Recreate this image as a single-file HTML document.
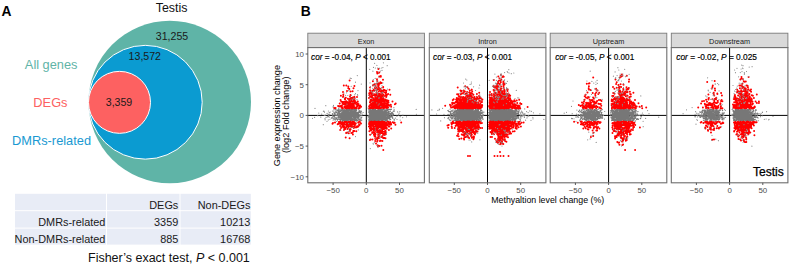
<!DOCTYPE html>
<html><head><meta charset="utf-8"><style>html,body{margin:0;padding:0;background:#fff;}body{width:791px;height:268px;overflow:hidden;position:relative;font-family:"Liberation Sans",sans-serif;}svg{position:absolute;left:0;top:0;display:block;}</style></head><body><svg width="791" height="268" viewBox="0 0 791 268" font-family='"Liberation Sans", sans-serif'><text x="1.4" y="15.9" font-size="13.8" font-weight="bold" fill="#000">A</text><text x="171.6" y="11.9" font-size="12.4" text-anchor="middle" fill="#111">Testis</text><circle cx="169.75" cy="102" r="81.25" fill="#5fb4a7"/><circle cx="145.3" cy="102.25" r="56.9" fill="#0b9bd1" stroke="#fff" stroke-width="1"/><circle cx="119.5" cy="102.35" r="31" fill="#fd6161" stroke="#fff" stroke-width="1"/><g font-size="10.6" fill="#1a1a1a" text-anchor="middle"><text x="172" y="40">31,255</text><text x="144.8" y="60.4">13,572</text><text x="119" y="105.8">3,359</text></g><g font-size="12.8" text-anchor="end"><text x="77.5" y="69" fill="#5fb4a7">All genes</text><text x="67.5" y="107.1" fill="#fd6161">DEGs</text><text x="91" y="144.7" fill="#1a99d2">DMRs-related</text></g><g fill="#e8ecf6"><rect x="15" y="193.8" width="91" height="16.4"/><rect x="107" y="193.8" width="72.5" height="16.4"/><rect x="180.5" y="193.8" width="70.3" height="16.4"/><rect x="15" y="211.2" width="91" height="16.4"/><rect x="107" y="211.2" width="72.5" height="16.4"/><rect x="180.5" y="211.2" width="70.3" height="16.4"/><rect x="15" y="228.6" width="91" height="16"/><rect x="107" y="228.6" width="72.5" height="16"/><rect x="180.5" y="228.6" width="70.3" height="16"/></g><g font-size="10.9" fill="#1a1a1a" text-anchor="end"><text x="178.3" y="208.8">DEGs</text><text x="250.4" y="208.8">Non-DEGs</text><text x="105.4" y="225.8">DMRs-related</text><text x="178.3" y="225.8">3359</text><text x="250.4" y="225.8">10213</text><text x="105.4" y="243.3">Non-DMRs-related</text><text x="178.3" y="243.3">885</text><text x="250.4" y="243.3">16768</text></g><text x="249.8" y="262.2" font-size="12.5" fill="#111" text-anchor="end">Fisher’s exact test, <tspan font-style="italic">P</tspan> &lt; 0.001</text><text x="300.8" y="16" font-size="13.8" font-weight="bold" fill="#000">B</text><rect x="307.8" y="33.2" width="116.6" height="14.4" fill="#d9d9d9" stroke="#7a7a7a" stroke-width="0.9"/><text x="366.1" y="43.7" font-size="7.3" fill="#1a1a1a" text-anchor="middle">Exon</text><rect x="307.8" y="47.6" width="116.6" height="135.2" fill="#fff"/><line x1="307.8" y1="115.4" x2="424.4" y2="115.4" stroke="#000" stroke-width="1"/><line x1="366.3" y1="47.6" x2="366.3" y2="182.8" stroke="#000" stroke-width="1"/><path fill="none" stroke="#8c8c8c" stroke-width="1.2" stroke-linecap="round" d="M342.7 121.4h0M345.7 115.8h0M329.8 114.4h0M358.2 113.3h0M348.2 115.4h0M347.9 117.5h0M328.5 116.3h0M325.3 115.1h0M347 111.1h0M344.4 115.9h0M354.3 110.6h0M356.4 112.5h0M354.6 115.5h0M341.6 115.4h0M333.8 119.1h0M352.5 118.3h0M333.9 116.8h0M337.8 113.8h0M332.4 114.9h0M352.9 114.1h0M342.1 121.5h0M344.7 116.7h0M363.2 112.5h0M342.4 111.8h0M352.5 119.6h0M354.1 111.7h0M352.1 116.4h0M340.6 115.7h0M349.2 119h0M345.1 111.7h0M328.4 116.7h0M339.3 115.8h0M338.4 118h0M333.1 120.1h0M328.9 115.4h0M321.7 114.2h0M340.8 118.3h0M333.9 109.7h0M337.3 115.7h0M352.2 111.3h0M346 110.5h0M340.8 109.1h0M348.7 108.8h0M335.3 118.1h0M334.2 118.3h0M352 115.4h0M343.6 118.9h0M344.2 115.1h0M357.3 113.2h0M332.4 111h0M351 117.9h0M344.8 118.1h0M325.1 119.8h0M342 112h0M335 114h0M338.3 110h0M351.9 119.3h0M331.4 117.7h0M338.1 117h0M355.4 115h0M339.5 114.5h0M353.7 113.7h0M348.8 119.2h0M334 112.7h0M341.7 118.4h0M339.2 116.1h0M345.7 111.3h0M349.2 109.6h0M340.2 112.1h0M342.7 114.9h0M338 110.2h0M338.7 117.4h0M355 119.3h0M335 117.1h0M349.4 108.7h0M338.5 106.3h0M312.5 118.3h0M337.4 120.7h0M351.7 113.6h0M327.2 117h0M332.5 114.1h0M338.4 112.7h0M350.6 118.8h0M351.6 113h0M341.3 118.3h0M336.4 121.5h0M343.7 114.6h0M345 122.1h0M347.5 110.1h0M344 118.5h0M348.8 115.1h0M323.3 124.7h0M349.3 115.2h0M330.2 112.1h0M349.8 121.2h0M339.4 109.3h0M348.4 116.7h0M345.2 112.2h0M346.2 120.3h0M346.8 114.7h0M341.4 118.3h0M350 114.9h0M348.1 110.9h0M354.4 106.9h0M348.3 121.8h0M355.1 116h0M341.4 110.7h0M341 113.9h0M347.7 118.8h0M348.3 109.4h0M359.2 123.6h0M340.8 114.1h0M334.9 113.7h0M354.7 119.9h0M339.9 115.9h0M323.4 111.3h0M341.2 118.5h0M351.9 116.8h0M351.5 119.3h0M341.8 111.6h0M337.3 110.8h0M336.9 117.4h0M327.1 113.4h0M342 106.9h0M335.8 112.8h0M351.1 117.4h0M339.7 112.3h0M328.3 119.9h0M318.8 113.1h0M351.4 114.7h0M342.7 108.9h0M335.4 112h0M328.1 114.3h0M347.5 117.2h0M317.7 115.7h0M355.2 119h0M333.6 106.8h0M355.7 115.1h0M354.7 114.5h0M328.4 111h0M362.6 114.8h0M347.5 112.2h0M355.9 116.6h0M338.9 113.7h0M338.2 116.9h0M349 111.5h0M358.3 119.8h0M348.1 116.5h0M344.6 121.8h0M354.1 114.5h0M350.9 113.1h0M347.3 115.5h0M360.2 113.2h0M333.2 111.1h0M336.3 115.1h0M341.2 114.8h0M336.2 112.5h0M353.5 113.5h0M336 111.3h0M324.3 115.5h0M337 109.9h0M339.4 121.4h0M351.3 115.1h0M341.3 118.6h0M340.6 110.4h0M340.3 116.3h0M343.5 114.5h0M353.9 118.7h0M333.4 118.3h0M338.5 108.8h0M349.7 119.4h0M349.5 109.3h0M361.9 120.1h0M348.8 114.8h0M342.6 110.4h0M356.2 117.7h0M356.3 115.1h0M323.9 111.2h0M324.5 112.2h0M356.9 116.8h0M340.7 109.8h0M348.6 111.7h0M341 122.1h0M335 112.1h0M350.4 116.4h0M334.4 116.7h0M325 118.7h0M348.3 118.4h0M333.5 105.4h0M361.9 113.2h0M329.9 119.5h0M356.7 112h0M340 122h0M346.8 116h0M342 110.3h0M320.8 117.2h0M344.7 122.4h0M343.3 112.4h0M329.4 117.1h0M348.7 111.6h0M347.4 112.8h0M348.4 115.4h0M346.6 117h0M350.5 116.4h0M332.9 115.8h0M338 124.2h0M340.3 110.9h0M338.9 107.9h0M340 117.2h0M355.7 115.7h0M358.3 109.5h0M344.7 121.6h0M333.9 112.3h0M335.9 109.6h0M327.7 116.6h0M350.5 117.5h0M342.1 124h0M352 109.1h0M347.4 110.1h0M341.2 114h0M341 113.3h0M328.5 114.7h0M346.1 112.3h0M350.6 109.1h0M357.2 113.3h0M350.3 117.7h0M348.4 118h0M339.2 112.5h0M350.6 117.1h0M353.4 116.6h0M341.7 113.1h0M332.4 113.7h0M343.1 115.2h0M358.3 125.7h0M346.5 115.7h0M338.7 111.6h0M352.1 114.4h0M345 112.9h0M334.8 119.4h0M352.9 106.7h0M340.7 110.8h0M332.6 118.2h0M354.8 116.6h0M328.4 115.1h0M354.4 117.8h0M356.6 109.9h0M341.5 116.4h0M353.6 110.7h0M354 110.1h0M362 117h0M344.3 112h0M343 113.7h0M332.6 117.4h0M336.9 111h0M314.6 117.4h0M348.4 123.7h0M355.4 114.3h0M348.3 118.7h0M351.7 118h0M338.1 110.2h0M349.1 109.8h0M349 115.1h0M333 106.9h0M337.6 115.2h0M344.4 116h0M358.4 116.9h0M360.1 116.8h0M335.2 120.2h0M345.7 113.8h0M340.4 120.3h0M358.3 117.1h0M348.5 117.1h0M341.1 114.5h0M344.4 118.8h0M343.6 112.2h0M334.8 117.9h0M335.8 119.4h0M329.2 112.5h0M347.8 111.4h0M339.4 112.2h0M347.1 114.9h0M341.2 116.5h0M331.3 118.5h0M358.6 122.4h0M327 121.3h0M344.7 116.1h0M341.8 113.6h0M348.5 110.5h0M343.4 118.3h0M338 117.1h0M351 114h0M340.2 114.5h0M348.2 114.6h0M350.3 105.2h0M345.6 114.9h0M344.3 116.3h0M347.8 114.6h0M350.2 111h0M335.8 115.3h0M360 116.9h0M356.1 122h0M351.8 119.2h0M326 117.4h0M335.7 114.9h0M351.3 109.9h0M348 113.3h0M351.1 109.8h0M345.8 114.7h0M358.5 119.2h0M342.6 119.1h0M354.2 118.6h0M344 115.2h0M359.2 118.9h0M329.1 114h0M349.2 107.6h0M361.3 115.6h0M340.5 115.2h0M315 108.4h0M334.1 113.1h0M325.8 105.7h0M389.2 113.8h0M380.9 114.7h0M382.4 117h0M375.4 118.2h0M386.7 110.4h0M384.2 110.7h0M387.8 112.7h0M394.2 119.2h0M377.1 115.8h0M378.4 114.6h0M416.2 109.4h0M369.4 109.6h0M371.8 116.4h0M372.8 110.8h0M374.1 118.7h0M399.9 111.6h0M370.9 115.7h0M368.1 117.9h0M376.7 117.2h0M380.1 114.9h0M375.1 123.4h0M390 114.7h0M386.4 116.7h0M379.6 113.7h0M380.8 119h0M373.9 119.8h0M380.3 119.7h0M378.1 116.2h0M372.3 118.8h0M374.9 111.1h0M375.9 113.5h0M402.7 117.6h0M384.2 106.4h0M387.6 108.7h0M384.9 117.8h0M369.7 115.7h0M379.1 114h0M374.7 114.2h0M377.9 120.9h0M385.8 116.8h0M378.2 113.6h0M383 109.2h0M374.4 115.5h0M377.4 110.5h0M375 114.2h0M381.9 112h0M372.9 120h0M385.2 112.2h0M376.3 114.9h0M382.3 120.5h0M376.3 106.3h0M387.8 113h0M371.6 108.7h0M378.2 121.3h0M400.2 116.7h0M372.6 114.7h0M390.7 115.7h0M395.6 118.1h0M377.2 117.3h0M375.3 115.6h0M383 118.9h0M378.9 116.6h0M387.5 122.8h0M372 110.9h0M391.5 113.8h0M373.5 118.1h0M381.5 118.4h0M373.5 113.1h0M382.2 120.3h0M370.6 118.9h0M393.9 121.9h0M381.9 114.1h0M385.2 119.9h0M385 114.9h0M377.8 116.6h0M381 118.2h0M382.6 113.5h0M378.7 114h0M384.8 122.1h0M379.3 111.4h0M381.6 117.4h0M377.3 120.5h0M368.4 121.1h0M375.2 114.5h0M384.7 111.2h0M397 119.5h0M378.3 113h0M378.4 115.2h0M377.7 112.3h0M390.7 109.6h0M384.3 112.7h0M377.8 114h0M373.9 108.1h0M379.5 120.6h0M386.1 114h0M382.9 121.4h0M368.4 119.6h0M381.9 112.8h0M376.6 114.9h0M375 113.3h0M387.5 115h0M385.1 115.4h0M378.6 116.6h0M384.8 116.7h0M392.9 115.7h0M374.7 112.6h0M383.9 108.9h0M379.6 115.9h0M392 114.2h0M375.5 117.6h0M368.6 112.6h0M388.5 116.1h0M376.6 111.3h0M392 116.5h0M369.3 114h0M376.7 116.7h0M369.4 125.2h0M380.5 118.2h0M384.4 114.6h0M388.7 116.2h0M380.4 115.2h0M379.7 114.9h0M383.5 115.3h0M402.9 115.1h0M374.8 115.1h0M387.5 119h0M371.7 118.9h0M381.8 121.8h0M368.5 117h0M380.1 116.8h0M383.6 124.4h0M391.3 109.5h0M368.7 115.9h0M379 117h0M383.5 117.6h0M391.9 112.6h0M389.6 113.6h0M394.1 109.5h0M382.1 113h0M393.9 107.7h0M386.3 118.1h0M416.4 114.3h0M393.4 111.1h0M387.7 120.5h0M392.7 115h0M380.3 111.2h0M381.8 116.8h0M371.6 113.1h0M370.3 107.6h0M388.7 115.3h0M386 120.9h0M369.5 108.4h0M379.6 113.3h0M388.4 117.7h0M375.3 116.2h0M378.8 118.5h0M388 114.1h0M389.1 120.1h0M392.6 115.1h0M372.4 114.7h0M375.6 116.6h0M374.8 113.9h0M388.2 113.8h0M399.1 113.2h0M389 111.8h0M392.3 112.2h0M372.2 109.8h0M385.6 117.1h0M396.9 116.2h0M385.1 107.4h0M390.9 113.3h0M371 115.2h0M380 111.1h0M390.3 116.6h0M376.4 112.7h0M379.6 115.1h0M378.7 111.3h0M374.5 115.7h0M381.2 115.6h0M378.8 123.8h0M372.2 121h0M390.9 115.6h0M371.1 115.2h0M379.6 115.3h0M372.6 116h0M389.2 106.7h0M380.3 114.8h0M373.5 117.4h0M386.9 115.1h0M387.5 110.4h0M387.1 109.1h0M368 108h0M374.2 121.2h0M382.4 117.8h0M400.2 120.1h0M390.4 113.8h0M388.8 112.1h0M378.7 108.9h0M368 116.3h0M384.2 109.5h0M397.6 111.9h0M381.3 119.4h0M383.7 120.6h0M388 114h0M387.2 118.3h0M384.1 115.5h0M406.5 116.8h0M394.3 110h0M371.7 116.1h0M377.5 115.9h0M383.3 116.5h0M380.1 116.4h0M379.5 115.5h0M381.7 117.1h0M373.4 112.1h0M374.9 116.4h0M376.2 111.6h0M381.6 115.4h0M392.7 113.3h0M379.6 112.3h0"/><path fill="none" stroke="#777" stroke-width="1.5" stroke-linecap="round" d="M349.9 116.2h0M350.1 115.4h0M348.4 117.4h0M336.5 112.4h0M351.8 116.2h0M343.7 112.3h0M347.9 116.9h0M343.6 115.2h0M356.6 113.2h0M353.2 109.3h0M346.3 120.9h0M350.7 118.9h0M340.1 118h0M345.4 112.1h0M348.3 113.3h0M345.7 117.5h0M343.5 111.4h0M339 114.8h0M348.7 115.2h0M346.3 113.9h0M338.8 111.1h0M347.7 119.4h0M348.5 116.9h0M357.2 113.9h0M351.3 112.4h0M349.6 114.6h0M348.8 118h0M352.5 113.3h0M342.7 118.9h0M348.5 115.2h0M339.2 111.8h0M341.6 110.2h0M348.2 114.1h0M346.7 116h0M345.2 120h0M347.3 114.7h0M347 110.3h0M342.6 115.9h0M348.4 113.7h0M347.1 113.7h0M342.6 109.6h0M354.2 117.1h0M355.9 116.1h0M347.8 120.8h0M347.9 118.9h0M356 118h0M342.4 119.5h0M351.7 113.7h0M350.8 113.1h0M349.4 114.6h0M354 110h0M345.2 114.2h0M353.7 113.5h0M348.7 117.3h0M344.7 114.7h0M351.4 114.9h0M351.6 120.2h0M351.3 111.9h0M348.3 114.8h0M335.2 109.7h0M354.7 112.7h0M341.5 115h0M350 109.8h0M349.3 115.9h0M354.9 116.4h0M355.5 110h0M341.9 114.9h0M347.9 118.9h0M345.2 114.1h0M344.2 116.5h0M350.8 117.3h0M346.2 113.9h0M346.7 118.6h0M352.1 116.3h0M343.5 111.1h0M350.9 116.8h0M349.7 118.1h0M347.8 117.9h0M342 112.4h0M358.9 116.6h0M346.7 120.1h0M351.5 115.7h0M339.8 119.4h0M355.3 119.8h0M355.9 114.7h0M344.7 117.4h0M343.1 113.8h0M352.7 118.9h0M348.1 114.5h0M353.8 112.8h0M345.7 114.8h0M347.9 114.6h0M345.8 116.4h0M345.1 116.7h0M347.6 110.5h0M348.4 112.4h0M349.9 116.3h0M350.5 116.7h0M350.9 115.2h0M342.3 119.2h0M352 114.6h0M350.2 117.7h0M348.5 120h0M346 116.3h0M348.6 115.3h0M339.9 115.2h0M346.2 120.9h0M337.7 114.4h0M355.3 118.5h0M347.8 113.9h0M348.3 115.7h0M341.5 119.3h0M352.4 115.3h0M338.9 119h0M334.8 114.7h0M354.4 113.5h0M350.3 114.2h0M342.9 113.1h0M343.3 114.6h0M352.4 120.2h0M337.3 110.6h0M346.4 115h0M353.5 119h0M351.9 120.1h0M345 119.8h0M359.3 112.3h0M341.7 115.5h0M345 112.8h0M341.7 117.4h0M348.7 109.2h0M343 110.1h0M346.2 115.9h0M344.4 119.5h0M357.7 120.5h0M341.9 109.3h0M348.7 115.7h0M349.9 119.2h0M346.4 113.2h0M339.5 113.4h0M347.6 115.3h0M348.9 114.5h0M351.4 117.1h0M349.3 119.2h0M353.8 115.5h0M335.8 118.1h0M343.7 111.3h0M347.3 111.2h0M355.3 117.2h0M341.2 115.9h0M348 119.4h0M350.5 114.1h0M354.5 118.7h0M352.9 112.9h0M349.5 117.8h0M349.3 116.8h0M355 116.8h0M345.9 120.5h0M356.8 119.4h0M349.2 113h0M348.8 118.7h0M348 119.1h0M347.3 117.4h0M353.5 117.3h0M347.2 115.6h0M346.8 118.5h0M343.5 113.7h0M346.7 118h0M343 114.4h0M344.2 113.8h0M350.3 115.9h0M343.1 115.2h0M355.9 116h0M350 119.6h0M354.6 115.4h0M354.5 116.2h0M351.6 118.2h0M352.6 112.1h0M337.3 115.1h0M351.9 116.4h0M337.8 119.3h0M356.2 112.6h0M345.5 114.5h0M341.5 117h0M347.8 114.3h0M344 114.5h0M341 116.4h0M345 111.7h0M343.9 112h0M352.8 115.6h0M352.8 114.2h0M358.5 112.8h0M345.3 117.5h0M347 119.3h0M351.3 117.7h0M344.4 113.8h0M360.9 118.7h0M344.6 110h0M342.9 115.6h0M353.9 117.4h0M349.1 117.6h0M352.6 111.1h0M351 109.8h0M353.8 113.5h0M347.7 109.2h0M346.2 110.7h0M350.1 115.5h0M360.4 119.9h0M353.9 115.4h0M342.6 120h0M346 116.2h0M348.2 117.2h0M350.6 119.1h0M346.5 113.9h0M351.5 116.5h0M341 113.9h0M348.9 112.9h0M340.2 117.8h0M355.1 112.2h0M347.3 115.6h0M347.1 112.3h0M343.4 115h0M347.1 113.3h0M348.6 119.5h0M357.6 115.6h0M344.5 115.6h0M359 111h0M347.7 115.2h0M344.4 116.9h0M343.9 117.7h0M354.3 116.2h0M345.1 111.9h0M350 116.3h0M345.6 114.2h0M346.5 110.9h0M340.7 116.8h0M353.8 113.3h0M348.3 113.4h0M344.7 115.9h0M354.5 116h0M348.1 112h0M345.3 119.9h0M344.1 111.3h0M339.7 110.9h0M349.8 116.3h0M346.8 115.6h0M346.3 115.4h0M349.3 113.5h0M347.1 115.3h0M342.6 113h0M349.1 117.9h0M338.4 111.2h0M353.2 114.2h0M357.3 117.9h0M351.3 115.2h0M348.7 109.8h0M351 112.2h0M355.4 115.4h0M356.6 120.2h0M343.9 114.1h0M348.5 109.6h0M347.4 119.4h0M350.9 111.6h0M346.3 114.3h0M350.2 118.4h0M344.2 112.5h0M349.8 113.3h0M347.5 116.9h0M350.2 114.3h0M350.5 116.1h0M345.3 111.4h0M351.7 114.6h0M348.2 110.9h0M347.7 109.1h0M357.9 116.8h0M349.5 118.5h0M346.2 111.3h0M348.3 114.9h0M343.4 114.2h0M352.9 109.6h0M349.8 117.1h0M344.6 112.3h0M332.9 114.2h0M353.5 109.3h0M343.2 118.8h0M344.3 117.9h0M349 116.5h0M343 111.6h0M346.8 113h0M350.3 119.7h0M340.8 114h0M354.7 116h0M353.1 115.6h0M351.6 110.8h0M354.8 120.8h0M352 115.9h0M351.1 114.7h0M334.2 116.3h0M357.9 117h0M347.3 115.2h0M354.6 111.9h0M355.1 116.7h0M350.6 119.3h0M349.3 115.9h0M344 118.3h0M340.8 117.9h0M340.6 120.3h0M350.9 112.5h0M352 113h0M353.4 117h0M351.9 117h0M345.1 120.8h0M359.4 119.4h0M352.3 115.7h0M359.4 115.9h0M341.7 114h0M352.3 113.6h0M350.8 113.3h0M344.8 118.5h0M351.8 113.3h0M343.5 113.7h0M349.2 115.7h0M355.7 113.1h0M353 114.2h0M338.7 116.5h0M344.5 113.9h0M348 115.8h0M349.3 116.5h0M350.8 115.8h0M344.5 115.9h0M341.2 117.6h0M349.5 116.9h0M351.9 114h0M346.8 116.3h0M350.7 120.3h0M345.4 114.2h0M352.4 112h0M356.7 120.5h0M341.7 116.5h0M358.2 114.9h0M353.1 116.2h0M359.3 114.9h0M343.7 116.6h0M345 114h0M353.2 116.4h0M345.3 116.1h0M350.6 113.1h0M343.6 114.6h0M346.7 116.7h0M353.6 117h0M347.2 117.7h0M336.6 118.5h0M353.7 116.5h0M344.3 117.5h0M346.5 114.1h0M344.4 114.5h0M343.4 119.4h0M349.6 116.9h0M351.4 116.8h0M345.8 111.9h0M348.2 110.4h0M349.8 109.8h0M343.4 118h0M347.7 113.8h0M360.9 115.3h0M343.5 116.2h0M344.2 116.8h0M348 117.2h0M348.9 115.7h0M356.2 109.1h0M344.9 120.7h0M346.7 119.9h0M341.9 112.9h0M354.1 114.4h0M348.1 113.2h0M345.6 113.8h0M346.9 115.1h0M350.8 114.1h0M360.9 111h0M347 118.4h0M338.3 112.9h0M354.4 120.3h0M342.4 114.6h0M352.2 112.5h0M342.8 116.8h0M358.1 118.5h0M361.2 111.6h0M349 114.1h0M361.1 120.6h0M352.2 111.3h0M359 111.9h0M339.9 115.8h0M347.7 110.5h0M349.1 116.6h0M350.2 117.6h0M349.9 117.4h0M351 116.6h0M356.4 110.5h0M342.6 117.7h0M347.6 119.5h0M352.1 112.5h0M348.4 118.7h0M349.7 113.7h0M355.1 115.9h0M351.9 116.5h0M354.7 109.5h0M356.5 120.7h0M353.3 111.9h0M342.8 114.8h0M345.8 113.3h0M356.9 116.9h0M350.3 116.8h0M355.2 115.2h0M350.9 120.5h0M357.2 116.2h0M353.1 113.6h0M350.6 114.1h0M358.3 114.1h0M343.4 111.8h0M353.1 111.9h0M350.4 117.4h0M343.5 119.1h0M354.4 119.5h0M356.3 112.5h0M348.3 116.1h0M351.1 110h0M349.9 117.9h0M352.9 116.5h0M347.4 112.8h0M346.1 114.8h0M350.8 114.2h0M346.2 112.7h0M343.8 120.2h0M349.7 118.3h0M351.6 119.2h0M340.7 115.8h0M349.1 113.8h0M334.6 113.8h0M352.3 116.7h0M349.1 114.7h0M353.4 117.4h0M356.7 115h0M345.4 117.4h0M346.6 110.3h0M344.2 114.8h0M352.1 120.4h0M347 111.2h0M353.4 112.6h0M345.1 120.4h0M357.4 116.7h0M346 119.2h0M347.6 115.7h0M338.7 110.3h0M350.1 109.9h0M346.3 116.7h0M340.5 119.7h0M347.9 109.5h0M346.2 110.9h0M337.4 112.9h0M341.4 114.7h0M351.6 110.1h0M350.7 117.4h0M350.4 113.8h0M357.1 113.2h0M348.1 113.3h0M355 116.5h0M353.2 119.9h0M347.1 110.6h0M356.7 112.9h0M347.2 120.3h0M344 112.5h0M348.9 113.5h0M350 110h0M345.6 112.2h0M340 117.7h0M347.4 112h0M348.8 110.1h0M351.1 112.7h0M353.7 115.8h0M343.8 112.9h0M348.7 115.7h0M344.5 116.8h0M352.1 115.5h0M357.8 116.2h0M350.2 114.2h0M342.3 118.3h0M343.5 109.9h0M344.3 119.1h0M346.9 113.1h0M348.8 120.1h0M345.1 113.1h0M343.7 116.5h0M354.7 114.4h0M337 119.2h0M347.9 119.2h0M350.1 119.3h0M341 117.7h0M349.5 115.8h0M343.4 111.4h0M352.5 116.8h0M338.3 115.6h0M348.1 109.6h0M355.8 111h0M345.3 110.7h0M346 111.6h0M343.8 114.2h0M343.8 117.6h0M348.5 120.1h0M340.6 111.3h0M356.1 112.8h0M342 120.9h0M348 118.4h0M356.5 115.9h0M349.2 111.1h0M347.1 115.6h0M347.9 112.7h0M349.2 115.3h0M351.2 116.1h0M359.3 110.8h0M345.7 111h0M357.5 112.4h0M358.2 112.6h0M349.4 114.1h0M344.4 116.4h0M339.5 115.9h0M347.9 118.8h0M351.5 109.8h0M343.7 115.8h0M343.1 115.9h0M348.2 114.1h0M350.8 116.2h0M342.6 111.9h0M346.8 116.6h0M354.5 116.5h0M350 112.6h0M350.5 113.3h0M346.8 114.9h0M354.1 117.2h0M350.6 110.6h0M351.6 118.4h0M345.3 113.7h0M343.1 120.6h0M355.6 113.4h0M342.7 112.6h0M361.2 117.4h0M351.6 117.2h0M345.8 113.4h0M350.9 114.5h0M355.4 118.1h0M351.2 117.4h0M359.7 111.8h0M359.4 119.8h0M355.3 116.2h0M353.1 111.3h0M348.7 118.8h0M341 114.3h0M355.4 118h0M352.5 112.9h0M351.1 116.4h0M344.5 116.4h0M348 109.2h0M347.5 115.6h0M347.3 114.7h0M344.8 117.8h0M345.2 116.9h0M349.3 119.6h0M355.1 110.9h0M350.9 110.4h0M347.1 111.9h0M345.6 112.8h0M356.9 114.9h0M353.9 115.7h0M358.4 117.3h0M350.3 114h0M350.2 111.1h0M341.9 118.6h0M348.4 113.7h0M347 119.3h0M338.7 117h0M349.3 113.8h0M344.7 119.5h0M355.5 118.1h0M350.8 113h0M347.3 112.9h0M338.7 117.3h0M348.1 114.1h0M333 116h0M350.9 115.7h0M345.5 116.5h0M354.1 111.6h0M356.3 114.5h0M345.6 112.4h0M354.5 117.8h0M348.3 113.3h0M350.9 114.5h0M352.3 109.3h0M360.6 112.7h0M346 118h0M356.2 115.3h0M338.5 113h0M346.6 120.8h0M349.2 114.7h0M345.8 113.6h0M345.3 119.4h0M357.6 117.1h0M355.3 110.7h0M355.3 112h0M352 112.4h0M340.5 115.5h0M346.7 115.4h0M347.6 116.1h0M350.9 115.8h0M344.2 120.3h0M347.4 117.7h0M341.8 117.9h0M350.9 113.5h0M347.4 110.8h0M347.1 117.2h0M349.8 115.1h0M351.2 118.3h0M345.3 110.1h0M344.6 115.1h0M348.9 118.8h0M344.4 109.7h0M347 112.9h0M346.6 109.5h0M351 115.4h0M344.9 116.1h0M349.3 113.8h0M349.2 119.8h0M350.2 120.3h0M342.1 115h0M353.4 114.1h0M343.1 113.9h0M354.1 113.3h0M352.5 120h0M347.3 115.9h0M340.5 113.7h0M350.3 114.1h0M346.8 117.1h0M352.5 113.5h0M345.4 116.2h0M359.6 114.9h0M356 120.2h0M349.8 119.4h0M348.5 109.6h0M344.1 114.4h0M358.7 117.7h0M357.7 113.3h0M344.1 118.1h0M340.6 116.3h0M381 112.9h0M382.2 115h0M378.9 116.3h0M382.3 111.4h0M377.4 114.9h0M380.1 120h0M369.8 114.1h0M370.5 114.2h0M374.7 113h0M385.6 116.3h0M385.7 117h0M377.1 111.8h0M373.7 115.5h0M371.3 118.7h0M381.4 118.4h0M383.6 109.4h0M371.2 113h0M386.2 120.1h0M376 112.7h0M378.7 115.1h0M387.1 115.5h0M386.1 114.7h0M377.6 116.1h0M373.5 110.7h0M381.1 116.1h0M384.6 117.4h0M374.4 111h0M378.2 115.7h0M383.9 112.8h0M381.1 110.2h0M382 111.7h0M377.7 118h0M375.4 114.4h0M392.5 117.7h0M378.5 113.9h0M376.8 111h0M388.9 112.7h0M377.2 116h0M376 111.8h0M378.5 110.6h0M381.4 112.2h0M380.4 115.9h0M380.6 119.7h0M387.2 115.2h0M371.3 119.6h0M372.2 114.5h0M377.3 116.2h0M378.4 118.8h0M376.9 117.2h0M378.2 119.1h0M372.1 111.6h0M369.6 114h0M378.3 115.1h0M371.2 116.4h0M371.7 117.2h0M386.3 118.7h0M380.5 113.5h0M372.5 111.1h0M380.4 113.4h0M376.1 114.3h0M376.6 113.4h0M372 111.6h0M374.3 118.3h0M369.5 118.7h0M375.9 118.7h0M375.8 117.9h0M382.2 117.1h0M379.9 113.4h0M381.1 113.6h0M378.3 116.1h0M379.6 116h0M375.1 117.4h0M369.6 112.7h0M378.5 115h0M377.2 113.1h0M376.3 120.8h0M385.5 119.2h0M375.1 115.4h0M378.6 113.2h0M380.7 117.3h0M384 116.1h0M382.3 114.9h0M382 113.2h0M372.7 109.3h0M378.6 110h0M380.2 112.4h0M375.4 111.6h0M371.9 115.2h0M371.5 117.7h0M378.3 112.9h0M374.7 120.1h0M374.4 115.6h0M370.5 118.1h0M376 119.2h0M369 116.7h0M371.2 111.7h0M373 113.9h0M390.1 117h0M377.8 114.8h0M391.3 116.8h0M372.4 114h0M381.2 116.1h0M369.6 113.2h0M372.2 112.1h0M382.3 116.9h0M370.6 120.3h0M377.3 115.2h0M369.7 119.6h0M372.3 110.2h0M378.5 114.4h0M377 114.5h0M380 117.8h0M382.4 115.3h0M384.5 117.1h0M377.9 120.6h0M380.3 111h0M377.4 114.7h0M372.8 116.5h0M380.6 112.6h0M377.4 116.4h0M378.8 111.3h0M375.4 114.1h0M380.3 119.7h0M381.6 118.2h0M377.3 118.4h0M374.1 114h0M370.8 114.2h0M386 118.5h0M387.8 114.3h0M370.6 111.9h0M376.5 116.9h0M381.6 113.1h0M376.1 113.2h0M381 114.7h0M376.1 112.1h0M376.1 116.6h0M375 113.6h0M375.5 120.4h0M381 118.2h0M382 119.2h0M371.7 110.3h0M375.1 111.4h0M378.3 116.2h0M373.6 116.9h0M381.1 113h0M384.3 114.1h0M375.2 111.3h0M373.7 113.1h0M371.2 116.4h0M378.3 120.3h0M374.7 117h0M377 118.3h0M372 115.2h0M379 116.9h0M372.3 118.6h0M371.9 111.6h0M378.6 118.6h0M369.8 117.2h0M374.4 118.8h0M383.9 116.6h0M377.7 112.5h0M373.3 113.4h0M375.9 115.1h0M372.7 111.9h0M376.7 112.7h0M391.3 112.9h0M376.2 111.2h0M372.9 110.9h0M370.5 113.9h0M375.4 112.6h0M377.6 119.8h0M375.7 114.8h0M373.9 114.6h0M373.9 118h0M381.8 114.6h0M384.6 114.8h0M387.2 119.2h0M374.3 118.5h0M369.8 114.1h0M380 110h0M386.6 112.6h0M377.5 117h0M380.8 113.7h0M377.8 114.7h0M380.5 109.3h0M372.5 119.4h0M380.8 114h0M373.8 109.2h0M373.4 111.2h0M374.4 116.5h0M384.9 120h0M369.7 116h0M381.6 115.6h0M371.6 114.2h0M374.3 120.9h0M375.8 119.7h0M371.3 115.1h0M370.8 117.1h0M373.7 114.3h0M375.8 116.6h0M370.6 117.4h0M378.4 111.6h0M379.3 119.7h0M379 115.5h0M382.6 118.9h0M370.1 116h0M370.8 114.7h0M377.8 120h0M372.4 116.4h0M375.8 120.8h0M377.1 117.2h0M378.8 112.1h0M379.4 115.3h0M379.3 112.2h0M380.8 111h0M373.7 115.7h0M382 109.5h0M379.1 114.6h0M378.6 119.8h0M376.1 117h0M379.1 113h0M377.7 114.1h0M378.9 117.6h0M375.8 120.8h0M379.3 114h0M374.6 115.4h0M381 116.8h0M372.7 114.3h0M378.7 116.3h0M380.2 116h0M372.9 119.8h0M384.7 112.8h0M377.3 115.3h0M389.8 116.2h0M379.7 112.3h0M375.5 113.8h0M375.8 114.9h0M380.6 109.6h0M377.4 113.2h0M376 110.8h0M388.1 113.1h0M379.4 112.5h0M377.7 113.2h0M382.6 117.5h0M377.7 119.5h0M377.1 118h0M375.9 112h0M377 116.1h0M378.2 110.3h0M378.4 117h0M388.5 117.6h0M376.1 113.7h0M382.3 115.1h0M384.8 117.9h0M382.2 117.6h0M381.2 112.9h0M381.5 112.3h0M379 113.7h0M381.6 112.7h0M373.7 114.9h0M375.7 117h0M380 109.8h0M378.1 112.1h0M386.2 113.6h0M379.6 114.2h0M378.4 113.1h0M375.1 116.2h0M372.8 117.3h0M375.7 117.4h0M376.2 113.9h0M375.4 115.8h0M371.5 115.6h0M389.2 118.7h0M373 114h0M373.1 112.1h0M376.4 115.3h0M369.4 118.7h0M384.6 115.6h0M370.3 115.4h0M375 112.3h0M378.8 116h0M372.5 115.7h0M376.8 111.2h0M384 117.2h0M377.8 113.2h0M380.3 114.2h0M382.2 116.7h0M391.9 116.5h0M375.4 115.3h0M375.2 114.7h0M371.2 117.2h0M375.1 116.9h0M375.8 112.2h0M385 115.2h0M374.9 114.6h0M371.8 117.8h0M370.7 118.5h0M383.6 115.4h0M379 113.5h0M373.1 111.7h0M379.9 114.5h0M389.5 117.2h0M374 117.1h0M377.8 114.8h0M371.7 119.3h0M389.6 116.1h0M382.1 114.1h0M383.5 119.2h0M390 116.3h0M375 111.9h0M374.9 116.2h0M375.4 112.1h0M376.5 118.5h0M376.3 114.2h0M370.7 116.8h0M381.5 115.2h0M372.6 118h0M378.7 116.2h0M378.3 115.6h0M377.4 116h0M372.8 109.6h0M378.1 119.9h0M373.2 112.6h0M373 116.6h0M376.3 113.1h0M381.2 114.2h0M377 113.3h0M382.9 112.6h0M373.7 119.7h0M370.9 110.8h0M376.2 115.4h0M374.1 118.9h0M386.7 109.9h0M380.9 110.7h0M384.7 114.4h0M369.7 116.9h0M372.5 110.2h0M387.1 114.6h0M384.7 116.9h0M398.6 115h0M372.3 112.1h0M377.7 116.6h0M377.9 119.1h0M374.1 119.7h0M380.6 119.7h0M371.4 118.8h0M378.1 116.1h0M374.6 117.5h0M372.5 119.1h0M383.1 114.1h0M377.4 110.5h0M370.1 114.1h0M379.2 117.5h0M386.8 113h0M374.2 112.6h0M377.3 110.4h0M378.6 117h0M379.6 111.1h0M376.5 114.2h0M384.5 112.4h0M382.8 119.8h0M378.3 118.7h0M380.5 112.5h0M373.9 111.4h0M373.1 116h0M370.5 110h0M377.4 113.2h0M379.5 117.6h0M376.2 115.2h0M383.4 118.2h0M388.8 112.3h0M377.9 113.3h0M375.1 114.5h0M372.4 118.1h0M384.4 119.1h0M373 119.5h0M373.7 115.4h0M376.7 112.4h0M377.8 113.5h0M377.1 115.1h0M388.5 109.4h0M375.6 111.6h0M375.7 116.1h0M374.1 115.9h0M374.4 111.7h0M384.8 118.6h0M380.5 115.4h0M379.8 114.6h0M373.9 117.5h0M372.1 116.3h0M374.2 111.2h0M383.5 112.6h0M378.3 109.8h0M383.3 117.3h0M380.9 114.6h0M386 118.4h0M384.4 112.4h0M372.7 110.7h0M376.4 119.1h0M379.2 118.1h0M383.8 109.7h0M379.8 118.9h0M378.2 112.4h0M372.9 120.6h0M377.1 116.9h0M381.7 112.8h0M373.6 114.2h0M377.5 114.4h0M377.3 117.5h0M379.5 113.9h0M387.2 117.8h0M382.3 117.7h0M386.3 115.1h0M377.8 110.9h0M371.7 118.1h0M375.8 111.6h0M378 112.1h0M381.9 117.2h0M390.4 117h0M376.3 113.5h0M376.7 112.9h0M370.8 119.9h0M381.4 117.6h0M373.7 114.6h0M383.3 112.8h0M376.3 113h0M384.5 115h0M373.5 120.2h0M387.4 114.8h0M375.6 111.8h0M381.2 120h0M379.8 118.9h0M374.9 115.4h0M372.3 119.7h0M382.8 115.8h0M371.3 114.7h0M378.1 112.4h0M371.4 113.5h0M380.4 115.6h0M375.1 115.7h0M385.2 113h0M382.8 113.2h0M379.4 110.3h0M384.4 113.1h0M374.4 114.4h0M375.5 111.5h0M385.8 112.6h0M376.1 112.2h0M379.2 114.6h0M381.1 111.9h0M373.8 119.3h0M372.4 111.9h0M379.9 114.1h0M373.5 120.4h0M381.6 114.9h0M383.3 119.7h0M376.4 114.3h0M380.7 117.9h0M369.4 111.6h0M375.1 117h0M381.3 111h0M381.6 114.9h0M372.1 112.5h0M379.5 115.5h0M386.2 110.6h0M382.4 117.1h0M369.4 115.4h0M370.6 119.8h0M382.9 115.7h0M372.1 115.4h0M379.3 111.8h0M379 109.9h0M381.2 115.5h0M379 110.7h0M374 120.1h0M381 120.3h0M373.9 117h0M374.6 119.5h0M381.7 114.7h0M370 113h0M377 114.1h0M378.5 119.7h0M383.9 112h0M370.9 116.5h0M389.6 118.2h0M387.7 109.4h0M381.8 112.4h0M382.2 113.7h0M380.8 115.2h0M386.1 112.2h0M380.6 112.2h0M369 111.1h0M376.7 111.1h0M378.4 116.3h0M380.5 113h0M380.4 110.9h0M380.3 110.6h0M380 112h0M377.8 115.7h0M381.3 116.5h0M381.5 110h0M376.2 112.9h0M372.1 113.6h0M372.3 117.9h0M378 112.2h0M375.2 113.7h0M381.8 111.1h0M382.2 111.3h0M378.2 112.5h0M379.9 119.2h0M389.6 116.3h0M388.5 116h0M372.8 109.2h0M390.2 111.3h0M382.1 117.8h0M377.5 115h0M381.1 119.1h0M375.7 115h0M376 117h0M369.3 115.4h0M382.1 117h0M376.6 116.4h0M376.7 119.1h0M382.7 113h0M374.8 114.2h0M371.4 112.4h0M378.7 115h0M376.7 116.7h0M376 115.3h0M384.8 112.4h0M383.3 113h0M390.1 113.8h0M386.5 112.6h0M377.7 113.6h0M375.8 118.4h0M374.4 117.2h0M382.5 120.3h0M385 111.1h0M370.2 110.3h0M375.7 118.8h0M385.3 117.6h0M382.5 112.8h0M383.5 113h0M376.3 116h0M379.9 119.9h0M370.5 120.8h0M378.4 112.6h0M379.9 118.4h0M382.4 114.3h0M379.9 117.1h0M373 117.3h0M374.8 117.1h0M381.5 112.8h0M392.7 118.3h0M381.4 113h0M386.8 118h0M391.7 113h0M387.2 117.6h0M381.1 112.8h0M371.6 114.8h0M376.9 118.6h0M380.6 117.6h0M376.1 113.7h0M380.4 113.8h0M375.9 110.9h0M381.3 112.2h0M377.4 115.9h0M375.6 116.1h0M378.7 117.8h0M390.5 119.4h0M382.7 118.8h0M378 116.5h0M377.6 116.3h0M376 114.2h0M378.6 119.7h0M375.5 112.3h0M371.2 112h0M378.7 116.3h0M369 109.6h0M386.5 113.8h0M370.6 109.3h0M375.3 111.8h0M377.6 118.7h0M377.5 112.8h0M381.7 110.7h0M389.8 109.4h0M373.9 117.3h0M380.8 113.6h0M379 115h0M388.4 109.8h0M372 115.5h0M369.6 120.2h0M370.7 115.6h0M370.9 120.3h0M385.7 119.3h0M376.5 116.3h0M383.4 112.2h0M379.5 115.6h0M378.4 119.4h0M376.1 117h0M376.5 115h0M387.9 116.5h0M377.3 115h0M382 118.2h0M385.2 114.2h0M381.3 116.6h0M375.8 115.8h0M380.5 114.4h0M382.9 113.4h0M380.9 112.3h0M380.8 111.5h0M377.3 118.1h0M378.5 115.4h0M372.6 110.2h0M373.9 114.4h0M384.6 114.9h0M374.3 114h0M369.9 111.5h0M374.3 115.1h0M373.3 116h0M390.9 115.1h0M376 118.5h0M375.5 111.4h0M373.9 112.4h0M374.6 111.3h0M387.1 115.4h0M381.6 118.8h0M371.6 120.8h0M378.4 115.5h0M379.2 112.6h0M370.7 110.8h0M379.2 113.6h0M385 113h0M377.7 112.5h0M386 114.6h0M387.2 116.5h0M372.1 109.8h0M381 116.3h0M379.1 112.8h0M380.5 114.6h0M373.2 117.3h0M371.7 114.6h0M379.1 110.5h0M375.8 115h0M384.4 119.2h0M381.7 112.7h0M385 110.6h0M370.5 110.9h0M381.6 119.7h0M387.6 116.2h0M377.5 114.7h0M379.3 115.6h0M384.2 119.7h0M372.2 113.6h0M379.2 110h0M385.5 119.1h0M378.4 113.7h0M377.3 119.4h0M381.8 120.8h0M369.8 114.7h0M380.5 114.7h0M370.8 114.5h0M379.5 114h0M373.3 114.6h0M379.2 120.3h0M369.3 116.9h0M373.3 117.2h0M379.4 113.6h0M374.1 114h0M378.8 112.7h0M371.8 118.9h0M369.9 111.4h0M373.2 117.1h0M381 113.7h0M379 113.4h0M384 111.8h0M377.5 112.2h0M370.8 115.6h0M376.6 120.2h0M384.3 116.5h0M379.2 111.7h0M369.7 116.7h0M376.4 114.7h0M375.3 113.8h0M371.4 118.8h0M377 119.8h0M374.3 113.3h0M378.4 113.8h0M383.3 115.4h0M380.5 111.6h0M384 113.9h0M372.8 120.3h0M376.2 110.6h0M373.8 119.6h0M378.7 116.4h0M370.3 116.5h0M383.4 112.8h0M381.9 118h0M380.6 114.5h0M377.6 114.3h0M382 115.2h0M375.9 113.6h0M373.2 118.3h0M375.2 115.5h0M369.7 114.7h0M379.4 113h0M378 112.7h0M382.5 112.3h0M379.6 117.7h0M380.7 109.5h0M382.9 109.4h0M371 116h0M379.2 120.4h0M370.9 116.2h0M379.2 114.3h0M376.5 116.2h0M386.1 112.8h0M380.7 115.6h0M383.8 118.8h0M376.9 113.5h0M378.4 118h0M376.2 113.6h0M374.3 115.5h0M371.1 116.1h0M385.5 119.6h0M379 117.1h0M388.9 116.5h0M376.4 115.5h0M384.3 113.9h0M383.3 119.9h0M378.5 114.8h0M370.9 118.1h0M374.8 115.6h0M378 115.8h0M379.4 110.8h0M369 111.3h0M379.2 116.3h0M373.4 119.4h0M385.8 111.8h0M376 111.6h0M371.9 114.7h0M379.5 115.4h0M370.7 118.7h0M373.2 109.8h0M381 112.3h0M380.5 117.9h0M375.6 110.2h0M377.2 111.9h0M380.9 113.1h0M374.2 113.7h0M382.8 117.2h0M383.7 116.9h0M373.1 112.9h0M371.7 116.6h0M381.2 114.1h0M371.2 115h0M369.9 110.9h0M378.4 117.1h0M370.9 113.3h0M379.7 119.2h0M391.1 109.2h0M378 118.9h0M374.1 110.1h0M377.4 116.2h0M381.7 110.4h0M382.8 111.1h0M384.5 117.3h0M372.6 118.1h0M372.8 117.3h0M379.9 117.1h0M382.1 114.3h0M388.4 115.3h0M387.8 114.6h0M373.3 118.8h0M383.7 116h0M370 120.2h0M378.5 112.9h0M378.6 111.2h0M381.1 110.6h0M381.1 113.4h0M373.3 117.9h0M385.8 118.6h0M378.9 115.8h0M390.1 116.4h0M379.1 113.7h0M383.4 109.5h0M372.6 114.1h0M388.6 116.8h0M369.3 115.8h0M380.8 114.6h0M388.9 111.9h0M376.7 114.7h0M376.3 115h0M383 114.6h0M371.3 110.7h0M381.2 113.2h0M382.1 114h0M384.5 114.7h0M373.2 115.5h0M376.6 115.4h0M373.6 111h0M381.6 113.8h0M377.5 115.9h0M381.2 118h0M378.7 116h0M374.6 109.8h0M378.5 117.5h0M386.7 120.8h0M378.2 113.9h0M384 118.1h0M378.7 118.9h0M384.2 115h0M382.2 113.4h0M378.5 119.4h0M372.7 118.2h0M377 115h0M377.5 114.4h0M374.2 115.8h0M376.3 119h0M379.2 115.6h0M385.7 110.6h0M382.9 112.7h0M383.6 115.7h0M383.4 116.5h0M376.4 112.9h0M376.3 117.9h0M386.7 112.6h0M377.5 118.8h0M376.8 118.2h0M383.3 115.4h0M377.7 117.2h0M369.8 120.5h0M379.6 111.6h0M376 111.1h0M392.8 113.2h0M371.5 111h0M371.6 114.6h0M386 113.5h0M376.1 114.3h0M377.4 119h0M379.4 116h0M373.4 112.2h0M379.7 113.7h0M375 111.3h0M380.1 118.3h0M374.1 110.2h0M376.4 112.8h0M377.2 120.7h0M377 113.2h0M380.2 115h0M369.4 116.3h0M386.1 115.2h0M374.3 118.2h0M381.4 115.1h0M376.6 116.7h0M378.4 111h0M376 114.6h0M383.1 113.3h0M379.6 114.5h0M372.9 109.4h0M382.1 112.1h0M369.4 116.3h0M372.8 112h0M370.6 116.5h0M379.3 120.3h0M369.8 115.5h0M378.7 114.8h0M384.7 116.8h0M387.8 111.1h0M382.2 112.6h0M385.7 110.4h0M377 111.3h0M382 111.6h0M369.9 114.5h0M374.5 113.2h0M377.3 112.9h0M374.5 113.4h0M374.4 113.7h0M378.5 115.8h0M373.6 113.4h0M380.4 116.1h0M377.3 114h0M388.9 113.4h0M375.7 113.8h0M372 120.9h0M374.8 110.1h0M385.8 114h0M377.5 117.2h0M375.3 116.6h0M376.5 110.9h0M378.9 110.5h0M386.2 114.4h0M376.2 118.9h0M387 117.4h0M375.4 114.4h0M386.5 113.3h0M372.2 113.8h0M379.4 114h0M375.3 109.4h0M378.7 109.4h0M371.2 114.3h0M385.1 115.5h0M372.6 110.5h0M372.3 114.3h0M375.1 110.9h0M383.7 115.4h0M371.5 111.9h0M373.1 111.7h0M374.6 109.7h0M388.3 116.2h0M376.8 115.8h0M370.3 116.1h0M378 117.1h0M380 114.1h0M376.7 119.1h0M386.9 110.8h0M377.8 117.4h0M377.7 113.1h0M374.3 112.9h0M380.8 112.2h0M376.8 116.8h0M378.1 115.4h0M384.3 118.8h0M374.2 111.4h0M379.1 115.5h0M377.3 111.2h0M380.6 116.7h0M394.2 120h0M394 111.3h0M370.6 118.9h0M378.2 111.1h0M376.6 120.3h0M372.4 115.4h0M373.2 116.9h0M372.4 110.8h0M385.4 120.8h0M381.4 114.5h0M374.4 113.2h0M389.6 118.5h0M377.6 112.1h0M372 113.9h0M381 113.5h0M375 112h0M371.4 118.9h0M382.8 111.4h0M369.2 120.7h0M378.8 119h0M383.5 113.6h0M375.5 117.3h0M380.6 112.6h0M381.6 112.9h0M376.2 111.3h0M370.8 118.7h0M388.6 112.1h0M388.4 114.5h0M386.1 117.5h0M381.2 114.1h0M374.3 119.3h0M370.8 115.3h0M379.4 119.7h0M374.9 116.3h0M374.7 115.9h0M378.2 112.9h0M380.1 116.4h0M376.9 118.1h0M378.6 109.4h0M378.2 117.2h0M377.5 119.9h0M370.9 118.6h0M376.2 116.7h0M378.4 114.5h0M371.5 111.3h0M374.6 111.9h0M376.8 113.9h0M376 111.4h0M372.3 115.7h0M376.3 113.5h0M369.9 114.2h0M375.8 119.8h0M372.9 116h0M381.5 117.9h0M375 109.1h0M376.5 117.4h0M378.7 112.4h0M380.5 109.9h0M371.4 112.6h0M388 118.3h0M385.8 110h0M391.1 114.6h0M387.8 112.7h0M375.6 116.5h0M374.1 118.8h0M377.6 113.3h0M382.6 111.4h0M376.3 117.5h0M371.2 114h0M372 118.3h0M376.3 114.6h0M386.6 120.3h0M370.8 115h0M378.8 115.5h0M386.3 119h0M372.8 116.2h0M377.3 120.5h0M371.3 113.3h0M383.9 112.1h0M378.8 118.8h0M387.6 117.3h0M380.5 113.4h0M374.2 111.4h0M377.7 113h0M379.2 115.2h0M374.8 114.4h0M384.7 111.4h0M380.2 112.2h0M384.3 117.3h0M378 119.3h0M375.3 120.8h0M375.2 112.5h0M379.2 111.3h0M377.8 117.3h0M383.8 114.1h0M378 118h0M374.4 118.5h0M382.3 113.8h0M374.3 114.7h0M378.4 109.4h0M380.9 109.5h0M375.5 117.7h0M379.9 109.9h0M376 113.3h0M374 117.6h0M375 115h0M374.2 119.8h0M380.8 110.8h0M374.3 117.4h0M389.6 118.9h0M384.8 112h0M371.7 118.1h0M373.9 118.3h0M386.4 109.9h0M393.4 114.6h0M377.7 112.8h0M384.1 113.8h0M383.1 115.7h0M374.2 110.9h0M378.8 109.9h0M378.9 110.1h0M379.1 114.1h0M369.7 118.2h0"/><path fill="none" stroke="#f00" stroke-width="2.0" stroke-linecap="round" d="M347.6 103.2h0M346.4 102.1h0M346.3 101.2h0M344.9 98.5h0M343.1 102.1h0M349.4 102.3h0M343.2 104.3h0M351.9 106.7h0M343.3 96.3h0M355.8 103.5h0M347.2 104.1h0M345.8 107.3h0M350.1 99.2h0M341.2 101.4h0M360.3 105.5h0M344.7 102h0M346.3 85.5h0M350.7 101.3h0M343.8 85.5h0M345.6 107.8h0M357.8 103.4h0M338.1 106h0M349.3 89h0M352.2 108.1h0M349.6 106.8h0M344.9 102h0M354.5 97.6h0M352.6 108.2h0M351.1 99.8h0M352 98.7h0M355.1 102.6h0M340.3 106.5h0M335.6 107.9h0M350.6 107.7h0M350.9 98.4h0M353.1 103.3h0M346.8 106h0M350.1 103.4h0M349.3 101.7h0M348.8 105h0M354.3 96.8h0M347.1 106.6h0M345.2 104.3h0M347.3 108h0M349.4 104.3h0M344 104.1h0M353.7 102.5h0M359.3 107.8h0M343.3 94.4h0M350.1 105.2h0M347.6 106.5h0M350 98.7h0M348.3 88.3h0M350 107.3h0M345.8 97.8h0M357 106.7h0M345.5 108.2h0M341.4 106.6h0M357 96.9h0M348.3 86.5h0M341.9 105.4h0M349 107.9h0M346.2 102.9h0M349.6 107.7h0M345.5 108h0M347.5 102.2h0M351.2 97.9h0M347.1 104.5h0M352.5 107.2h0M352.3 107h0M357.9 105.3h0M350.3 101.1h0M349.8 102h0M352.4 102.6h0M353.4 99.5h0M343 96.9h0M351.4 108.3h0M353.2 101.2h0M356.3 107.5h0M343.4 103.9h0M349 107.4h0M358.5 104.1h0M359.6 108.2h0M347.6 108h0M340.9 95.8h0M348.3 108.1h0M358.9 105.4h0M350.6 100.5h0M351.6 106.7h0M349.3 99.3h0M343 92.1h0M350 106.7h0M340.6 100h0M342.2 102.1h0M349.5 107.7h0M356.4 104.8h0M358.7 108.3h0M353.2 105.1h0M340.4 106h0M355.7 103h0M347.5 106.6h0M342.5 103h0M344.8 106.2h0M347.6 106.9h0M344.9 107.8h0M351.4 106.1h0M352.2 107.6h0M345.4 107.3h0M349.8 107.3h0M342 107.9h0M354.1 100.7h0M342.5 107.6h0M353 104.8h0M357.8 101.6h0M355.7 107.6h0M361.1 106.7h0M356 108.1h0M351.7 97.9h0M343 102.1h0M349.6 80.5h0M347.9 98.8h0M347.5 102.4h0M343.1 102.2h0M342.9 108.3h0M352.6 91.3h0M354.3 103h0M353.9 105.8h0M346.9 108.2h0M347.7 104.3h0M334.2 108h0M348.2 103.2h0M351.7 101.1h0M356.6 108.2h0M352.8 97.5h0M359 108.1h0M358.3 105.7h0M359.9 106.8h0M345.5 107.7h0M348.6 105.5h0M345 99.5h0M349.5 102.1h0M350.2 102.2h0M344.9 103.7h0M344.5 106.6h0M353.5 88.3h0M354.4 86h0M354 104h0M348.2 102.7h0M350.5 91.4h0M348.9 105.5h0M350.5 95.1h0M349.7 100.7h0M345.1 99.5h0M356.7 104.3h0M355 100.9h0M346.7 107.2h0M354.7 107.8h0M349 105.9h0M354.3 108h0M344.8 102h0M349.4 108.2h0M349.7 107.2h0M339.1 106.3h0M349.2 100.5h0M348 102.3h0M351.5 103.4h0M354.5 98.9h0M345.3 106.1h0M355.3 107.9h0M352.3 105.3h0M339.7 103.4h0M347 91.1h0M356 108.1h0M347.2 103.3h0M348.7 106.8h0M350 96.5h0M354.1 107.3h0M356.1 102.6h0M350.8 105.1h0M345.6 104h0M350.7 123h0M352.8 121.8h0M350.4 122.9h0M340.2 126h0M356.3 131.2h0M359.9 122.1h0M341 124h0M345.4 121.9h0M337.7 124.3h0M351.6 125.4h0M350.6 124.1h0M354.9 123.9h0M339.1 123.7h0M340.2 121.8h0M344.3 121.9h0M347 122.2h0M350.4 125.8h0M348.4 122.8h0M344.6 128.5h0M357 126.6h0M352.2 124h0M344.5 124.6h0M352.7 124.5h0M350.8 121.7h0M332.5 123.7h0M354.2 124.1h0M352.9 123.3h0M357.1 126.2h0M335 122.4h0M342.2 126.4h0M348.5 124h0M344 122.5h0M338.8 122h0M349.1 124.3h0M354.5 122.5h0M343.7 125.6h0M346.5 121.9h0M348.8 133.3h0M346.1 127.3h0M359.4 121.6h0M352.7 132.6h0M352.6 123.8h0M342.2 123.9h0M355.8 123.6h0M346.9 124.8h0M347.8 122.5h0M349.8 123.5h0M342.1 124.7h0M355.3 123.9h0M353.5 121.8h0M340.9 123.1h0M354.9 125.8h0M338 123.9h0M354.3 123.6h0M345.2 128.9h0M346.5 122.2h0M349.9 131.1h0M343.4 127.5h0M352.7 123.1h0M347.3 126.3h0M353.8 128h0M359.1 124.6h0M347.4 129h0M346.6 122h0M350.9 123.7h0M342.3 122.3h0M346.2 122.3h0M351.2 122.6h0M349.7 129.6h0M346.8 126.4h0M349 121.8h0M347.2 132.5h0M351.8 125.9h0M343.9 130h0M353.6 130.9h0M350.6 129.3h0M353.9 122.6h0M348.4 127.7h0M344.2 122.6h0M351.8 127.1h0M346.1 133.1h0M343.8 123.6h0M350.3 128.9h0M346 122h0M352.8 121.9h0M353.8 122.9h0M352.1 123.6h0M350.5 122.8h0M341 128.1h0M352.9 134.4h0M358.4 126.5h0M345.7 137.4h0M346.6 123.8h0M350.7 122.5h0M352.3 124.8h0M347.6 123.6h0M346.2 124.9h0M355.3 123.6h0M353.3 123.9h0M351.3 123.2h0M351.5 124.3h0M354.3 130.9h0M346.3 133h0M348.7 126.5h0M356 127.6h0M353.3 131h0M340 122.4h0M353.3 123.2h0M344.9 122h0M340.5 122.8h0M340.4 123.6h0M344.3 123.9h0M344.6 127h0M340.2 130.1h0M358.2 122.5h0M353.1 127.1h0M357.2 127.1h0M333 123.1h0M361 123.4h0M354.1 122h0M354.4 125.9h0M350.5 121.8h0M352 124.8h0M348.5 125.1h0M359.5 125h0M349.2 124.2h0M354.5 127.1h0M343.7 124.6h0M351.1 124.3h0M346.2 122.1h0M343.9 124.2h0M348.5 123.9h0M347.4 123.2h0M351.3 133.1h0M347.5 124.2h0M349.6 138.2h0M354.6 125.3h0M346.8 122.1h0M350.5 126.5h0M346.1 124.1h0M373.6 102.6h0M370 90.5h0M382.5 107.8h0M374.1 107.1h0M384.1 107.9h0M378.9 98.3h0M377.7 103.8h0M383.6 100.3h0M378.8 87.6h0M378.9 91.6h0M369.4 97.8h0M380.1 107.5h0M379.2 107.3h0M371.9 94.3h0M372.1 106.7h0M378.9 95.3h0M377 106h0M385.8 93.6h0M383.6 106.5h0M374.9 88h0M380.5 108.1h0M379.6 95h0M381.5 97h0M380.2 103.7h0M386.6 101.6h0M378.6 95.6h0M376.8 101.8h0M369.3 95.2h0M379.3 107.4h0M370.1 92.6h0M373.5 105.9h0M383.2 96.5h0M373.9 103.6h0M384.6 104.9h0M385.7 106.1h0M380 83.6h0M370.2 107.2h0M376.5 100.9h0M379.1 104.5h0M384.1 107.8h0M385.2 103h0M386.5 108.1h0M375.8 103.5h0M377.7 108h0M377.2 106.9h0M371 107.5h0M369.9 93.1h0M374 102.4h0M379.4 97.9h0M384.5 101.5h0M379.8 102.5h0M377.3 81.1h0M379.5 94h0M383.8 107.1h0M383.3 101.2h0M374 102.3h0M377.2 104.1h0M380.8 99.2h0M379.2 97.4h0M382.9 98h0M382.7 99.2h0M387.3 107.7h0M378.9 87.8h0M369.2 108.2h0M385.4 95.5h0M380.2 102.7h0M370.2 106.9h0M375.7 107.1h0M370.1 107.7h0M370.5 107.6h0M379.5 107.8h0M378.6 99.3h0M383.9 96.3h0M377.1 98.1h0M377.3 96.7h0M369.2 93.2h0M379.4 100.7h0M378.4 100.2h0M372.5 100.3h0M380.4 82.3h0M372 107.2h0M373 85.4h0M371.6 106.8h0M378.7 85.5h0M375.6 101.8h0M379.2 97.7h0M376.9 102.5h0M385.3 106.8h0M383 79.7h0M378.2 103.1h0M377.4 105.1h0M374.9 84.1h0M371.7 104.6h0M382.1 103.4h0M375.8 107.2h0M378.6 97.8h0M374.6 100.7h0M383.9 105.2h0M375 105.8h0M390.5 104.7h0M380.9 107.3h0M385.2 103.6h0M382.9 105.8h0M376.6 94.3h0M371.2 93.6h0M388 103h0M373.6 107h0M387.4 106.3h0M379.2 98.8h0M379.1 89.8h0M374.9 101.5h0M382 106h0M384.5 106.1h0M369.9 102.3h0M370.5 104.3h0M374.3 94.6h0M388.2 104.8h0M380.6 89.7h0M383.5 108.1h0M371.7 106.5h0M384.8 92.2h0M379.7 103.1h0M383.8 103.4h0M379.3 105.2h0M378.8 107.7h0M379.2 99.8h0M378.3 98.8h0M387 101.3h0M384.7 106.3h0M377.4 103.1h0M370.1 97.1h0M381.2 106h0M377.4 89.1h0M372 107.1h0M380.6 89h0M374.5 90.8h0M372.2 98h0M377 104.7h0M373 98.1h0M378.2 108.3h0M383.3 106.5h0M384.7 106.9h0M369.9 105.2h0M375.2 97.4h0M381.2 100.9h0M383.1 101.5h0M379 102.6h0M377.9 103.9h0M379.3 90.2h0M379 107.1h0M380.3 98.9h0M370.9 92.6h0M372.6 93.2h0M380.2 89.1h0M381.7 101.3h0M381.3 102.7h0M383.3 107.6h0M376.8 96.9h0M374.6 103.2h0M376.4 103.6h0M381.6 95.5h0M376.7 90.7h0M376.4 100.8h0M382.7 104.2h0M378.8 107.1h0M378.5 98.9h0M375.2 103.8h0M378.2 102.7h0M370.2 90.6h0M372 97.7h0M375.6 104.5h0M378.2 106.5h0M377.8 106.3h0M382.3 100.7h0M380.5 100h0M386.2 96.9h0M384.2 103.8h0M379.3 76.5h0M378.9 101.8h0M379.5 106.6h0M379.8 105.4h0M377.8 100.1h0M376.7 92.8h0M376.8 96.8h0M386.4 106.9h0M376.9 100h0M381.2 104.4h0M369.6 108h0M383.1 91.8h0M373.2 90.5h0M372.8 106.2h0M374.1 107.9h0M381 108.1h0M380.9 91.7h0M382.8 95h0M380.4 101.7h0M382.6 99.8h0M374.5 99.1h0M382.3 94.3h0M392.5 101.6h0M371.7 107.1h0M381.6 83h0M376.7 101.7h0M384.3 106.2h0M387.1 105h0M377.7 94.5h0M370.4 101h0M372.8 100.2h0M370.6 96.5h0M381 108.1h0M394.9 104.2h0M376.7 105.2h0M381.6 92.2h0M375 105.7h0M387.6 101.9h0M373.5 84.7h0M375.1 107.1h0M372.2 91h0M374.1 99.7h0M376.6 103.3h0M380.7 94.3h0M370.6 99.8h0M381 107h0M370.4 102.3h0M372.8 107.7h0M375.8 101.8h0M373.2 104.4h0M377.7 100h0M380.5 98h0M377.6 105.4h0M369.1 106.2h0M373.9 105.8h0M380.2 89.2h0M371 107h0M371.1 107.3h0M380 96.2h0M376.7 101.3h0M388.4 100.7h0M388.1 94h0M378.4 69h0M380.9 102.8h0M380.2 107.6h0M382.1 92.7h0M370.8 101.2h0M375.6 105.4h0M377.2 107.1h0M379.5 105.2h0M375.2 102h0M384.7 106.9h0M375.3 96.1h0M381.8 91.3h0M373.5 106.1h0M379.7 94.4h0M376 105.9h0M377 72.1h0M384.2 100h0M381.1 108.1h0M377.6 105.1h0M374.3 95.3h0M379.9 104h0M381.7 99h0M384.5 107.6h0M378.9 91.4h0M378.8 102.3h0M373.9 107.1h0M378.4 107.4h0M372.3 108.2h0M385.3 95.6h0M371.5 100h0M371.6 94.3h0M380.4 106.1h0M372.9 95h0M380.8 104.9h0M374.6 85.1h0M376.4 95.9h0M386.1 92.5h0M380.5 104.2h0M378.3 107.7h0M374.1 99.2h0M380 99.8h0M379.8 107.5h0M376.8 102.3h0M375.5 97.8h0M378.7 105.2h0M373.8 106h0M377 79.3h0M374.1 104.2h0M387.6 103.7h0M390.9 105h0M389.2 105.6h0M383.3 96.8h0M370.9 107.5h0M379.2 96.2h0M377.1 104.1h0M378.4 107.1h0M383.8 105.2h0M379.6 102.8h0M384.3 105.6h0M370.3 105h0M376.7 104.3h0M375.3 100h0M375.4 99h0M377.8 94.2h0M375.1 102.5h0M375.5 88.3h0M377 107.7h0M386.6 95.7h0M377.9 107.8h0M378.7 83.2h0M379.4 96.1h0M377.4 105.5h0M381.6 96.1h0M378.3 86.7h0M381.7 104.4h0M381.5 106.3h0M379.9 104.9h0M372.7 107.4h0M378 94.1h0M378.1 108h0M381.3 100.4h0M378.3 101.1h0M377.3 73.4h0M376.8 96.8h0M376.5 93.9h0M384.6 90.1h0M373.9 105.5h0M371 107.6h0M387 100.3h0M376.4 94.8h0M378.1 86h0M375.4 85.8h0M382.4 104.6h0M376.1 95h0M372.4 97.6h0M380.7 101.4h0M375.4 102h0M386.3 90.8h0M375.7 98.3h0M376.8 108.3h0M380.8 76.7h0M380.8 75.9h0M375.6 98.6h0M370.1 87.6h0M371.8 105.4h0M378.1 96h0M383.2 87.1h0M377.9 101.8h0M379.7 108.2h0M381.1 104.8h0M390.3 94.8h0M373.2 107h0M381.9 90.7h0M386.1 94.4h0M377.6 108.2h0M381.5 107.6h0M380.5 102h0M374.8 102.2h0M377.1 83.8h0M382 104.8h0M375.6 108.1h0M379 108h0M381.2 107.5h0M379.2 107.9h0M381.2 107h0M372 103.5h0M374.3 107.7h0M380.7 101h0M378.3 101.7h0M386 107.6h0M386 107.8h0M395.7 103.5h0M377.6 106.5h0M377 99.2h0M378.2 108.2h0M384.6 101.5h0M379.6 107.7h0M382.3 105h0M377.6 84.2h0M376.9 89.5h0M375.8 104.5h0M388.1 107.5h0M385.5 99.5h0M381.6 103.7h0M381 107.4h0M376.2 94.8h0M391.1 106.8h0M382.3 94.9h0M372.6 102.1h0M369 98.1h0M376.4 102.9h0M383.4 104.8h0M375 100.7h0M371 96.3h0M380.6 106.2h0M376 104.3h0M379.4 106.7h0M376.8 98.4h0M387.3 102.9h0M369.6 94.8h0M379.2 95.7h0M370.8 105h0M373.4 99.5h0M381.3 96.4h0M380.9 105.4h0M380.2 106.6h0M386.9 94.9h0M372.9 81.3h0M382.5 107.1h0M384.1 107.2h0M386.5 100.5h0M389.5 89.8h0M374.2 105.1h0M380.6 107.4h0M381.6 102.3h0M383.7 104.5h0M378.6 107.6h0M378.7 104.4h0M381.5 101h0M381 99h0M386.8 107.1h0M379.2 106.1h0M383.6 90.1h0M377.6 100.2h0M375.8 101.9h0M372.3 95.7h0M373.2 108.2h0M381.6 95.7h0M379.5 104.9h0M380.5 104.8h0M382.1 95.7h0M376.1 87.2h0M378.2 103.5h0M375.1 102.6h0M372.4 95.1h0M374.7 94.2h0M386.3 100.3h0M378.8 84.5h0M376.1 107.5h0M385 100.4h0M383.8 106h0M370.6 107.9h0M384.6 107.2h0M380.6 106.7h0M371.3 104.3h0M388.5 102.4h0M373.6 100.6h0M378.7 106.2h0M373.1 100.6h0M379.8 101.2h0M373.8 89.8h0M383.4 94.5h0M371 108.1h0M373.4 104.3h0M375.5 100.2h0M383.1 87.6h0M373.2 94.7h0M373.8 104.2h0M377.6 106.7h0M375.9 103.1h0M379.6 100.6h0M377.3 107.6h0M377.9 104.5h0M378.7 93.7h0M375.3 101.7h0M379.3 72.4h0M378.3 105.7h0M378 72.9h0M378.1 103h0M377 106.1h0M385.8 103.7h0M387.4 106.8h0M377.7 106.2h0M382.3 96.9h0M375.2 99.8h0M373.2 108.2h0M373.8 105.3h0M379.2 104h0M377.8 94.4h0M379 108.3h0M383.6 98.6h0M391.2 128.5h0M382 131.4h0M372 122.1h0M383.8 124.4h0M377.9 146.4h0M390.9 123.2h0M378.3 122.1h0M384.3 122.9h0M371.4 125.9h0M374.3 124.1h0M375.3 138.7h0M374.3 123.6h0M375.4 126.9h0M376.1 125.5h0M381.3 136.9h0M383.2 122.8h0M370.4 123h0M379.3 146.1h0M376 143.5h0M373.4 129.5h0M383.9 125.3h0M390 124.7h0M381.9 121.9h0M379.8 124.9h0M375.9 125.8h0M380.1 123.6h0M385 126.4h0M377 130h0M378.5 122.9h0M375.3 123.9h0M380.7 140.7h0M381.7 126.7h0M375.9 124.9h0M384.1 124.6h0M378.3 122.9h0M378.2 128.2h0M383.7 123.5h0M373.5 125.3h0M380.2 130.1h0M382.8 127.2h0M373.1 128.4h0M372.2 122h0M380 125.3h0M376.3 121.9h0M378.2 121.8h0M381.7 125.2h0M383.5 122.6h0M376.9 124.2h0M377.3 130.5h0M374.8 123.9h0M380 123.8h0M388.7 126.6h0M383.1 126h0M382.3 130.5h0M381.3 123.6h0M369.8 126.7h0M377.1 130.4h0M384.3 134.9h0M377.8 131.6h0M378.2 132.4h0M379.2 136.4h0M371.7 121.7h0M374.7 122.6h0M378.8 134.7h0M376.6 127h0M385.1 125.9h0M379.7 131.6h0M383.2 121.9h0M373.7 128.9h0M379.6 130.7h0M388.9 130.1h0M384.6 125h0M383.2 128.3h0M383.5 121.9h0M382.2 121.6h0M370.6 130.1h0M384.2 125.1h0M376.2 124.2h0M390.5 122.9h0M372.5 139.5h0M383 133.9h0M392.7 122.2h0M381.7 121.9h0M373.1 123.1h0M386.6 127.7h0M379.9 141h0M377 122.2h0M374 130.1h0M388.8 123.8h0M385.1 128.3h0M372.1 133h0M377.2 123.3h0M370.3 127.3h0M376 129.5h0M369.3 122.7h0M376.6 129.9h0M377.1 132.3h0M389.5 122.3h0M383.6 133.6h0M375.8 122.1h0M386.8 128.8h0M381.5 121.8h0M377 128h0M385.2 123.4h0M374.5 130.1h0M387.5 121.8h0M380.7 122.4h0M369.4 131.2h0M375.9 138.6h0M389.4 122.5h0M383.3 127h0M383.1 128.9h0M379.1 135.5h0M377.2 122.6h0M371.7 123.6h0M379.5 124.1h0M371.9 123.8h0M381 131.3h0M381.5 128.1h0M386.8 124h0M376.9 122.2h0M390.1 122.1h0M372.4 128.9h0M374.8 128.6h0M372.9 132.1h0M372.5 132.4h0M375.5 130.7h0M378.3 132.4h0M379.1 125.6h0M383.5 122.7h0M374.8 121.6h0M376.1 127.8h0M379.6 126.6h0M374.6 136.6h0M374.6 136.4h0M381.4 128.2h0M379.8 124.4h0M377.4 127.3h0M369.9 140h0M383.1 137.9h0M379.9 125.8h0M369 123.9h0M373.8 123.3h0M382.2 126.7h0M375 130.1h0M374 135.1h0M394.6 122.8h0M381.5 125h0M373.3 123.3h0M370.9 123.7h0M376.2 122.3h0M384.8 131.2h0M372 129.1h0M378.5 127.5h0M381.7 125.8h0M381.8 123.1h0M386.1 123h0M372.8 122.9h0M382.5 135.9h0M376.3 129h0M377.9 145.5h0M377.3 123.7h0M374.8 123.6h0M385.9 124h0M377.2 129.4h0M379.9 122.2h0M375.5 134.5h0M378.4 134.7h0M383.4 124.8h0M379.7 122.3h0M370.1 134.8h0M373.9 133h0M380.7 123.5h0M371.3 130.4h0M375.2 122.6h0M384.1 128h0M379.3 125.1h0M379.8 130.1h0M375.1 126.7h0M384.3 138.1h0M370.6 129.4h0M387.9 125.3h0M376 122.6h0M374.9 124.3h0M384.1 133.6h0M375.8 122.1h0M379.4 122.3h0M383.6 127.1h0M389.4 126.4h0M380.1 133.7h0M376.3 126.2h0M373.7 132.8h0M375.9 127.4h0M372.2 123.6h0M378.9 138.2h0M370.3 126.8h0M375.6 139.1h0M371.6 121.7h0M376.9 122h0M384.7 133.2h0M380.3 127.5h0M385.8 134.2h0M381.3 126.6h0M376.8 138.3h0M385.2 128.4h0M374.8 123.5h0M387 123.9h0M373.9 134.8h0M374.6 124.1h0M383.1 122.2h0M376.9 124.9h0M379.8 133.3h0M387.3 125.3h0M375.4 136.4h0M387.4 121.7h0M369.9 128.5h0M380.9 122.3h0M380 132.2h0M380.5 123.2h0M377.8 122.1h0M382.1 129.7h0M372.5 122.4h0M382.9 131.7h0M381.1 132.5h0M379.5 126h0M380.8 122.9h0M378 123.8h0M377.9 122.8h0M375 123.6h0M379.9 123.3h0M377.2 141.4h0M376.5 127.1h0M374.7 122.8h0M373.6 123.8h0M385.5 123.5h0M382.2 125h0M381.3 123.4h0M369.9 123.4h0M371.2 122.7h0M381.3 127.4h0M391.1 124.6h0M384.9 122.3h0M371.9 122.2h0M385.5 138.3h0M377.5 140.4h0M379.4 122.8h0M378.2 128h0M370.6 139.6h0M376.5 123.5h0M393.8 123h0M380.6 140.8h0M375 135h0M385.1 123.1h0M370 121.8h0M380.5 127.4h0M375.2 141h0M385.4 126.9h0M374.8 128.8h0M375.3 122.7h0M368.9 126.6h0M376.2 123h0M373.3 122h0M382.4 141.1h0M384.9 133.2h0M384.6 131.7h0M382.6 123.9h0M389.2 122.4h0M380.8 127.8h0M375.9 127.3h0M380.2 122.4h0M380.6 132.9h0M378.4 121.8h0M376.4 128h0M380.1 132.6h0M385.5 125h0M381.7 133.1h0M380.4 121.9h0M370.1 126.8h0M372.8 124.4h0M374 124.4h0M373.4 121.7h0M379.4 135.4h0M401.2 122.4h0M384.4 122.3h0M371.7 122.1h0M378.9 126.1h0M382 121.7h0M370.6 123.8h0M381.4 136.9h0M382 122.9h0M378.5 136.4h0M384.7 123.7h0M380.9 127.8h0M381.8 122.2h0M373.2 124.1h0M376.3 129.2h0M387.9 124.1h0M379.6 121.9h0M373.7 128.9h0M381.9 136.8h0M370.9 123.8h0M379.7 126.5h0M380.4 123h0M381.3 126.3h0M376.3 127h0M379.6 132.7h0M376.9 122.2h0M384.8 122.3h0M378.5 137.2h0M380.3 127.5h0M377.1 122.1h0M384 128.9h0M374.8 123.8h0M372.2 123.2h0M371.4 128.1h0M383.8 123.4h0M374.8 132.3h0M375.9 124.7h0M371.4 125.8h0M376 125.1h0M380.3 124.6h0M371.3 125.7h0M385.6 130.9h0M373.8 126.1h0M374.8 122.2h0M386.1 132.6h0M380.8 126.1h0M378.4 126.8h0M373.1 126.2h0M376.9 129h0M378.5 130.9h0M370.2 123.1h0M377.8 122h0M383.3 124.1h0M378.1 128.7h0M377.7 137.4h0M383.7 123.7h0M369.9 125.3h0M377.1 139h0M381.2 123h0M381.5 145.8h0M373.7 122.8h0M377.5 145.3h0M383.5 123.5h0M386.1 125.8h0M384.8 128.7h0M395.4 124.8h0M375.2 133.7h0M376.4 127.1h0M375.2 123.9h0M383.8 138.1h0M375.6 128.9h0M378.3 125.3h0M376.3 127.4h0M374.9 123h0M388.3 122h0M373.7 130.6h0M371.7 122.1h0M373.4 127.8h0M378.1 134.9h0M383.3 150h0"/><path fill="none" stroke="#8c8c8c" stroke-width="1.2" stroke-linecap="round" d="M353.8 98.2h0M344 93h0M351.4 95.3h0M357 99.7h0M347.8 95.5h0M352.9 99.6h0M355 98.7h0M350.3 100h0M351.2 86.3h0M344 97.7h0M349 131.1h0M348.4 131.6h0M347.3 133h0M353.7 127.5h0M340.8 130.1h0M345.6 95.3h0M355.5 93.5h0M357.7 95.2h0M353 102.5h0M348.7 90.6h0M349 90.6h0M354.9 94.6h0M355.5 82.2h0M351.3 78.5h0M350.3 97.1h0M350.2 78.2h0M347 104.2h0M361.3 84.1h0M358 90.6h0M357.3 75.6h0M352 99.1h0M346.6 92.8h0M357.5 94.7h0M348.7 128.6h0M352.1 127.4h0M358.3 129.9h0M348.6 123.6h0M350 128.2h0M355.5 136.6h0M372.6 92.8h0M381.8 89h0M381.7 68h0M382 85.5h0M382 70.4h0M377.9 93.1h0M381.8 93h0M382.1 92.3h0M378 82.2h0M379 77.6h0M376.8 84h0M379 97.5h0M372 98.5h0M378.5 72.2h0M375.5 87.3h0M377.6 68h0M379.3 97.8h0M381.3 87.4h0M374.3 91.4h0M377.1 93.3h0M382.9 82.8h0M378.9 98.3h0M377.7 94.7h0M374.6 83.3h0M376.6 91.8h0M374.9 89.1h0M379.2 68h0M375.9 85.5h0M373 94.3h0M376.2 96.6h0M377.4 145.1h0M379 135.3h0M381.7 135.8h0M371.3 134.4h0M375.7 138.5h0M378.2 147h0M385.1 135.2h0M375.3 130h0M377.3 133.3h0M375.5 130.2h0M380.7 129.2h0M386.6 132.4h0M370.5 86.6h0M377.2 90.5h0M374.6 85.7h0M382.9 97.5h0M376.6 89.9h0M370 82.9h0M374.6 63.3h0M387.5 89.1h0M383.8 96.5h0M376.7 102.8h0M380.8 106.6h0M387.2 65.7h0M374.1 85.5h0M379.7 68.6h0M369.7 69.4h0M377.6 87.6h0M376 92.5h0M368.9 95.4h0M380.4 71.1h0M382.7 92.4h0M372.8 88.3h0M372.9 101.6h0M369.6 98.1h0M370.5 87.3h0M378.2 105h0M380.1 89.1h0M373.5 67.4h0M373 84.9h0M376.8 83.2h0M383.4 62.8h0M375.4 68h0M372.9 71.2h0M376.7 80.6h0M376.9 65.3h0M375.2 78.4h0M373.3 79.7h0M375 86.4h0M371.6 91.4h0M377.5 87.4h0M382.1 94h0M382.9 67.5h0M376.3 89.3h0M376.9 81.8h0M375.6 90.2h0M379.2 103.9h0M378.1 146.6h0M375.6 127.8h0M380.2 137.8h0M370.3 148.6h0M379.4 137.1h0M379.2 129h0M373.1 143.5h0M373.3 144.1h0M380 134.2h0M374.3 142.6h0"/><rect x="307.8" y="47.6" width="116.6" height="135.2" fill="none" stroke="#6e6e6e" stroke-width="1.1"/><line x1="333.1" y1="182.8" x2="333.1" y2="185" stroke="#333" stroke-width="0.8"/><text x="333.1" y="193" font-size="7.9" fill="#4d4d4d" text-anchor="middle">−50</text><line x1="366.3" y1="182.8" x2="366.3" y2="185" stroke="#333" stroke-width="0.8"/><text x="366.3" y="193" font-size="7.9" fill="#4d4d4d" text-anchor="middle">0</text><line x1="399.5" y1="182.8" x2="399.5" y2="185" stroke="#333" stroke-width="0.8"/><text x="399.5" y="193" font-size="7.9" fill="#4d4d4d" text-anchor="middle">50</text><text x="311.1" y="60.3" font-size="9.2" fill="#000" stroke="#000" stroke-width="0.18" textLength="79.5" lengthAdjust="spacingAndGlyphs"><tspan font-style="italic">cor</tspan> = -0.04, <tspan font-style="italic">P</tspan> &lt; 0.001</text><rect x="429.3" y="33.2" width="116.6" height="14.4" fill="#d9d9d9" stroke="#7a7a7a" stroke-width="0.9"/><text x="487.6" y="43.7" font-size="7.3" fill="#1a1a1a" text-anchor="middle">Intron</text><rect x="429.3" y="47.6" width="116.6" height="135.2" fill="#fff"/><line x1="429.3" y1="115.4" x2="545.9" y2="115.4" stroke="#000" stroke-width="1"/><line x1="487.5" y1="47.6" x2="487.5" y2="182.8" stroke="#000" stroke-width="1"/><path fill="none" stroke="#8c8c8c" stroke-width="1.2" stroke-linecap="round" d="M457.9 114.9h0M480.4 120.2h0M462.9 114.5h0M455.2 109.4h0M472.3 113.4h0M458.3 111.5h0M457.2 113.7h0M457.8 116.8h0M474.7 113h0M458.3 116.5h0M473.2 109.6h0M479.7 118.4h0M471.1 111.2h0M473.5 117.9h0M468 116.1h0M462.5 109.9h0M452.9 110.2h0M471 113.1h0M453.7 112.4h0M465.8 111.2h0M472.5 112.5h0M431.9 109.9h0M477.8 110h0M465.6 112.7h0M444.5 117.7h0M462.9 113.5h0M469.7 119.5h0M462.3 115.4h0M452.4 111.6h0M473.6 115.8h0M476 109.1h0M465.2 109.9h0M473.4 108.4h0M452 119.6h0M459 118.5h0M460.5 114h0M467.3 117.7h0M461.2 111.1h0M460.6 114.7h0M466.1 119h0M481.9 118.4h0M458.2 113.2h0M457 110.3h0M439.4 109.8h0M473.5 108.3h0M466.6 117.4h0M461.4 116.7h0M470.6 118.9h0M450.6 113.9h0M467.2 122.8h0M479.6 119.9h0M454.9 110.3h0M470.4 116.6h0M466.9 117.7h0M464.1 113h0M479.6 112.7h0M450.1 109.2h0M436.6 114.1h0M456.4 113.9h0M462.9 111.9h0M468.6 115.5h0M439.3 109.2h0M465.5 121.5h0M453.8 110h0M463.6 114.8h0M472.9 113.5h0M452.5 122.5h0M462.6 118.5h0M449.4 119.6h0M468.7 112.3h0M469.2 120.6h0M459.1 109.4h0M457.5 108.3h0M451.4 117.1h0M471.1 118.5h0M473.5 111.5h0M449.1 119h0M470.4 121.3h0M474.3 112.9h0M458.2 112.3h0M452.4 116.8h0M473.1 114.3h0M461 113h0M479.1 121.4h0M466.8 113h0M461.9 115.8h0M482.4 116.1h0M464.9 116.3h0M451.7 114.4h0M461.5 110.5h0M466.7 114.2h0M468.2 112.6h0M469 114.6h0M472.4 117.3h0M465.2 116.5h0M459.1 121.6h0M455.3 117.3h0M464.4 119.9h0M455.3 117.3h0M450.4 112h0M463.6 114.3h0M480 113.2h0M462.7 118.5h0M452.1 110.4h0M450.4 115.6h0M467.4 116.9h0M482.6 118.8h0M469.2 113.6h0M463.3 119.1h0M469.3 119.7h0M484 112.1h0M475.9 120.9h0M473.6 117.7h0M465.9 114.6h0M461.1 114.9h0M466.2 120.1h0M476.6 117.7h0M478.7 115.4h0M470.3 120.5h0M462.1 110.6h0M483.6 114.9h0M468.6 115.6h0M468.2 116.1h0M478.2 113.2h0M468.6 118.8h0M464.9 113.3h0M452.5 118.2h0M467.2 118.2h0M466.1 109.8h0M478.3 114.9h0M458.3 109.5h0M470.3 123h0M465.9 107.3h0M472.5 116.2h0M462 110.3h0M475.2 105.3h0M468.8 112.8h0M477.5 124h0M459.2 116.1h0M458.2 118.4h0M468.3 113.3h0M460 120h0M468.3 112.8h0M466.9 118.7h0M465.9 113.2h0M476.3 111.8h0M472.4 113.8h0M452.3 122.3h0M479.4 114.6h0M449.9 114.4h0M482.4 119.2h0M462.1 115.7h0M470.7 108.3h0M451 120.8h0M465.3 122.3h0M463.7 115.6h0M462 118h0M476.7 110.4h0M473.5 115.1h0M459.1 107h0M483.4 119.1h0M462.9 112.7h0M455.5 116.2h0M467.4 113.2h0M447.7 110.6h0M457.6 121.4h0M471.8 118.1h0M478.8 115.9h0M482.9 115.9h0M482.9 112.8h0M469.1 111.4h0M465.1 116.7h0M476.7 111.9h0M458.7 119.6h0M482.8 111.8h0M467.1 111.4h0M476.8 111.1h0M467.9 118.2h0M465.8 119h0M449 117h0M459 118.3h0M452.3 116h0M471.3 111.7h0M463 111.4h0M456 113.8h0M463.8 111.9h0M479.3 120.2h0M456.3 112.2h0M467.1 117.1h0M466.9 114.3h0M469.8 111.3h0M470 116.6h0M482.2 112h0M471.6 118.5h0M465.2 113.2h0M473.4 112.3h0M440.7 120.9h0M468.8 116.6h0M459.9 118.6h0M480 114.9h0M479.9 115.7h0M456.2 113.3h0M479.4 111.8h0M469.9 121h0M478.5 111.5h0M463.3 112.4h0M454.9 118.4h0M474.2 117.7h0M448.4 110.3h0M460.2 109.3h0M467.7 112.2h0M471.5 114.2h0M465.9 118h0M475.3 116.1h0M472.2 107.9h0M462 116.8h0M469.6 113.1h0M451 115.9h0M466.1 112.7h0M464.1 117.6h0M472.8 113.4h0M477.8 117.4h0M467.6 112.4h0M464 118.8h0M469.4 107.4h0M468.9 116.9h0M459.6 110.3h0M459.4 121.3h0M463 107.6h0M471.9 113.9h0M449.3 116.8h0M475.5 111.1h0M473.7 115.1h0M460.6 120.3h0M460.6 116.1h0M469.8 113.8h0M476.2 115.7h0M462 121.6h0M475.5 111.6h0M458.2 124.1h0M466.2 112.8h0M444 114.4h0M474.4 116.2h0M460.1 114.8h0M482.9 112h0M465.1 120.5h0M465.6 110.6h0M472.1 114.4h0M476.1 114.1h0M464.4 114.4h0M473.8 113.9h0M466.7 120.3h0M468.4 112.8h0M477.2 113.9h0M464.4 114.6h0M455.1 114.6h0M437.9 110.4h0M480.2 112.8h0M450.9 114.5h0M461.8 117.4h0M461 123h0M474.4 111.6h0M463.4 116.4h0M465.1 117.3h0M466.6 119.2h0M468.5 117.3h0M472.2 116.5h0M482.7 114.2h0M461.3 119h0M480.7 111.4h0M472.4 112.6h0M442.6 108.3h0M472.3 111.9h0M475.6 116.8h0M463.8 112.8h0M452.1 113.7h0M471.5 112.8h0M466.7 115.4h0M475 114.8h0M522 116.6h0M502.5 109.1h0M523.1 115.4h0M498.6 114.3h0M496.3 106.7h0M493.8 119.7h0M497.3 106.8h0M497 112.9h0M505.3 113.7h0M520.6 117h0M495.8 114.1h0M510.1 115h0M495.4 113.5h0M507 110.1h0M514.6 115.8h0M532.9 117.3h0M500.7 114.6h0M503.8 110.6h0M501.7 114h0M533.4 112.8h0M515.8 113.4h0M515.4 115.7h0M502.7 114.9h0M498.8 105h0M506.9 115.7h0M500.2 108.7h0M507.4 112.8h0M495.1 118.1h0M497.4 112.7h0M531.4 111.3h0M518 112.3h0M518.2 107.9h0M528.8 116.2h0M515.4 116.1h0M493.4 119.9h0M520.9 112.4h0M507.9 113.4h0M528.4 115.7h0M497.5 114.2h0M503.9 115.8h0M507.4 121.6h0M504.6 116.5h0M496.6 114.9h0M509.8 114.5h0M525.6 120.2h0M531 120.3h0M497.6 123.1h0M511.6 115.4h0M520.5 119.7h0M497.7 121h0M497.2 115.5h0M512.5 122.7h0M509 118h0M506.5 119h0M503.7 119.8h0M502.4 113h0M517.7 116.7h0M509.4 111.2h0M498.6 113.4h0M492.9 122.5h0M495.4 117.4h0M498.6 111.5h0M492.3 114.2h0M493.3 111.8h0M501.6 110.7h0M509.4 116h0M497.2 117.7h0M511.8 119.5h0M491.5 110.1h0M501.1 119.7h0M515.6 113.8h0M498.2 115.8h0M494.5 116.3h0M524.2 116.5h0M495.9 118.7h0M509.2 113.7h0M494.3 113.9h0M498.8 113.6h0M493.5 115.7h0M510.7 117.1h0M511.7 118.9h0M517.8 109.1h0M493.1 112.5h0M510.9 115.5h0M495.4 121.2h0M498.7 119.3h0M496.6 122.2h0M510.8 116.9h0M496.4 111.1h0M509 115.6h0M497.2 112.7h0M524.2 115.6h0M504.6 114.2h0M507.9 112.1h0M507 113.9h0M507.3 115.3h0M513.5 116.2h0M490.8 116.9h0M503.3 116.6h0M503.8 116.9h0M502.8 114.3h0M493.4 118.3h0M493 109.9h0M496 113.6h0M512.5 114.7h0M507 119.2h0M508 117.4h0M520.9 118.3h0M529.8 110.9h0M501 117.9h0M497.8 114.7h0M528.1 112.6h0M514.4 114.7h0M497.7 116.3h0M493.1 112.7h0M506 113.3h0M499.7 115h0M505.7 117.6h0M498.4 116.5h0M500.1 115h0M489.5 121.1h0M491.2 117.9h0M495.4 112.8h0M503.6 116.6h0M524.2 114.9h0M512.4 113h0M503.4 114.1h0M496.8 118.6h0M518.7 107.9h0M533 118.8h0M508.8 117.3h0M516.5 111.6h0M501.2 114.5h0M495.8 117.9h0M500.5 108.8h0M496.9 112.7h0M491.1 114.7h0M518 121.9h0M497.8 116.9h0M499.8 120.5h0M499 107.8h0M512.3 119.1h0M512.1 115.4h0M508.9 117.6h0M493.5 115.2h0M491.3 121.2h0M491.1 120.3h0M504.7 117.8h0M503.6 118.8h0M520.1 115.3h0M515.7 114.7h0M492.1 110.6h0M520.2 115.4h0M504.6 114.9h0M503 114.9h0M519.4 119.1h0M512.3 113h0M496.2 118.8h0M506.1 113h0M501.9 111.2h0M506.7 108.8h0M505.4 116.1h0M520.7 113.3h0M504.1 116.7h0M494.5 114.3h0M500.1 116.8h0M512.6 112h0M515.2 114.1h0M494.3 109.7h0M493.9 120h0M509.4 119.7h0M518.6 111.3h0M502.3 110.9h0M510.1 113.7h0M510.4 114.6h0M520.6 108.9h0M510.2 108.1h0M526.6 111.6h0M504 115.7h0M539.9 113.8h0M495.5 115.8h0M519.4 110.8h0M489.1 112.5h0M492.4 116.2h0M518.2 114.1h0M519 110.4h0M507.7 116.6h0M494.6 114h0M515.7 120h0M515.9 108.8h0M494.3 119.9h0M516.4 116.1h0M503.3 112.3h0M510.2 112.6h0M504 114.7h0M526.9 118h0M500.4 116.9h0M517 121.4h0M522.1 111.9h0M524.4 117.4h0M491.1 115h0M512.4 122.5h0M505.9 115.4h0M496.5 108.2h0M517.3 113.3h0M497.6 114.9h0M509.5 115.3h0M495.5 116.9h0M505.2 118.5h0M511.8 117.1h0M518.6 114.3h0M520.5 120.1h0M501.6 112h0M500.9 118.4h0M509.8 109.4h0M494.2 111.9h0M501.1 112.7h0M501 110.7h0M498.7 120.4h0M494.4 109.4h0M496.3 116h0M509.7 117.9h0M496.6 126.3h0M515.4 109.5h0M508.7 114.5h0M514.6 116.3h0M503.5 108.2h0M499.5 110.8h0M490.8 115.1h0M491.4 118h0M493.6 115.2h0M509.6 114.1h0M519.1 114.5h0M505.8 112.1h0M497 120.6h0M498.7 110.7h0M494.3 114.9h0M499.9 121.9h0M521.6 111.1h0M513 115.6h0M506.5 121.3h0M513 112.4h0M494.3 115h0M519.9 105.9h0M508 111.5h0M512.2 117.8h0M524.7 108.9h0M518.7 112.6h0M509.2 110.5h0M492 109.8h0M495.9 118.8h0M522.5 115.7h0M503.8 120.2h0M514.1 117.2h0M492.5 115.6h0M506.7 119.2h0M505.1 113.1h0M514.5 114.1h0M501.6 117.7h0M511.1 116.9h0M513.4 113.9h0M523 113.2h0M496.6 103.4h0M501.5 112h0M501.8 108.4h0M492 122.2h0M501 119.3h0M512.7 113.1h0M522.5 112.7h0M498.6 109.3h0M500 114.8h0M511.6 114.8h0M489 122.4h0M498.6 120.6h0M509.1 120.8h0M507.1 111.8h0M523.6 114.9h0M518.8 114.2h0M491.5 114.9h0M495.2 114.7h0M512.5 114.1h0M500.9 114.3h0M509.8 118.4h0M493.9 113.5h0M499.5 114.9h0M512.2 117.8h0M492.6 116.1h0M527.2 116.8h0M498.4 109.7h0M501.2 112h0M514.9 116.9h0M507.3 112.8h0M509.2 120.2h0M523 113.9h0M511.2 110.1h0M509.3 114.9h0M494.1 116.3h0M510.2 119.6h0M508.8 118.1h0M499.8 114.5h0M502.3 120.7h0M504.1 114h0M505.2 112.4h0M491.4 116h0M506.4 112h0M543.9 119.4h0M518.5 116.5h0M494.9 118.4h0M508.8 109h0M495.5 121.2h0M489 118.5h0M495.2 116.2h0M497.8 116.6h0M493.9 116.6h0M493.9 115.7h0M515.6 119.1h0M525.3 115.5h0M509.8 115.9h0M520.7 121.2h0"/><path fill="none" stroke="#777" stroke-width="1.5" stroke-linecap="round" d="M471 113.4h0M471.6 112.8h0M466.4 113.8h0M455.3 116.3h0M470.5 112.4h0M469.8 114.5h0M467.7 113.6h0M470.9 116.5h0M470 111.7h0M462.1 114.7h0M463.9 111.4h0M469.2 112.7h0M470.7 113.8h0M472.5 118.9h0M472.5 114.4h0M479 117.4h0M478.3 114.1h0M466.7 119h0M460.9 110.1h0M464.1 110.4h0M474.2 113.5h0M453.5 112.2h0M461.4 109.5h0M472.3 113.5h0M457.9 115h0M460.4 117.7h0M472.4 113.2h0M471.1 115.2h0M473.1 109.2h0M461.3 111.7h0M471.6 111.1h0M464.4 110.4h0M462.1 115.4h0M466.4 118.7h0M463.5 118.1h0M476.9 115.2h0M475.3 119.1h0M463.1 119.7h0M456 118.4h0M468.9 110.7h0M459.7 116.2h0M471.4 109.7h0M472.9 118.3h0M472.1 109.4h0M464.4 116.6h0M457.6 117.3h0M468.4 118.3h0M472.1 120.5h0M477.1 111.5h0M457.4 114.4h0M471.3 118.6h0M470.7 112.4h0M462 116.4h0M473 117.8h0M462 119.4h0M466.4 116.1h0M465.1 118.3h0M460.8 113.1h0M468.4 119.4h0M460.4 114.8h0M466.8 120.4h0M470.9 115.1h0M459.4 116.8h0M471.7 112.8h0M467.3 114.8h0M476.4 109.9h0M471.8 109.6h0M470.9 114.9h0M464 111.5h0M459.2 112.5h0M459.3 118.5h0M471 116.6h0M459.1 116.6h0M463.1 112.7h0M474.5 120h0M465.2 112.3h0M465.5 120.3h0M468.6 115.3h0M474.6 116.2h0M450.9 114.8h0M461.8 115.8h0M476 111.6h0M471 117.9h0M470.6 112.5h0M473.5 116.4h0M473.7 120.9h0M463.3 116.4h0M462.2 112.1h0M472.5 119.5h0M470.8 118.4h0M460.7 116.9h0M459.9 118.7h0M468.5 117.4h0M464 119.5h0M473.1 115.6h0M464.5 111.5h0M478.8 114.1h0M457.7 109.8h0M477.3 109.4h0M457.5 117.7h0M470.4 117.5h0M472.9 114.7h0M469.6 119.6h0M461.4 113.1h0M451.2 117.9h0M466 119.4h0M462 110.4h0M471.8 118.9h0M471.5 116.8h0M465.9 116.9h0M464.2 117.6h0M462.6 109.7h0M473.1 111.1h0M470.1 113.3h0M463.7 113.7h0M466 112.4h0M453.1 115.3h0M467.8 116.1h0M464.8 119.6h0M468.1 118.7h0M465.8 110.9h0M461.2 115.2h0M465.5 117.8h0M470.4 111.8h0M465.5 113.8h0M460.3 110h0M459.5 117.3h0M459 112.8h0M468.5 116.3h0M476.8 114.7h0M459.4 114.1h0M458.3 119.5h0M473 112.1h0M458.8 113.8h0M474.2 115.5h0M471.7 113h0M480.9 112.9h0M471.4 116.6h0M479.8 118h0M472.2 115.3h0M461.4 110.3h0M469.3 119.4h0M448.1 118.5h0M461.6 118.6h0M476.3 112.8h0M476.4 117.8h0M470.8 115.7h0M465.6 116.1h0M476.5 118.2h0M469 111.9h0M467.5 114.5h0M468.7 112.1h0M463.7 116.7h0M467.1 120.9h0M462.2 120.1h0M475.1 112.7h0M455.9 117.1h0M470.6 119.1h0M474.3 111.9h0M464.5 119.3h0M466.1 116.6h0M473 117.4h0M475.7 109.2h0M472.6 117.4h0M461.3 120.3h0M468.5 111.6h0M463 114.5h0M459.8 112h0M467.3 112.6h0M467.8 115.4h0M477.1 113h0M470.5 118.6h0M477 118.5h0M471.7 114.5h0M466.7 111.4h0M462.4 116h0M470.6 117.1h0M465.3 118.8h0M463.1 120.8h0M466.9 109.5h0M470.7 113h0M476.7 114.6h0M455.9 117.6h0M460.9 109.7h0M468 112.1h0M458.3 117.4h0M471.3 111.6h0M472.5 118.7h0M478 116.9h0M465.4 119.6h0M459.1 115.9h0M477.7 110.8h0M480.7 110.5h0M460.9 115.9h0M473.5 116.7h0M464.2 117h0M469.8 113.1h0M470.5 113.9h0M465.2 118.2h0M475.3 113.4h0M472.4 116.4h0M458.9 111.6h0M470.3 113.7h0M457.3 118.1h0M456 116.2h0M474.4 114.1h0M470.1 110.6h0M474.6 111.9h0M467.5 116.4h0M475.2 110h0M482.3 115.7h0M467.9 113h0M467 118.2h0M471 119.9h0M459.8 111.4h0M473.3 114.8h0M474.1 114.3h0M469.9 116h0M461.3 113.5h0M473.3 119.3h0M466.7 117h0M466.4 120.3h0M471 112.1h0M478.7 109.3h0M469.6 115.2h0M468.2 112h0M457.1 115.7h0M464.2 115.6h0M458.2 114h0M468.3 117.4h0M465.6 119.1h0M458.2 110.9h0M464.6 117.3h0M456.6 111.3h0M468.6 111.6h0M462.8 115.9h0M466.1 118.9h0M468.6 109.3h0M479.5 115.9h0M470.1 118h0M460.2 109.4h0M460.1 113.7h0M471.7 118.5h0M467.2 112.5h0M480.4 114.5h0M480.1 112.6h0M472.5 113.5h0M467.3 116h0M471.5 112.8h0M461 115.2h0M475.3 116.5h0M468.7 114.3h0M468.4 116.6h0M467.6 113.1h0M467.9 112.5h0M469.8 116.2h0M463.3 115.5h0M473.7 114.8h0M470.9 112.5h0M477.3 117.5h0M463.3 117.6h0M473.4 114.6h0M477.8 113.3h0M470.9 114h0M464.8 110.9h0M466.9 111.1h0M467.8 118h0M463.2 113h0M470.6 115.7h0M473.1 114.8h0M473.4 112h0M475.4 114h0M456.4 112.8h0M464.4 115.9h0M477.5 115.3h0M457.9 117.2h0M465.3 115.8h0M475.2 117.3h0M470.4 118.4h0M461.7 118.4h0M461.4 111.3h0M458 114.7h0M469.1 113.4h0M478.3 111.5h0M460.1 118.4h0M477.2 114.5h0M464.4 113.4h0M471 110.6h0M473.8 114.6h0M472.2 116.1h0M475.3 113.5h0M475 113.2h0M462.3 114.9h0M472.8 112.3h0M472.3 119.7h0M466.8 113.6h0M478.2 113.9h0M469.7 119.8h0M472.6 109.3h0M467.2 119.5h0M466.5 113.5h0M472.2 116.3h0M475.6 116.7h0M473.8 115h0M466.3 117.5h0M478.4 110.6h0M473 113.4h0M474.9 110.3h0M468 110.2h0M473.2 110.8h0M471.1 117h0M467.8 120.9h0M460.4 111.3h0M475.7 116h0M465.7 116.6h0M467.7 118h0M479.2 112.3h0M457.7 114.1h0M477.7 114.2h0M476.6 117.5h0M468.8 113.7h0M464.8 112h0M477 119.1h0M466.2 116.2h0M478.7 117.8h0M478.4 112.5h0M467.9 116h0M467.1 111.9h0M469.2 115h0M464 112.1h0M469.7 116.3h0M456.1 118.4h0M465.5 114.8h0M466.2 116.4h0M472.7 119.1h0M464.7 117.4h0M470.7 109.1h0M460.7 114.5h0M457.6 116.2h0M472.7 112.3h0M464.8 116.9h0M460.9 114.1h0M463.1 117.2h0M473.7 113h0M474.8 117.9h0M471.8 110.6h0M466.6 118.7h0M454.4 111.8h0M461.2 111.1h0M473.3 112.8h0M468.6 117.4h0M460.3 120.1h0M474.5 115.5h0M472.1 119.9h0M461.9 113.3h0M462.6 120.7h0M471.9 112h0M461.5 110.8h0M461 112.6h0M469.9 111.5h0M474.1 112.7h0M466.9 114.7h0M464.3 112.3h0M464.9 116.3h0M471.2 115.9h0M474.3 118.3h0M466.6 119h0M455 116.7h0M463.4 117.6h0M455.7 112.2h0M471.6 111.5h0M473.7 119.3h0M473.7 114.9h0M472.4 112.7h0M462 117.4h0M468.7 115.1h0M476.4 113.6h0M463.2 113h0M474.4 113.8h0M471.5 120h0M461.5 120.1h0M460.5 120.7h0M468.4 114.3h0M464.9 117.8h0M458.4 117.8h0M476.6 120.6h0M468.3 116.2h0M466.8 118.5h0M477.2 117h0M469.6 111.2h0M466.7 117.5h0M477.3 119.6h0M466.3 113.1h0M464.5 118.5h0M472.9 110.8h0M469.5 115.9h0M472.9 117.2h0M459.5 120.5h0M472.5 112.7h0M457.1 114h0M465.5 113.4h0M467.6 119.8h0M464.3 112.6h0M479.7 117.9h0M455.8 111.5h0M458.6 113.6h0M455.6 117.4h0M469 119h0M478.1 115.4h0M471.8 118.6h0M458.4 110.4h0M480.6 113.7h0M465.9 117.7h0M465.9 116h0M474.6 114.7h0M465.3 111.2h0M467.7 115.5h0M467.6 115.5h0M471.9 115.1h0M465.3 113.5h0M471.4 117.4h0M469.8 117.7h0M475.6 115.3h0M459.5 113.8h0M468.1 116h0M463.3 114.5h0M463.5 113.8h0M477 110.6h0M461.1 117.1h0M457.1 115.2h0M461.8 113h0M463 113.5h0M476.6 111h0M462.8 115.8h0M480.2 115.8h0M472.1 110.9h0M466.7 118.9h0M458.2 113.3h0M476.6 116.3h0M472.5 119.4h0M467.9 110.8h0M472.1 115.2h0M459.8 110.2h0M480.8 110.1h0M466 113.8h0M469.6 113.4h0M462.3 113.2h0M470 112.2h0M480.9 113.2h0M463.1 119.7h0M453.8 114.2h0M465.2 115h0M469.8 116.7h0M471.4 114.3h0M468.3 114h0M461 114.3h0M470 114h0M471.2 109.5h0M461.1 117.8h0M471.7 113.9h0M462.4 115.5h0M460.8 117.7h0M466 111.2h0M463.2 109.1h0M481.4 113.5h0M476 116.3h0M474 115.3h0M469.4 116.6h0M468 117.4h0M476.9 115.6h0M464.6 111.8h0M463 117.2h0M459 117h0M465.5 114.2h0M461.2 111.8h0M468.1 113.2h0M479.9 115.2h0M472.1 117.2h0M470.5 113.9h0M459.9 114.6h0M468 113.7h0M456.3 115.2h0M482 115.7h0M464 112.4h0M464.9 114.4h0M462.7 115.9h0M473 109.2h0M473.6 119.4h0M469.1 119.4h0M475.9 119.3h0M468.9 116.7h0M472.5 117.7h0M460.5 117h0M463.8 113.8h0M460.3 113.9h0M477.6 109.9h0M461.1 113.3h0M476.3 110.2h0M476 117.2h0M456.1 119.8h0M468.7 110.1h0M467.1 112.9h0M465.2 112.7h0M471.8 119h0M469.8 116.9h0M475.5 112.2h0M478.9 114.2h0M467.9 115.4h0M469.3 111.4h0M468.2 114.1h0M482.4 117.4h0M457.4 113.9h0M472 115.6h0M459 115.5h0M468 111.7h0M457.5 115.9h0M475.6 109.9h0M470.7 116.5h0M460.1 114.2h0M478.2 111.4h0M467.3 113.6h0M466.7 113.1h0M465.1 115.9h0M466.8 117.8h0M464.9 116.4h0M454 112.6h0M469.1 118h0M468.7 116.3h0M469.2 118.5h0M460.2 119.8h0M457.6 112.9h0M476.8 114.1h0M469.5 114.9h0M459.9 111.2h0M461.3 118.5h0M478.4 119.1h0M474.7 114.2h0M469.8 113.4h0M474.8 111.4h0M459.8 113.5h0M471.8 115.8h0M466.4 119.4h0M479.9 118.4h0M463.6 113.2h0M480.2 117.6h0M462 111.5h0M478.2 116.4h0M472.1 114.5h0M467.5 115h0M466.8 113.8h0M475.7 111.6h0M465.9 112.7h0M463.6 115.6h0M476.2 113h0M472.4 116.7h0M480.9 110h0M470.2 115.2h0M464.4 120h0M465.6 116.4h0M467.1 112.7h0M474.7 116.7h0M476.9 118h0M455.4 118.5h0M463.9 115.5h0M474.2 115.2h0M455.9 118.1h0M458.3 113.9h0M465.4 117h0M469.1 114.1h0M469.8 120.9h0M458.4 110.5h0M467.6 117.3h0M470.7 113.6h0M464 117.3h0M478.2 119.7h0M459.3 112.5h0M472 113.8h0M471.5 116.9h0M470.7 118.6h0M476.1 110.2h0M470 115.1h0M466.3 116.2h0M460.5 112.2h0M471.8 118.6h0M473 120h0M462.9 114.7h0M448.1 114.5h0M452.8 113.8h0M466.7 109.8h0M469.3 114.9h0M465.6 118.6h0M474.3 117.5h0M457.6 111h0M468.3 119.3h0M466 113.6h0M471.6 112.8h0M463.5 112h0M474.5 118h0M464.9 110h0M466.2 115.1h0M466.3 116h0M454.8 118.1h0M464.5 114.7h0M468.1 118.1h0M473.3 119.8h0M471.7 112.7h0M469.9 114.9h0M469.3 119.6h0M471.2 115.2h0M466.6 116.8h0M467.7 120.5h0M448.8 111.6h0M463.4 110.9h0M453.4 116.7h0M470.1 119.1h0M468.6 119.5h0M473.5 118.3h0M472.5 117.6h0M460.4 111.2h0M467.8 116.2h0M462 111.9h0M472.6 112h0M476 119.4h0M468.1 116.6h0M466.3 114.5h0M474.4 117.1h0M476.6 120.3h0M466.2 111.6h0M472.9 118.1h0M474.5 115.1h0M465.6 114h0M470.8 115.8h0M462.3 120.3h0M470.8 117.7h0M468.4 120.5h0M456.8 116.5h0M467.1 119.6h0M469.7 118.9h0M471.2 112.7h0M473.4 113.6h0M468.7 114.3h0M470 115.6h0M479.1 115.9h0M462 116.5h0M461.1 120.1h0M476.3 112.3h0M472 117.2h0M461 112.1h0M471.7 116.8h0M469 113.3h0M468.9 112.9h0M458.4 115.1h0M475.7 117.4h0M477.1 117h0M463.8 116.4h0M466.6 110.4h0M469.2 118.4h0M462.7 117.6h0M469.6 114.7h0M472.8 119.2h0M467.7 115.5h0M468.3 119.1h0M465.9 118.8h0M470.8 116.2h0M469.3 112.9h0M468.3 118.3h0M472.8 113.9h0M467.6 116.3h0M464.9 115.4h0M473.1 115.4h0M462.8 114.4h0M461.8 112.2h0M470.2 118.6h0M460.8 120.1h0M481.3 117.7h0M470.4 113.5h0M477 116.7h0M465.3 114.4h0M465.1 111.4h0M472.8 116.1h0M465.4 110h0M470.2 116.9h0M479.1 117.4h0M473.5 114.8h0M469.8 120.4h0M462.2 110.7h0M472.8 110.2h0M477.4 113.8h0M463 112.3h0M466.2 113.9h0M465.6 115.1h0M474.9 113h0M463.8 118.2h0M472.3 120.1h0M475.3 113.4h0M468.2 119.1h0M467.1 113.1h0M468.3 118.1h0M462.6 114.2h0M473.1 115.6h0M465.6 115.3h0M471.5 109.7h0M477.1 116.5h0M476.5 119.5h0M463.4 116h0M464.6 113.2h0M461.8 109.1h0M469.5 114.1h0M467.5 113.2h0M471.6 114.7h0M475.4 113.9h0M467 113.2h0M473.1 114.9h0M477.2 110.4h0M471.6 112.6h0M465.4 111.1h0M458.8 116.2h0M456 119.2h0M457.5 117h0M473.5 113.4h0M470.7 113.6h0M477.1 116.8h0M479.7 116.8h0M472.3 117.7h0M455.7 111.7h0M473.5 117.4h0M461 119.5h0M462.4 118.6h0M460 114.8h0M471.4 114h0M468.8 116.1h0M472.4 112.2h0M465.7 111.3h0M478.2 116.9h0M460.5 115.6h0M475 119.1h0M462.2 111.5h0M460.1 114.6h0M466.9 112.3h0M467.8 114.9h0M465.5 118.1h0M468 112.1h0M461.3 115.2h0M470.4 111h0M466.4 113h0M477.3 110.8h0M469.9 110.3h0M472.1 117.1h0M461.1 116.9h0M457.3 114.6h0M473.8 115.5h0M471.6 115.8h0M462.3 116.6h0M481.3 117.7h0M463.5 112h0M470.3 114.9h0M473.8 120h0M466.5 110.9h0M473.4 113.3h0M462.3 111.6h0M450.1 120.3h0M475.4 111.4h0M460 116.6h0M458.5 109.3h0M462.9 117.5h0M469.4 110.3h0M467.9 111.1h0M464.3 109.9h0M470.9 116h0M464.6 120h0M473.5 115.7h0M472.5 115.4h0M470.9 113.7h0M479.4 120.9h0M470.2 111.7h0M472.6 120.2h0M474.3 119.2h0M477.3 112.5h0M466.6 114.9h0M475.7 113.3h0M462.5 116.3h0M464.2 115.4h0M472.7 117.8h0M466.5 115.2h0M465.9 116h0M461.5 119.6h0M470.5 116.9h0M470 110.1h0M455.1 111.5h0M460.5 113.3h0M473.9 111.5h0M472.1 115h0M470.7 112.1h0M469.2 116.3h0M464.2 119.9h0M470.4 119.1h0M462.9 112.3h0M463.3 114.5h0M469.4 119.4h0M451 113.6h0M465.5 120.9h0M463.4 117.6h0M470.3 114.7h0M470.1 117h0M467 110.1h0M450.6 116.9h0M470.4 111.8h0M462.9 114.2h0M468.7 120.7h0M464.1 114.9h0M467.2 111.9h0M473 110.6h0M455.6 115.9h0M458.1 110.2h0M462.2 111.7h0M465.9 116.7h0M472.6 114.2h0M463.4 117.1h0M461.4 116.9h0M477 119.6h0M468.2 114.2h0M482.2 113h0M457.4 119.6h0M459.4 117.6h0M480.6 119.2h0M460.7 119.7h0M480.4 118.8h0M465.7 118.3h0M471.6 118.2h0M475.6 113.5h0M468.4 113.1h0M473 117.9h0M465 119.2h0M474.4 115.5h0M468.8 110.8h0M476.3 118h0M469.9 112h0M471.8 119.9h0M467.9 111h0M473.6 118.7h0M472.6 118.8h0M456 117h0M455.3 119.5h0M474.8 116h0M462.5 114h0M469.9 116.3h0M468.3 113.9h0M466.8 114.8h0M460.6 111.1h0M470 111.7h0M472.8 114.3h0M471.2 116.6h0M469.7 120.3h0M465.9 111.4h0M455.5 115.3h0M468.8 113.3h0M457.6 118.4h0M471.3 112.3h0M468.2 116.9h0M466.5 115.3h0M470.2 119h0M462.4 118h0M454 115.8h0M454.2 114.9h0M469.5 117.6h0M475.5 117.8h0M472.1 118.3h0M472.9 109.1h0M466.8 117.7h0M466.5 114.7h0M466.5 113.5h0M466.8 117.1h0M464.1 113h0M469.3 114.3h0M477.1 115.5h0M472 110.2h0M474.8 116.2h0M466.8 119.7h0M465.6 114.8h0M457.4 115.6h0M469.8 117.1h0M474.6 117.4h0M454.6 114h0M455.4 116.3h0M463.6 113.4h0M461.2 113.9h0M471.3 111.9h0M471.1 116h0M463.2 119.7h0M467.8 112.4h0M459.7 112.4h0M453.7 112.6h0M460.2 115.2h0M464.8 118.5h0M463.2 111.8h0M467.2 116h0M477.5 115.2h0M478.6 112.6h0M469.3 115.3h0M468.2 117.4h0M470.8 117.3h0M463 115.2h0M473.2 115.9h0M471.4 109.7h0M471.7 116.3h0M477.2 115.2h0M467.9 117.6h0M462 117.9h0M464.1 112.3h0M469.5 117.5h0M478.1 109.7h0M462.8 113h0M466.7 114.1h0M463.7 117.4h0M451.9 118.5h0M469.9 109.2h0M468.2 113.4h0M467.7 114.6h0M467.2 111.4h0M463.9 117h0M466.6 119.6h0M475.1 115.5h0M467.2 110.6h0M470 114.9h0M458 115.6h0M465.2 115.7h0M462.8 117.4h0M469.4 109.9h0M468.8 119.9h0M472.8 116.4h0M471.5 116.3h0M464.1 114.2h0M472.2 113h0M475.2 113.8h0M458.6 115h0M470.4 112.8h0M458.4 114.6h0M478.4 120.8h0M469.7 114.5h0M466.1 119.7h0M458.6 117.4h0M472.3 120h0M448.4 117.8h0M466.5 118.5h0M463.6 113.7h0M471.2 115.3h0M470.9 113.4h0M462.6 113h0M472.3 116.4h0M472.4 117.8h0M473.5 114h0M474.6 117.9h0M468.2 115.6h0M481.4 112.8h0M477.8 115.3h0M472 117.1h0M479.1 118.7h0M455.5 118.7h0M465.8 117.8h0M480.2 112.9h0M463.3 115.8h0M464.2 111h0M463.6 110h0M470.5 120h0M467.8 112.5h0M462.1 117.9h0M461.4 114.3h0M466.8 117.4h0M471.7 113.8h0M462.8 109.1h0M471.4 117.8h0M465.8 111.4h0M459.2 110.1h0M472.6 119.3h0M468.3 116.5h0M472 114.6h0M467.2 120.2h0M458.1 116.2h0M467.7 119h0M468.2 115.1h0M475.9 114.5h0M473.5 117.3h0M478.4 113.7h0M474.9 116h0M463.7 113.7h0M459.8 112.4h0M468.1 118.2h0M468 113.7h0M462.5 115.3h0M469.2 115.9h0M471 119.7h0M459.1 115.9h0M466.2 112.4h0M467.9 112.7h0M461.2 115.3h0M461.3 112.1h0M470.7 120.2h0M472.4 112.7h0M468.3 111.7h0M462.5 114.3h0M469.1 116.8h0M459.2 117.9h0M461.7 110h0M473.9 117.9h0M467.5 118.4h0M469.8 115h0M477.6 116.3h0M472.1 117.2h0M478.3 119.5h0M471.3 116.7h0M465.6 114.1h0M461.5 116.5h0M468 118.2h0M464.6 117.2h0M472.4 114h0M459.7 114.9h0M471 112.6h0M453.8 120.2h0M476.8 111.4h0M466.6 117.7h0M467.8 113.2h0M471.6 110.4h0M460.1 114h0M474.8 115h0M471.9 119h0M469.8 120.1h0M472.9 110.4h0M465.3 109.1h0M468.5 116.8h0M460.3 113.6h0M463.2 114h0M459.7 114.6h0M471.1 114.3h0M480.3 118.3h0M477 113.8h0M463.7 116.4h0M470.7 119.8h0M469.6 114.6h0M463.8 115.7h0M457.7 118.1h0M455.9 110.8h0M456.5 116.5h0M472.5 112.9h0M467.9 110.5h0M467 118.7h0M464.3 113.1h0M459.7 116.5h0M464.9 118.7h0M471.8 118.4h0M463.4 115.6h0M467.8 115.7h0M473.3 118.4h0M472.3 118.5h0M465.6 112.7h0M468.9 118.6h0M454.2 112.6h0M479.5 117h0M467.5 110.5h0M469.9 113.9h0M477.5 112.4h0M476.4 116.6h0M461.7 112.3h0M465 118.3h0M468.8 116.2h0M465 115.2h0M474.8 116.3h0M466.1 115.5h0M460.7 112.9h0M479.8 112.1h0M463.2 117.4h0M459.1 110.6h0M468.4 116.2h0M461.2 116h0M465.8 116.9h0M457.8 120.4h0M463.3 113.3h0M454.2 112.7h0M454.2 114.6h0M471.2 119.7h0M472.9 115.8h0M475.2 114.2h0M476.3 112.5h0M467.4 116h0M472.5 116h0M460.2 116.8h0M463.3 118h0M472.3 117.6h0M464.7 116.8h0M472 112.3h0M474.6 119.2h0M469.6 118.1h0M470.6 119.8h0M471.6 113.1h0M470.6 113.8h0M472.7 117.3h0M461 110.6h0M455.2 117.9h0M467.6 111.5h0M475.8 119.8h0M459 114.8h0M464.1 115.6h0M477 118.2h0M465.1 118.1h0M457.5 116.1h0M463.8 111.2h0M470.2 117.8h0M464.9 112.2h0M460.7 116.7h0M464 110h0M462.6 114h0M462.2 118.2h0M458.5 120.8h0M475.1 114.7h0M450.7 112h0M468.2 114.8h0M467.8 116.7h0M462.1 114.7h0M459.4 109.2h0M472.3 113h0M461.5 112.6h0M467.6 110.3h0M469.3 115.3h0M463.4 120h0M467 120.5h0M473.1 113.4h0M479 116.2h0M472.2 117.2h0M472.3 115.7h0M471.5 113.3h0M468.9 116.3h0M464.9 116h0M465 117.3h0M462.4 109.4h0M477.9 117.6h0M465.9 119.6h0M465.4 113.7h0M472.3 115.9h0M465.9 119.6h0M471.1 118.9h0M463.1 117.2h0M470.7 117.5h0M465.4 115.1h0M471.8 116.3h0M465 113.8h0M475.7 119.3h0M456.4 120.9h0M460.6 119.8h0M463.9 114.3h0M479.2 113.4h0M465.3 114.7h0M463.3 116.6h0M464.8 115.5h0M459.9 116.8h0M469.2 111.1h0M469 117.4h0M466.5 112.4h0M477.2 114.7h0M474.2 116.5h0M455.6 118.4h0M463 114.4h0M468.9 116.1h0M468.6 118.9h0M481.7 116.5h0M456.2 111.8h0M478.4 119.3h0M474.4 113.3h0M463.6 120.6h0M455 120.8h0M462 110.8h0M472.2 116.6h0M466.3 113.4h0M471.6 111.5h0M472.8 112.6h0M474 116.2h0M465.2 110.5h0M463.5 120h0M466.8 117.7h0M469 111.8h0M461.9 113.2h0M465.9 111.9h0M476 111.7h0M471.3 119h0M471.2 116.8h0M464.8 114.3h0M462 114.8h0M467.4 113h0M478.6 120.1h0M465.5 116.9h0M468.4 111.4h0M460 117.1h0M476.5 118h0M460.8 117.5h0M464.3 116.7h0M473 117.4h0M469.8 111h0M456.9 112h0M456.7 113.2h0M465.8 116.3h0M458.8 112.5h0M462.7 120.4h0M469.3 115.8h0M451.3 111h0M450.6 113.4h0M469.3 116.8h0M465.1 110.2h0M465.5 113.8h0M456.2 115h0M470 114.9h0M469.8 117.4h0M475.3 112.8h0M468.8 117.6h0M465.7 109.9h0M467.7 117.4h0M464.2 116.9h0M464.7 117.8h0M463 116.9h0M466.2 118.1h0M457.7 112.9h0M467.4 112.5h0M474.3 113.5h0M468 109.8h0M462.9 120.5h0M461.2 110.5h0M467.5 117.8h0M469.8 109.3h0M460.3 112.7h0M467.2 116h0M471.3 118.2h0M478.4 115.2h0M458.4 109.6h0M474 114.9h0M462.8 116.4h0M476 114h0M478.3 117.1h0M456 113.7h0M467.5 111.8h0M462.8 117.3h0M477.1 114.9h0M463.9 111.9h0M465.7 118.5h0M461.1 111.8h0M464.6 113.2h0M463.4 117.2h0M466.5 111h0M471.1 116.8h0M475.9 116.4h0M474.3 120.4h0M459.4 115.7h0M466.3 109.4h0M459.9 117.2h0M472.3 111.9h0M460 115.9h0M468.5 114h0M470.3 113.3h0M462.5 115.4h0M459.7 112h0M480.5 115.7h0M463.3 116.3h0M459.3 117.9h0M472.7 114.1h0M467.7 109.3h0M464 120.1h0M458.7 114.7h0M468.9 110.1h0M473.9 116.5h0M458.8 115.1h0M464.9 115.3h0M474.4 111.1h0M470.6 111.9h0M473.1 111.2h0M461 117h0M466.9 111.2h0M471.1 111.6h0M460.9 112.3h0M471.3 115.9h0M475.3 112.2h0M466.4 116.9h0M467.9 114.7h0M465.1 112.5h0M473.3 112.5h0M474.6 113.5h0M474.8 112.3h0M478.8 117.7h0M472.9 115.7h0M469.1 113.5h0M474.2 118.8h0M459.5 113.6h0M464.3 112.4h0M456.8 114.8h0M475.6 110.6h0M472.5 109.6h0M465.2 119.1h0M470.6 113.7h0M464.7 118.7h0M478.3 115.3h0M471.9 119.4h0M462.7 119.7h0M463.6 119.7h0M464.3 114.4h0M465.3 114h0M454.3 118.4h0M475.2 111.4h0M474.2 115.3h0M480.3 114.8h0M481.8 116h0M466.2 113.9h0M464.2 113.9h0M467.9 119.1h0M466.2 113.9h0M457 113.1h0M466.2 119h0M457 114.8h0M453.7 115.4h0M474.7 111.8h0M468.5 115.5h0M474.2 114.5h0M462.3 113.2h0M452.8 117.8h0M467.5 113.6h0M471.4 110h0M459.1 113.2h0M472.8 120.6h0M470.1 114h0M470.9 112.5h0M462 111.8h0M477.8 112.7h0M460.7 116.9h0M466.7 109.9h0M473.5 116.5h0M474.7 119.2h0M465.9 111.1h0M474 114.7h0M465.6 116.2h0M472.8 111.8h0M468.8 113.8h0M470.1 113.3h0M467.4 113.3h0M466.1 113.1h0M453.4 112.6h0M470.9 116.3h0M456.2 120.3h0M467.8 116.8h0M468.3 113.1h0M463.2 112.7h0M481.7 110.4h0M473.7 118.9h0M474.9 112.8h0M470.3 117.8h0M457.6 116.6h0M461.3 119.7h0M465 114.6h0M468.6 117h0M470.9 119.4h0M473.4 116.5h0M469.2 117.5h0M474.2 115.7h0M456.9 110.2h0M470.9 118.4h0M471.2 119.2h0M464.6 111.5h0M469.8 119.2h0M464.8 109.5h0M469.7 115.7h0M461.1 112.5h0M472.6 116.5h0M475.3 110.6h0M466.4 113.4h0M468.1 120h0M481.3 120.9h0M471.3 113.5h0M455.5 114.6h0M465.5 118.7h0M471.5 113.9h0M468.4 114.1h0M466.2 109.8h0M460.4 112.4h0M471.3 112.1h0M462.7 116.8h0M471.2 116.9h0M465.4 111.4h0M475.7 112.9h0M481.2 113.6h0M466 115.5h0M471.9 113.4h0M461.8 111.9h0M475.3 117.1h0M474.1 117.1h0M468.5 114.6h0M456.4 112.3h0M457.7 114.5h0M465.3 116.3h0M473.8 113.1h0M471.9 111.5h0M473.9 115.9h0M463.2 119h0M476 115.5h0M477.1 115.8h0M460.4 115.3h0M470.3 112.2h0M462.6 117.3h0M474.4 114.9h0M472.1 114h0M470.1 119.9h0M475.1 111.8h0M467 117.3h0M474.6 117.7h0M471.6 120.9h0M472 112.4h0M470.2 113.6h0M468.2 112.8h0M470.3 114.4h0M460.7 120.1h0M457.7 109.5h0M470.5 113.7h0M469.1 111.4h0M463 118.7h0M460.2 115.9h0M459.3 113.4h0M461.5 115.1h0M468 117.3h0M475 114.3h0M468.5 115.7h0M462 114.4h0M464.3 117.9h0M478.2 119.7h0M476.4 114.2h0M472.9 115.8h0M460 117h0M463.9 111.7h0M456.3 115.3h0M471.3 111.4h0M460.3 113.7h0M470.5 117h0M458.3 109.4h0M460.7 111.3h0M472.9 118h0M466.5 115h0M477.3 118.7h0M458.7 116.8h0M470.9 120.9h0M472.3 114.9h0M477.6 114.5h0M472.6 115.1h0M462 117.9h0M460.8 112.5h0M467.4 117.1h0M473.6 118.2h0M461.2 116.3h0M469.8 110.9h0M468 118.8h0M478.1 120.9h0M471.7 113.4h0M463.5 113.3h0M469.2 115.4h0M465 114.3h0M460.7 117.6h0M463.8 119.3h0M479.2 119.1h0M478.8 117.6h0M465.3 111.7h0M450 111.7h0M465.1 116.9h0M463.9 117.5h0M465 116h0M473.4 117.2h0M455.1 114.1h0M466 112.9h0M470.6 117.6h0M467.6 115h0M476.4 113.4h0M471.5 114.2h0M454.1 114.9h0M455.8 117.7h0M477.3 113.7h0M463 112.6h0M458.1 113.2h0M464.7 118.4h0M471.8 116.4h0M457.3 120.4h0M461.3 118.1h0M466.9 115.9h0M465.5 118.5h0M467.9 117.9h0M476.5 111.8h0M458.1 118.2h0M457 116h0M465.3 110.7h0M471.4 117.1h0M475.4 111.7h0M465.7 115.4h0M471.9 115.2h0M462.8 114.8h0M475.6 114.5h0M461.1 117h0M475.6 110.9h0M464.1 120.6h0M472.8 112.4h0M460.2 117.5h0M468.2 117h0M472.9 115.2h0M504.3 112.8h0M497.4 109.3h0M498.8 116.2h0M496.7 116h0M502.7 117.1h0M504.1 113h0M496.6 113.7h0M490.1 118h0M499.1 112.2h0M495.7 111h0M500.1 117.4h0M506.7 113.1h0M498.7 114.4h0M505.8 114.4h0M504.2 117.6h0M502.5 111.1h0M500.8 113.8h0M511.9 116.9h0M503.3 117.5h0M499.5 115.7h0M499.8 117h0M496.4 118.4h0M490.8 112.5h0M501.4 113h0M502.5 114h0M503.4 116.3h0M495.3 119.3h0M505.7 117h0M494.1 116.9h0M505 119.9h0M497.6 115.5h0M503.5 120.1h0M495.2 116.4h0M502.4 112.9h0M493.3 115.4h0M510.1 115.9h0M510.9 117.1h0M499.7 118.7h0M506.4 117.8h0M501.2 112.8h0M503.3 120h0M504.8 120.6h0M506.6 113.3h0M510.1 114.4h0M502.1 120.1h0M512.4 117.3h0M507.9 114.5h0M501.8 113h0M493 119h0M509.5 114.2h0M501.3 113.9h0M497.1 115.5h0M490.9 114.8h0M495.6 114.5h0M513.1 113.5h0M497.9 119.6h0M506.4 119.3h0M490.7 119.1h0M509.9 112.9h0M516.7 110.8h0M492.8 112.9h0M503.5 117.5h0M497.6 117.4h0M498.8 118.3h0M495.4 113.6h0M497.1 116.3h0M501.5 118.9h0M504.1 111.5h0M512.8 111.1h0M510 115.9h0M504.7 113.6h0M502.6 110.7h0M509.5 113.3h0M507.6 113h0M496.2 117.7h0M507.4 113.8h0M512.6 115.7h0M492.7 118.6h0M518.7 116.9h0M503.2 113.9h0M492.3 115.8h0M491.8 114.2h0M497 111.6h0M502.3 111.3h0M493.3 114.4h0M507.7 115.6h0M507.3 118.5h0M504.8 114.3h0M503.6 115.7h0M500.2 116.4h0M501.7 112.4h0M510.8 116.1h0M490.6 115h0M495.2 111.7h0M501.8 114.2h0M496.1 118.9h0M490 111.6h0M498.7 115.1h0M515.5 113.3h0M496.8 109.6h0M491.7 113.3h0M502.6 115.2h0M498.9 118.3h0M506.2 114.3h0M505.1 114.1h0M498.8 119.8h0M501 114.7h0M503.2 116.8h0M498.5 114.7h0M506.3 114.8h0M489.3 115.4h0M503.1 116.7h0M498.5 111.3h0M499.9 111.7h0M489.6 109.7h0M507.2 117.2h0M508.9 115h0M504 115h0M508.8 111.7h0M492.7 113.1h0M502.3 115.9h0M491 118.3h0M499.6 113.3h0M510 112h0M495.9 115.8h0M493 110.8h0M491.8 114.3h0M506.3 112.4h0M501.7 110.8h0M502.8 120.5h0M490.5 118.3h0M495.6 120.8h0M496.4 116.7h0M505.2 112.3h0M500.4 114.9h0M491.9 113.1h0M502.4 114.3h0M506.1 119.1h0M491.5 113h0M498.9 112.2h0M502.5 111.6h0M506.6 111.4h0M502.6 115.3h0M500.4 111.5h0M499.4 113.3h0M491.9 116.2h0M505.4 114.2h0M496.9 114.1h0M499.2 115.9h0M511.1 119.5h0M497.3 110h0M511.2 116.7h0M493.5 116.5h0M496.3 114.2h0M504.7 114h0M511.2 109.6h0M496.8 113h0M506.4 118.7h0M508.4 118.5h0M499.4 117.5h0M503.6 114.9h0M491.9 116h0M503.3 111.3h0M490.9 116.9h0M514.4 118.6h0M494.5 120h0M497.7 116.2h0M499.6 115.4h0M499.9 114h0M507.2 117.6h0M494.9 115.7h0M513.4 111h0M494.3 113.1h0M501.6 110.1h0M497 116.7h0M495.6 116h0M498.9 111.2h0M503.5 114.9h0M500.9 119.8h0M504.3 115.2h0M497.6 118.1h0M503 117h0M502.8 113.8h0M492.6 111.4h0M497.8 117.3h0M501.6 110.5h0M503.9 114.3h0M498.6 109.4h0M508.1 117.6h0M511.2 115h0M505.4 112.9h0M497.3 115.8h0M510.3 116.3h0M510.4 115.5h0M507 114.8h0M493.4 119.9h0M499.2 116.6h0M505.5 119.4h0M495.9 113.2h0M495.6 113.3h0M494.9 111.6h0M496.5 117h0M508.4 115.9h0M516 115.6h0M497.7 115.9h0M497.5 113.2h0M498.9 116.7h0M502.7 117.4h0M499.9 120h0M501.8 113.3h0M505.4 120.5h0M506.5 116.9h0M500.9 111h0M491.3 120.3h0M498.3 110.6h0M505.6 115.9h0M506 111.1h0M504.7 114.9h0M495.5 116.2h0M497.5 120.1h0M510.8 114.1h0M505.1 114.9h0M491 120.1h0M502.2 119.4h0M505.6 119.5h0M495.2 116.9h0M516.7 118.3h0M511.8 112.4h0M500.5 116.7h0M510.6 114.3h0M502.8 114.1h0M493.2 114.8h0M503.1 115h0M505.1 120.2h0M508.3 120.9h0M494.1 113.4h0M498.3 115.2h0M502.2 113.1h0M502.3 115.5h0M498.7 112.9h0M506.9 114.2h0M509 113.2h0M505.4 112.3h0M505.6 111.6h0M490.2 116h0M508.9 117.1h0M503.8 120.6h0M503.9 115.1h0M513.6 117.4h0M503.3 112.5h0M504.8 118.8h0M497.1 116.5h0M502.5 118.3h0M501.3 115h0M501 114.7h0M507.1 113.4h0M495.5 115h0M498.5 110.8h0M503.1 109.6h0M492.6 109.1h0M501.8 109.2h0M514.1 119.8h0M505.1 112.6h0M514.9 115.7h0M500.2 118.6h0M507.3 115.8h0M491.4 115h0M501.9 112.7h0M499.6 115.7h0M489.5 112.6h0M504.9 117.5h0M498.3 111.2h0M494.3 111.4h0M507.8 120.2h0M499.3 112.3h0M510.3 112.6h0M499.5 113.2h0M502.9 112.6h0M518.7 112h0M509.1 111.8h0M501.7 113.7h0M490 117.8h0M498.2 118.4h0M508.6 109.4h0M497.1 112.9h0M516.2 113h0M502.8 109.6h0M500.9 112.4h0M500.5 111.3h0M501.7 116.3h0M504.6 118h0M501.9 114.6h0M508.9 113.8h0M507.3 112.7h0M501.4 111.7h0M500.4 117h0M508.4 116.3h0M500 113.2h0M498.4 114.1h0M492.7 113.1h0M490.6 112.9h0M501.8 109.9h0M492.7 119h0M499.4 111.5h0M494.7 111.7h0M494.7 112.8h0M501.4 120.8h0M507.6 112.6h0M498.4 120.4h0M500.2 116.9h0M517.2 116.7h0M501.6 119.8h0M501.6 111h0M508.9 114.9h0M494.9 111.5h0M499.8 119.7h0M496.4 118.7h0M503.1 115.2h0M514.8 115.1h0M508.2 117.1h0M507.9 117.3h0M500.4 116.9h0M516.9 116.8h0M503 120.2h0M505.5 117.7h0M499 114.6h0M497.5 112.2h0M500.3 115.9h0M496 113.1h0M500.5 113.9h0M505 112.5h0M507.4 115h0M495 114.8h0M510.5 115.6h0M489.3 116.1h0M504.2 109.9h0M512.4 117h0M495.6 109.4h0M497.6 114.5h0M503 114.8h0M496.1 119.7h0M495.6 111.8h0M505.8 111.7h0M496.9 116.5h0M504.3 115.1h0M505.3 119.8h0M507.6 116.1h0M500.8 111.3h0M492.5 117.4h0M506.5 120.5h0M493.1 115.1h0M505.2 119.1h0M491 117.4h0M506.4 115.4h0M508.3 113.4h0M499.3 112.2h0M499 109.9h0M495.2 119.4h0M493 116h0M492.2 119.3h0M505.6 119.6h0M500.5 114.5h0M491.8 110.6h0M502.1 115h0M500.8 113h0M496.2 111.2h0M503.8 118.4h0M494.4 115.7h0M501.1 110.1h0M501.8 120.5h0M496.5 120.3h0M495.9 114.7h0M502.1 111.2h0M492.8 110.3h0M508.8 115.9h0M496 114.1h0M503.4 110.4h0M499.7 119.7h0M495.4 118.7h0M494.9 111.8h0M516 118.6h0M501.5 116.2h0M496.6 118.9h0M497.5 111.4h0M492.1 114.3h0M495.9 111.5h0M502.6 112.4h0M493.7 119.8h0M506.3 119.1h0M503.7 114h0M499.4 116h0M505.5 116.1h0M505.4 112.4h0M502 115.4h0M500.2 110.3h0M511.6 115.2h0M496.4 120.7h0M502.7 115.8h0M492.7 110.5h0M501.8 117.8h0M516.2 118.5h0M501.1 113.3h0M498.6 116h0M500 117.1h0M493.1 114.3h0M510.9 116.8h0M498.5 117.3h0M506 119.6h0M496.9 114.5h0M496.1 111.9h0M510.3 109.4h0M490.7 116.5h0M497.6 113h0M504.5 114.3h0M504.8 115.3h0M506.1 117.5h0M497.3 116.1h0M509.1 110.6h0M495 114h0M497.9 116.3h0M503.6 113.3h0M495.5 115.7h0M507.4 114.8h0M512 115.3h0M497.4 120.6h0M495.7 117.1h0M500.1 115.7h0M501 118h0M504.6 118.8h0M493.2 115.3h0M502.2 114.3h0M494.7 114.3h0M510.2 110.4h0M500.7 113h0M497.4 110.4h0M502.8 115.5h0M504.5 109.8h0M503.8 115.1h0M504.7 113.6h0M498.9 110.6h0M494.9 117.8h0M509.2 119h0M499.8 115.5h0M513.1 112.2h0M500.5 114.5h0M517.9 117h0M500.4 114.7h0M492.7 110.6h0M508.6 109.8h0M495.8 120.9h0M497.1 116.8h0M496.2 115.5h0M492.4 110.1h0M521 115.3h0M510.7 116.7h0M497.2 116.3h0M513.1 115.9h0M500.4 115.2h0M489.2 116.4h0M505 112.1h0M499.2 116.5h0M505.8 112.7h0M497.6 112.2h0M496.3 117.4h0M512.2 114.4h0M493.8 119.6h0M518.4 114.3h0M505.2 114.8h0M505.7 119.1h0M506.7 112.5h0M492.5 114.1h0M507.2 119.4h0M494.4 113.6h0M496 111.7h0M506.2 113.6h0M508.9 110.2h0M500.6 117.6h0M499.5 116h0M497.7 118.7h0M495.2 118.1h0M504.1 115.4h0M510.1 116.4h0M502.4 116.3h0M496 115h0M492.7 117.6h0M499.7 115.1h0M500.8 119.5h0M498.9 120.9h0M512.9 112.3h0M514.8 119.1h0M511.8 110.2h0M501 117.6h0M507.2 118.1h0M505.1 113.3h0M502.1 120.7h0M498.9 112.9h0M496.8 114.6h0M500.4 111.8h0M496.2 113.5h0M507.5 116.3h0M504.5 111.7h0M499.3 118.8h0M489.3 110.3h0M510.5 111.6h0M491.7 112.5h0M499.1 111.4h0M503.6 113.1h0M504.9 119h0M501 112.5h0M509.6 117.1h0M504.5 116.1h0M498.1 116.7h0M498.8 119.5h0M506.2 110h0M500.8 120.1h0M494.4 116.2h0M491.8 112.3h0M499.6 115.3h0M493.3 113.9h0M493.3 119.6h0M500.8 115.8h0M502.6 118h0M503.2 117.4h0M495.9 116.9h0M503.7 118.8h0M505.4 112.6h0M504.4 120.2h0M511 112.3h0M497.9 114.9h0M509.7 114.9h0M514 113.6h0M499.3 109.7h0M499.8 109.9h0M497.5 118.6h0M497.6 110.8h0M498.5 113.5h0M496.5 115.3h0M495.3 113.3h0M497.7 117.5h0M497.1 118.6h0M495.4 118h0M495.1 112.4h0M498.3 118.9h0M498.8 116.1h0M518.2 118.3h0M502.6 116.3h0M489.8 111.9h0M505.1 120.1h0M514.1 111.1h0M511.1 113.3h0M491.6 118.7h0M497.4 110.6h0M496.3 119.1h0M502.2 116.4h0M497.2 119h0M496.8 117.1h0M502.1 116h0M506.8 110.3h0M490.7 120.5h0M509.5 117.4h0M500.8 115.9h0M513.2 115h0M494 117.1h0M510.2 113.7h0M506.5 112.7h0M513.4 116.3h0M510.9 117.8h0M502.1 117.5h0M508.8 111.5h0M491.4 110.5h0M500.1 114.1h0M504.7 110.1h0M489.9 118h0M507.5 112.5h0M494.8 114.4h0M509.7 115.9h0M497.8 111.6h0M493.6 112.9h0M501.3 117h0M501.8 118.5h0M494.3 114.3h0M493.6 119.7h0M500.8 118.3h0M502.4 116.7h0M498.1 110.4h0M503.1 116.6h0M507.5 118.7h0M499.7 116h0M501.7 115.8h0M500 120.9h0M500.2 113.2h0M500.3 115.4h0M502.1 112.6h0M492.5 113.4h0M512.6 116.8h0M501.2 111.6h0M502.8 110.8h0M499.3 109.1h0M507.2 115.5h0M509 110.5h0M495.2 114.7h0M500.5 118.7h0M497.7 113h0M495.1 116.7h0M501.3 119.5h0M507.9 118h0M505.7 119.8h0M492.8 116.8h0M502.6 113.8h0M499.5 119.4h0M505.9 113.6h0M510.8 110.8h0M501.2 120.4h0M503.5 110.1h0M497.5 116.3h0M504.4 111.3h0M506.5 116.3h0M500.3 113.7h0M496.5 116.8h0M505.6 117.2h0M497.8 111.6h0M510.8 112.5h0M498.9 116.5h0M515.7 119.5h0M490.4 112h0M504 115.7h0M503.3 120.6h0M503 117.2h0M501.7 117.5h0M512.4 120.2h0M511.4 112.9h0M502.2 119.8h0M496.5 117.2h0M501.9 116.7h0M506.4 112h0M499.2 116.7h0M496.9 112.7h0M508.4 115.3h0M501.9 110.5h0M501.8 109.9h0M503.1 112.9h0M511 116.6h0M491.4 116.3h0M499.8 113h0M505.9 110.5h0M491.3 114.7h0M499.9 110.9h0M510.2 112.3h0M500.8 116.5h0M505.2 114.1h0M504.4 116.9h0M492.1 120.1h0M504.2 114.2h0M501.3 114.6h0M510 116.5h0M500.2 110.8h0M496.7 111.6h0M505.6 116.4h0M505.8 111h0M505.4 115.5h0M494.5 120.7h0M493.9 119.8h0M496.2 113.4h0M515.7 113.8h0M496.8 116.7h0M492.8 115.1h0M502.1 115.3h0M494.3 111.8h0M495.1 119.2h0M503.9 113.6h0M503.2 111.3h0M496 112.2h0M507.8 119.5h0M492.7 110.5h0M503.2 118.1h0M502.5 111.8h0M500.9 113.6h0M504.7 119h0M495.4 111.8h0M503.8 117.1h0M493.4 110.8h0M494.4 117.1h0M499.1 114.7h0M506.6 117.2h0M497.1 114.2h0M507.9 115h0M496.1 109.2h0M500.9 114.4h0M504.3 116.8h0M500.2 113.8h0M494.9 120.5h0M497.1 119.3h0M498.7 112.3h0M506.6 112.9h0M505.9 113.1h0M498.4 116.8h0M503 110.5h0M489.2 115.3h0M501.8 119.5h0M497.5 120.5h0M494.3 114.5h0M489.6 115h0M496.5 112.8h0M492.5 113.1h0M493.4 110.1h0M496.1 117.3h0M493.6 116.7h0M503.3 117.2h0M503.4 110.6h0M498.8 111.9h0M500.9 111.4h0M506 114.1h0M505.9 114.5h0M491.1 109.8h0M504.5 114.6h0M504.3 118.2h0M497.5 114.5h0M503.5 116.8h0M498.5 115.6h0M509.1 112.3h0M492.9 117.3h0M491 115.1h0M490.8 116.5h0M490 111.4h0M507.3 117h0M506 118.1h0M500.9 114.7h0M490.8 111h0M504.3 112.8h0M494.8 119.4h0M510.3 116.5h0M495.1 119.1h0M494.7 115.4h0M501.1 120h0M498.5 115.1h0M507.1 112.1h0M499.5 114h0M502.5 118.5h0M498.4 112.9h0M498.8 116.7h0M499.6 116h0M506 110.4h0M507.1 118.1h0M512.4 119.3h0M496.7 112.6h0M498.9 114.3h0M498.5 111.3h0M500.6 111.2h0M506.1 117.5h0M497.3 114.9h0M499.7 118.3h0M502.4 109.5h0M502.1 114.7h0M500.3 114.2h0M500.7 113.9h0M504.7 112.9h0M502.9 113.9h0M508 112.2h0M497.1 117.9h0M495.8 117.1h0M506.3 114.8h0M515.6 118.2h0M503.4 118h0M504.4 115.1h0M498.9 114.2h0M504.8 110.9h0M493.3 112.6h0M489.6 112.9h0M507.9 109.9h0M498.1 118.4h0M502.7 117.6h0M490.7 109.9h0M508.5 112.8h0M498.6 115.9h0M492.2 117.7h0M496.7 113.9h0M498.9 117.4h0M501.2 115.7h0M493.9 118.7h0M497.8 116.4h0M504.9 113h0M494.5 112.1h0M503.9 115.4h0M501.4 118.5h0M494.4 119.3h0M505.4 110.3h0M505.3 109.5h0M502.6 111.4h0M491.7 112.7h0M499.6 117.1h0M496 119.6h0M495.7 117.2h0M512.5 114h0M498.6 114.3h0M511.9 115.6h0M490.3 119.1h0M502 109.8h0M496.6 115.1h0M491.3 112.4h0M514.4 118h0M508.9 114.8h0M510.5 113.2h0M493.3 111.3h0M496.4 117.1h0M496.7 114.2h0M493.6 116.5h0M496.6 109.5h0M503.4 114.9h0M503 118.3h0M493.3 110.6h0M502.1 117.9h0M499.9 112.4h0M507 115.1h0M503.5 109.9h0M510.6 117.7h0M496.1 113.3h0M499.8 114.4h0M499.1 114.7h0M503.9 113.2h0M493.7 115.8h0M497.9 111.8h0M507.6 115.9h0M496.9 118h0M502.8 112.8h0M505 114.9h0M493.1 112.1h0M503.3 119.9h0M505.7 118h0M496.9 114.5h0M496.4 114.1h0M508.4 117.1h0M494.7 112.9h0M510.9 119h0M496.7 118h0M502.3 109.9h0M501.1 119.7h0M499.7 114.7h0M505.6 117.1h0M499.3 117h0M492.5 114.4h0M493 116.4h0M505.7 114.9h0M502.5 113.1h0M496.5 109.8h0M504.1 114h0M500.8 118.7h0M491.9 118.2h0M492.5 117.4h0M493.2 115.9h0M509.6 111.2h0M503.2 113.7h0M496.7 112.3h0M507 112.4h0M504 114.2h0M501.1 112.4h0M498.2 115.4h0M506.5 112.2h0M503.2 117.3h0M504.2 116.9h0M490.2 114.2h0M494.2 113.8h0M507.2 113.8h0M511.1 114.4h0M500.7 115.3h0M503.1 111.6h0M502 115.6h0M508.6 111.5h0M500.8 116.1h0M510.1 119.1h0M497.1 113.8h0M509.8 118.4h0M500.7 114.4h0M503.4 110.3h0M494.2 114h0M492.6 115.5h0M500.2 113.5h0M500.8 110.6h0M511.6 116.7h0M500.7 115.2h0M507.3 115.2h0M502.5 111.9h0M506.9 112.1h0M506.6 111h0M505.5 113.2h0M497.3 113.9h0M501.5 115.1h0M490.5 112.1h0M502.1 113.3h0M501.6 111.2h0M492.8 113.3h0M499.8 119h0M513.5 115.1h0M499.6 114.9h0M502.2 118.5h0M499.9 115.3h0M491.8 117.6h0M502.4 118.3h0M493.1 120.6h0M506 118.1h0M494.9 115.3h0M501 109.8h0M498.6 111.5h0M504.4 112.9h0M510.4 113.3h0M506.5 113.5h0M501.8 113.8h0M496.2 117.3h0M489.3 115.3h0M501.1 118.1h0M502.7 114.8h0M515.8 116.4h0M495 110h0M501.3 111.3h0M493.3 117.7h0M510.1 113.2h0M502.9 118.9h0M514.1 116.7h0M509.8 114.8h0M500.7 115h0M501 112.7h0M521.1 115.3h0M500.2 114.8h0M510 118.3h0M500.2 113.3h0M502 109.7h0M510.8 118.7h0M500.8 113.4h0M502.1 114.3h0M505.8 113.8h0M502.5 114.1h0M506.3 116.1h0M496.8 117.9h0M501.1 112.4h0M498.2 110.9h0M506.7 118.3h0M508.4 120h0M508.9 114.4h0M497.5 113.1h0M505.1 112h0M507.2 116.5h0M493.7 116.8h0M508 120.1h0M517.6 113.6h0M491 114h0M491.2 119.5h0M501.7 117.2h0M509.1 114.2h0M501.8 110.1h0M493.6 110.6h0M499.1 117h0M498.8 115.8h0M494.9 115.2h0M513.6 113h0M507 113h0M498.1 119.4h0M503.7 120.1h0M500.1 111.5h0M508.4 115.6h0M490.2 120.4h0M510.2 115.3h0M500.9 112.3h0M498.3 112.9h0M493.4 110.7h0M514.4 113h0M508.9 114.2h0M503.2 118.6h0M495.1 111.4h0M508 112.1h0M497 116h0M503.7 116.2h0M509 111.4h0M509.4 111.4h0M495.6 116h0M514 119.5h0M512.9 113.6h0M517.8 114.1h0M512.9 119.2h0M507.3 119.1h0M496 110.3h0M498 112.9h0M509.7 115h0M494.4 116.3h0M509.8 114.7h0M504.2 117.9h0M502 118.8h0M498 115.6h0M512.3 115.9h0M489.5 114.6h0M511.3 115.6h0M504 117.4h0M497.6 118.6h0M500.7 116.8h0M489.6 112.4h0M511.6 114.2h0M493.7 117.1h0M492.5 112.7h0M506.6 116.8h0M503.8 111.4h0M504.2 116.9h0M505.4 118.9h0M501.9 117.3h0M498.9 113.8h0M499.3 113.6h0M510.5 113.1h0M496.4 115.9h0M510.5 120.4h0M499.6 116.6h0M489.5 113.5h0M507.5 116.3h0M509.5 113.4h0M509.5 112.7h0M499 116.9h0M507.5 113.3h0M506.8 109.4h0M500.4 111.7h0M490.7 115.8h0M503.5 118.4h0M502.2 120.6h0M496.6 112.5h0M501.9 115.3h0M504.5 117.8h0M505.8 118.9h0M505.6 112.7h0M500.4 114h0M496.6 118.7h0M496.7 113.3h0M505.4 110.4h0M506.2 119.6h0M489.6 112.5h0M503.2 116.4h0M492.8 118.1h0M500.1 115.6h0M508.1 114.5h0M508.9 111.9h0M504 113.7h0M494.6 120.4h0M501.9 115.7h0M492 118h0M495.5 113.8h0M510.7 109.9h0M509.6 114.4h0M507.8 119.3h0M501.1 119.5h0M495.1 115h0M511.3 116h0M495 113.6h0M503 116.1h0M492.6 109.6h0M497.4 114.3h0M506.4 109.1h0M505.7 117h0M490.2 112.9h0M511.6 114.8h0M500.1 119.8h0M503.2 110.3h0M498.4 118.8h0M517.8 111.3h0M499.1 114.6h0M503.8 110.9h0M509.3 118h0M498.5 111.5h0M514.2 120.3h0M505.4 114.1h0M502.7 112h0M503.5 115h0M508 114.1h0M495.5 119h0M497.6 115.1h0M506.9 115.9h0M501.5 120.6h0M497.9 114.2h0M496.4 112.6h0M504.5 110.2h0M501.7 113.8h0M504.9 111.8h0M495.5 112h0M504.7 114.5h0M495.9 114.3h0M500.9 115h0M496.5 118.2h0M505.8 112.5h0M494.9 110.4h0M492.6 115.3h0M503.8 110h0M493.1 113.8h0M503.7 115h0M495.7 110.6h0M498.7 109.5h0M503.6 115h0M503.6 113.4h0M490.7 112.4h0M509.2 112.4h0M504.7 111.2h0M510.2 114.5h0M514.9 115.4h0M496.9 116.3h0M504.1 117.5h0M503.9 109.9h0M492.2 115.3h0M505.9 115.1h0M504.5 116.6h0M501.6 116h0M492.9 115.2h0M500.7 117.5h0M505.3 117.1h0M502.7 118.3h0M491.9 116.2h0M500.9 118h0M510.2 111.4h0M501 118.3h0M505.4 110h0M493.4 115.8h0M491.6 116.2h0M505.4 117.9h0M498.9 114.9h0M501.8 120.6h0M490.7 112.7h0M499.6 111.9h0M495.9 118.7h0M499.5 115.5h0M489.2 117.5h0M504.4 117.7h0M498.8 112.5h0M507.4 110h0M499.8 112.8h0M502.1 118.9h0M510.7 116h0M496 112.5h0M503.5 118.9h0M501.6 113h0M495.9 115.4h0M496.3 115.1h0M510.2 111.9h0M498.3 109.8h0M502.2 109.8h0M498.8 114.5h0M502.8 110h0M519 109.3h0M505.2 109.3h0M502.6 110.5h0M497.8 109.1h0M500.3 116.7h0M496.7 116.4h0M507 113.1h0M506.8 118.8h0M499.2 117.2h0M505.3 114.1h0M497.1 116.9h0M491.9 115.9h0M499.8 112.9h0M516 112.7h0M495.9 114.6h0M509.7 115.8h0M497.8 114.4h0M505.2 115.4h0M495.9 111h0M494.1 113.9h0M497.9 111.4h0M511.5 117.2h0M496.8 119.7h0M512.7 117.5h0M502.9 120h0M505.8 116.2h0M494.8 111.9h0M499.8 112.7h0M496.5 113.8h0M500.3 110.3h0M493.8 110.7h0M498.5 113.8h0M491.4 112.4h0M502.4 110.2h0M509.6 110.3h0M505.1 119.1h0M501.2 120.6h0M516.4 110.6h0M507.8 115.7h0M494.8 111.8h0M502.8 118.7h0M499.8 112.9h0M508.9 117.8h0M499.3 113.5h0M501.2 113.5h0M503.2 119.7h0M504.5 115.2h0M500.7 111.5h0M491.7 120.9h0M493.3 112.5h0M499.8 113.1h0M507.2 114.4h0M506.3 116.5h0M494 116.5h0M501.9 111.9h0M505.3 110.5h0M508.6 110.4h0M500.2 119.3h0M515.5 109.5h0M492.4 113.2h0M493 113.4h0M504.7 111.9h0M492.1 115.6h0M500.1 116h0M491.9 109.5h0M492.6 112.3h0M503.4 112.2h0M509.4 119.3h0M494 116.7h0M501.9 119.6h0M501.2 112.3h0M496 114.5h0M505.4 120.2h0M506.8 115.1h0M505.7 111.1h0M506.7 112.8h0M512.2 112.3h0M503.5 118.7h0M502.1 115.3h0M493.7 109.4h0M503.6 116.6h0M501.6 116.5h0M504.8 118.2h0M509.8 114.7h0M501.4 117h0M497.2 113.7h0M493 116.7h0M490.1 111.9h0M499.6 120.1h0M500.1 113.1h0M489.1 119.9h0M492.9 117.2h0M506.7 119.9h0M512.8 113.3h0M511 115.6h0M489.1 112.5h0M501.6 111.6h0M502.9 115.7h0M501.8 110.4h0M499.1 115.3h0M502.7 117.2h0M494.2 116.7h0M498.3 111.1h0M493.3 113.5h0M502.2 116.6h0M510.8 115h0M503 117.9h0M507.4 120.7h0M503.2 115.8h0M490.5 112.8h0M496 115.7h0M504.2 114.3h0M502.2 117h0M498.6 120.1h0M509.9 112.5h0M496.5 116.8h0M509.3 115.5h0M503.3 120.7h0M513.4 113.8h0M493.2 110h0M499.8 116.6h0M504.8 120.1h0M502.7 116.1h0M507.4 117.2h0M498.6 109.3h0M505.1 117.4h0M508.5 120.9h0M495.7 114h0M507 111.4h0M498.5 111h0M499 111.4h0M505.5 118.1h0M498.4 110.6h0M501.4 112.3h0M496.5 120.8h0M510 118.4h0M506.2 118.9h0M492.4 117h0M516.1 114.6h0M494.1 119.9h0M498.7 114.4h0M511 111.9h0M507.5 115.3h0M500.7 119.3h0M506.8 114.5h0M513.1 118.8h0M490.7 112.8h0M498.1 112.7h0M508 118.4h0M506.6 118h0M504.9 117.5h0M497.8 115.1h0M501 118h0M492.4 119.5h0M501.8 117.7h0M509.1 115.7h0M501.2 116.8h0M496.4 118.2h0M508.7 112.5h0M490.3 113.7h0M491.8 114.4h0M503.4 112.9h0M498.5 111.9h0M493.5 110.6h0M495.9 111.2h0M495.6 118h0M504.1 119.2h0M498.4 115.3h0M505.7 110.2h0M507.1 113.6h0M498.1 115.9h0M501.8 117.9h0M512.2 115.9h0M504.6 115.5h0M499.3 115.6h0M502 111.6h0M498.8 119.5h0M499.6 116.9h0M499.5 118.7h0M495.7 118.2h0M501.1 119.7h0M492.6 118.5h0M497.3 118.6h0M502.6 117h0M499.6 110.5h0M497.3 116.7h0M489.3 114h0M512.9 114.5h0M501.4 115.9h0M500.7 112.4h0M496.5 112.9h0M495.8 116.8h0M497.9 112.9h0M497.6 110.6h0M497.5 114.2h0M494.5 119.7h0M494.9 110.1h0M508.2 116.8h0M499 113.5h0M502 109.9h0M496.5 113.6h0M495.4 114.4h0M495.5 119h0M496.4 117.5h0M499.8 113.2h0M493.9 118.7h0M504.6 117.3h0M514.4 113.8h0M500.5 116.8h0M503.1 114.7h0M498.7 116.8h0M499.6 120.6h0M494.9 113.5h0M501 119h0M501.1 113.3h0M505.6 114.3h0M500.7 114.2h0M520.9 116.7h0M514.5 112.2h0M503 112.5h0M491.8 114.9h0M509.4 112.8h0M510.2 115.6h0M493.4 111h0M510.1 119.1h0M507.2 116.5h0M497.9 117h0M504.3 111.8h0M510 112.4h0M490 115.1h0M500.7 115.9h0M493.2 113.2h0M502.9 110.3h0M494.1 114h0M500.9 119.7h0M496 114.9h0M501.3 112.2h0M502 117.9h0M506.2 113.8h0M494.7 116.5h0M503.8 110.3h0M499.5 120.7h0M497 113.9h0M508.9 113.8h0M496.4 119.8h0M500.5 114.9h0M511 119.2h0M502.9 119.8h0M494 115.1h0M504.7 111.9h0M503 118.6h0M499.8 118.4h0M496 119.4h0M506.8 114.4h0M504.7 112h0M498.2 111.1h0M497.3 113h0M493.3 115.2h0M498.2 118.5h0M495.5 113.2h0M494 111.6h0M512.7 110.6h0M491.8 109.5h0M506.9 115h0M510.3 117.4h0M496.5 112.6h0M505.8 117.6h0M508.8 115.4h0M498.5 120.7h0M495.1 114.6h0M516.3 109.6h0M518.1 111.6h0M491.5 118h0M508.5 109.9h0M500.4 118.1h0M500.2 117.7h0M493.8 118.5h0M498.9 113.4h0M500.2 110.8h0M499.8 119.6h0M502.3 113.8h0M508.8 115h0M506.3 110.8h0M495 109.5h0M490 113.4h0M508.1 115.8h0M500 117.2h0M505.7 113.9h0M508.5 111.2h0M516.5 113.4h0M502.6 111.6h0M490.8 115.2h0M494.2 118h0M506.2 120.8h0M500.8 117h0M502.9 116.9h0M495.8 110.1h0M503.7 116.1h0M502.2 112.2h0M502.5 116.6h0M500.5 116.9h0M503.6 116.5h0M499.5 116.8h0M495.1 114.4h0M504.7 117h0M492.8 112.3h0M505.9 111.7h0M510.6 117.1h0M498.2 117.6h0M512.4 117.5h0M502.7 120.6h0M501.8 113.8h0M500.2 109.7h0M504.2 109.9h0M493 113.4h0M499.1 116.6h0M513.2 120h0M494.7 114.8h0M506.5 120.3h0M492.7 110h0M510 113.1h0M503.1 117.3h0M511.2 113.4h0M510.6 113.7h0M499.9 118.6h0M511.4 114h0M513.5 118.3h0M500.2 117.4h0M511.3 114h0M505.2 118.3h0M501.8 118.6h0M503.4 113.5h0M505.9 119.9h0M508.1 114.2h0M496.9 111.2h0M501.7 117.8h0M504.6 115.1h0M502.7 118.1h0M496.8 113.7h0M514.3 110.8h0M494.6 113.1h0M501.5 115.3h0M505.1 112.2h0M504.6 116.9h0M491.7 110.5h0M506.2 114.6h0M495.1 119.4h0M512.5 118.7h0M497.9 111.9h0M512.4 119.8h0M496.2 113.4h0M505.1 117.1h0M503.8 114.9h0M500 120.8h0M499.7 113.2h0M506.7 111.9h0M502.6 109.4h0M492.5 116.1h0M499.5 115.2h0M505.7 112.6h0M496 117.6h0M494.9 111.4h0M496.8 116h0M502.3 115.2h0M509.1 109.3h0M500.8 118.6h0M494.7 112.1h0M494.9 115.1h0M500.6 111.8h0M493.7 115.8h0M500.6 113.2h0M502.7 119.3h0M508.5 115.3h0M494.2 114.7h0M511.2 112h0M490.5 117.5h0M497.9 114h0M507.4 114.9h0M490.4 113.2h0M497.5 115.3h0M505.6 109.5h0M499.4 114.2h0M507.4 112.6h0M503.2 113.2h0M498.8 110.9h0M502.3 109.9h0M507.9 118.2h0M499.1 110.9h0M509 114h0M491.6 113.6h0M499.4 113.7h0M514.7 115.1h0M495 110.7h0M504.6 112.2h0M512.9 111.7h0M504.9 119.8h0M498 112.4h0M508.9 116.5h0M503.7 116.9h0M507.3 119.9h0M502.6 111.5h0M502.7 119.6h0M498 116.8h0M501.3 116h0M501.3 119.3h0M512.1 116.2h0M498.1 112.6h0M499.9 111.9h0M510.6 113.8h0M498 115.7h0M505.1 110.5h0M500.9 115.5h0M513 114.7h0M499.6 112.1h0M493.8 117.3h0M515.1 111.2h0M496.3 112.3h0M493.1 114.2h0M495.5 115.5h0M499.1 117.4h0M498.2 117.4h0M494.4 113.7h0M515.4 111.9h0M497.4 119h0M496.7 114.8h0M496 116h0M512.7 116h0M500.2 114.8h0M499.8 120.9h0M511.3 119.8h0M492.8 120.4h0M509.4 115.4h0M509.5 120.6h0M504.5 116.6h0M490.9 114.4h0M498.8 111.6h0M490.3 117.6h0M502.3 112.9h0M496.5 116.6h0M505.5 117.8h0M505.6 118h0M491.7 117.1h0M511.2 116h0M499.1 110.9h0M502.7 114.7h0M497.9 117.8h0M507.1 115.2h0M492.3 110.8h0M490.4 117.9h0M494.5 113.1h0M498.1 115.7h0M498.9 114.6h0M505.2 113.6h0M497.4 116.5h0M496.6 117.7h0M496.9 111.8h0M514.9 114h0M501.7 119.4h0M500.1 117.3h0M498.6 111.3h0M501 115.8h0M496.2 117.2h0M503.4 115.3h0M504.2 117.9h0M498.6 114.5h0M501.1 116.9h0M517.1 113.6h0M506.3 112.7h0M504.2 116.2h0M506.5 111.6h0M500.5 115.2h0M491.3 115.7h0M495.7 114.8h0M498.8 119.1h0M493.2 115.9h0M499.2 116.5h0M496.8 116.1h0M501.8 109.7h0M506.6 109.8h0M497.3 115.4h0M498.3 117.3h0M501.5 116.9h0M506.8 109.4h0M493.7 115.1h0M509.7 119.2h0M499.4 112.3h0M500.6 110.6h0M499 116.7h0M506.4 115.9h0M499.7 113h0M507.1 111.3h0M503.6 111h0M505.9 119.6h0M500.4 117.9h0M496.7 120.1h0M510 113.5h0M495.8 115.1h0M494.2 117h0M501.3 115.4h0M504.1 118.7h0M509.4 117.6h0M491.1 112.5h0M496.6 120.4h0M511.1 117.3h0M505.4 112.3h0M511.7 120.1h0M506 119.1h0M505.2 113.3h0M489.6 118.2h0M506.4 118.2h0M495.5 112.5h0M510.8 113.9h0M489.7 116.5h0M489.9 110h0M524.8 114h0M505 118.5h0M493.1 115.5h0M497.4 110.2h0M498.7 110.4h0M506.7 112.1h0M506.1 116.3h0M506.9 109.3h0M491.2 110.3h0M500.9 117.8h0M515.7 116.9h0M496.9 116.7h0M490.9 118.7h0M495 112.3h0M500.1 112.8h0M512.3 110.9h0M514.3 119.4h0M492.5 120.5h0M492.5 117.1h0M512.6 110.2h0M501.6 114.9h0M501.3 112.6h0M493.1 112.6h0M496.3 117.8h0M491.1 115.9h0M506.6 109.8h0M499.1 113.6h0M506.2 110.1h0M508 116.7h0M504.5 109.4h0M491.4 117.3h0M507.7 109.5h0M499.1 119.5h0M505.5 116.2h0M499.2 116.8h0M502.4 117.4h0M493 111.2h0M511.1 114.6h0M501.9 115.7h0M490.1 112.3h0M508.2 114.9h0M506.5 113.6h0M513 116.1h0M501.8 118.4h0M511.1 112.8h0M497.1 117.7h0M508 114.1h0M495.6 114.9h0M502.7 119.1h0M497.5 112.8h0M514 115.6h0M505 113.4h0M508.8 120.3h0M494.6 112.8h0M506.5 113.2h0M492.9 109.6h0M508.9 118.6h0M495.5 109.9h0M497 111.3h0M492.6 112.3h0M494.1 115.2h0M508.3 115.9h0M508 109.8h0M505.4 120.7h0M499.4 118.5h0M500.1 109.1h0M504.5 114.8h0M512.5 111.8h0M507.3 113.5h0M502.7 111.2h0M502.4 110h0M498.2 114.8h0M506.4 113.3h0M515.5 110.6h0M494.8 118h0M496.4 114.5h0M498 110.8h0M500 116.9h0M495.7 113.9h0M505.4 118.6h0M498.2 113.7h0M489.3 109.5h0M506 117.3h0M511 114.4h0M494.1 116.2h0M509.6 115.6h0M495.6 113.4h0M511.7 111.6h0M496.5 111.2h0M497.5 116.3h0M491.7 118.3h0M501.6 116.9h0M497.8 118.6h0M500.4 115.2h0M494.1 117.7h0M492.4 110.1h0M518.3 113.6h0M497.5 115.1h0M489.6 116.3h0M494.8 119.3h0M489.1 117.4h0M500.9 117.6h0M499.6 112.7h0M499.2 115.6h0M507 114.4h0M505.7 119.3h0M507.3 118.6h0M515.2 120.7h0M503.1 113.5h0M493.4 111.2h0M490.5 111.3h0M505.1 115.8h0M497.5 115.2h0M496.1 117.1h0M508.6 112.2h0M500.8 113h0M504.9 115.7h0M503.2 117.3h0M509.5 119.9h0M495.7 116.5h0M495.5 115.7h0M493.7 113.5h0M504.8 110.8h0M499.6 112h0M505.9 113.3h0M502.3 119.2h0M506.3 112h0M503.2 120.4h0M498.6 114.4h0M499.2 113.4h0M499.6 118.8h0M494.9 113.8h0M514.6 118.7h0M501.9 113.4h0M503.5 114.5h0M497 109.2h0M506.9 117.3h0M490 114.6h0M490.9 118h0M501.2 120.7h0M510.8 111.9h0M510.6 112.9h0M503.5 117.3h0M512.6 117.6h0M506.5 115.1h0M497.2 119.4h0M503.2 111h0M492.1 110.6h0M490 113h0"/><path fill="none" stroke="#f00" stroke-width="2.0" stroke-linecap="round" d="M469.9 99.2h0M475.3 98.6h0M464.7 107.1h0M476.1 107.4h0M467.3 106h0M457.1 107.9h0M472.1 107.1h0M478.8 104.2h0M471.7 101h0M463.2 104.8h0M465.3 97.2h0M457.7 87.4h0M467.2 102h0M460.8 108.2h0M464 92.1h0M458.4 107.1h0M463.8 107.8h0M471.2 98.8h0M471.9 100.1h0M463.4 105.9h0M459.8 104.4h0M458.6 105.8h0M473.2 104.3h0M467.9 106h0M464.8 99.2h0M473.7 106h0M470.8 108h0M457.2 106.2h0M469.4 99.6h0M459 99.7h0M466.9 104.8h0M462.3 106.9h0M482.2 105.2h0M468.4 106.7h0M460 107.2h0M468 97.6h0M464.4 99.4h0M470.1 106.3h0M465.9 107.1h0M458.1 107.7h0M467.6 98.5h0M470.4 107.9h0M477 99.3h0M474.6 105.5h0M476.8 106.6h0M478.4 106.2h0M464.5 107.3h0M465.2 86.2h0M475.6 107.7h0M458.2 107.6h0M470.7 104.5h0M467.9 108.1h0M464.8 104.3h0M469.9 106.2h0M464.9 107.5h0M471.5 97.3h0M456.5 101.7h0M473.4 105h0M474.1 106.1h0M458.8 104.6h0M463.2 107.1h0M455.9 105.2h0M469.6 103.9h0M460.8 101h0M468.4 97.1h0M475.8 104h0M466.5 95.9h0M463.5 106.1h0M458.8 104.5h0M479.2 92.8h0M463.4 104.4h0M475.3 98.7h0M469.3 97.5h0M463.3 108.4h0M472.2 106.8h0M459.2 102.8h0M471.3 107.6h0M457.6 103.1h0M471.1 102.3h0M479.9 108.4h0M470 105.6h0M475.6 106.4h0M466 107.9h0M469.6 94.9h0M466.5 97.5h0M475 100.2h0M463.1 107.2h0M461.9 104.4h0M475.3 105.6h0M457.7 104.5h0M467.4 87.3h0M474.3 100.7h0M468.3 104.8h0M467 106.7h0M461.7 105.5h0M463.7 105.3h0M463.8 105.8h0M471.1 93.4h0M471.6 108.2h0M467 96.9h0M472.8 107h0M482.4 99.4h0M466.9 103.6h0M467.7 104.4h0M470.6 108.2h0M474.7 106h0M473.4 103.9h0M460.4 99.1h0M464 100.9h0M455.9 106.8h0M478.6 102.3h0M465.4 107.7h0M463.1 104.4h0M466.3 104.8h0M469.1 103.9h0M466.9 106.3h0M472.1 103.4h0M471.8 100.6h0M472.8 106.1h0M460.7 94.4h0M462.9 107.1h0M457.5 105.1h0M469.8 90.7h0M474.5 106h0M470.5 108.3h0M468.1 102.3h0M477.4 97.8h0M462.5 102.8h0M469.4 103.6h0M478.4 106.7h0M471.7 107.6h0M470.6 103h0M470.2 106.7h0M469.3 108.2h0M469.6 92.8h0M456.9 101.9h0M480.1 107.9h0M467 107.7h0M460.8 93.8h0M468 103.1h0M462.8 108.3h0M480.1 108.2h0M467.9 103.4h0M476.2 107.2h0M473 100.8h0M461.9 100.3h0M459.5 102.2h0M480.8 107.9h0M463.6 103.2h0M475.9 108h0M475.8 104.9h0M478.5 98.7h0M469.6 107.5h0M465.7 104.3h0M467.4 97.7h0M481.1 106h0M465.2 103.1h0M463.1 104.6h0M473.1 108.2h0M457.4 102.7h0M468 102.2h0M465.9 100.3h0M470.3 100.3h0M465 102.5h0M465.4 106.5h0M452.2 103.2h0M474.1 102.5h0M473.4 94.8h0M468.5 96.7h0M467.4 107.9h0M473 105.7h0M467.1 108.3h0M480.9 98.2h0M470.9 100h0M445.2 105.7h0M475.9 107.2h0M471 102.4h0M471.2 106.1h0M461.4 104h0M462.3 98.7h0M467.1 95.6h0M454.3 103.5h0M465.4 94.3h0M475.1 107h0M476.5 106.4h0M470.6 106.7h0M473.7 102.3h0M465.4 101.1h0M465.3 103.5h0M462.3 107.4h0M481.1 102.3h0M461.8 105.9h0M469.4 102.5h0M461.5 97h0M469.2 108.2h0M455.7 105.2h0M472 100.6h0M459.7 96.8h0M462.6 104.8h0M464.6 102.1h0M481.9 107h0M471.8 89.7h0M456 101.8h0M470.4 101.5h0M462.3 104.7h0M465.8 106.4h0M472.4 105.1h0M466.4 105.4h0M463.5 107.9h0M463 104.8h0M471.4 107.6h0M461.8 105.8h0M455 105.7h0M474.3 106.1h0M469 104.4h0M450.6 106.1h0M466.2 108.2h0M460.2 102.4h0M467.2 104.4h0M463.5 107.7h0M459.6 108.3h0M471.2 93.5h0M466.9 101.9h0M460.2 101.6h0M476.3 98.5h0M477.2 102.5h0M469.6 103.4h0M464.4 107h0M473.1 106.8h0M464 100.9h0M460.6 101.2h0M466.8 93.2h0M475.7 102h0M460.8 99.8h0M472.5 103.8h0M466.8 107h0M479.8 97h0M463.1 93.6h0M468.4 102.2h0M473.4 108h0M457.1 107.7h0M465.6 104.6h0M458.7 95.9h0M453.7 99.3h0M460.8 105h0M469.7 106.2h0M456.9 105.9h0M466.3 107.4h0M479.4 108.2h0M475.7 108h0M473.5 103.2h0M474.5 105.9h0M465.2 107.8h0M475.1 106.4h0M471.6 107.8h0M462.5 108.3h0M460 106.5h0M463 97.2h0M476.4 107.3h0M478.9 105.4h0M481.2 107.6h0M465.4 101.8h0M469.1 105.8h0M468.2 108.3h0M470.5 102.3h0M469.4 105.7h0M466.2 106.5h0M468 105.2h0M468.5 101.7h0M467.3 102.5h0M470.3 96.9h0M476.2 107.8h0M475.2 105.1h0M469.1 99.9h0M454.5 107.9h0M466.7 106.7h0M476.7 103.8h0M463.6 106.8h0M465.7 99.7h0M482 99.9h0M464.6 107.7h0M450 104.7h0M468.5 88.8h0M473.3 100.4h0M472.7 104.1h0M460.9 106.9h0M469.9 107.7h0M466.1 104.9h0M462.6 103.7h0M480.5 108.3h0M466.7 108.2h0M467.1 108.2h0M474 102.6h0M467.1 92.1h0M466.3 101.9h0M478.4 103.7h0M465.4 107.5h0M462.9 104.3h0M478.8 108.2h0M470.7 107.8h0M475.5 108h0M461.3 107.9h0M469.2 105.2h0M461.8 102.7h0M475.2 103.3h0M459.9 106.4h0M472.4 103.6h0M458.2 107.6h0M472.4 94h0M467.6 108.3h0M466.4 106.8h0M467.8 99.5h0M469.4 105h0M466.3 107h0M474.2 102.8h0M466.9 107h0M473.5 105.1h0M465.8 99.2h0M461.4 107.1h0M471.9 106.1h0M479.9 107.4h0M460.3 97h0M466.9 100.7h0M474.2 105.3h0M464.7 104.9h0M461.3 105.6h0M463.4 105.1h0M469 99.2h0M465.5 103.8h0M463.5 106.3h0M455.6 107.9h0M459.7 108h0M462.9 104.8h0M474.6 106.6h0M459.5 103.6h0M464.8 104.4h0M470.3 104.9h0M459.8 104.3h0M464.7 99.1h0M452.9 102.7h0M471.6 104.2h0M463.2 108h0M480.3 104h0M475 106.2h0M472 107.3h0M463.4 103.6h0M468.6 105.4h0M471.8 97.3h0M451.1 107.4h0M460.3 102.9h0M471.8 97.4h0M463.1 105.1h0M477.2 106.8h0M464.7 107.9h0M466.2 104.8h0M470.7 101.7h0M471.5 98.8h0M474 106.5h0M466.6 97.2h0M461.5 102.8h0M477 105.3h0M466.9 95.6h0M465.9 108.2h0M463.3 103.5h0M459.4 102.3h0M457.2 103.1h0M474 98.3h0M469.6 106.2h0M470 98.7h0M466.1 106.1h0M467.3 98.7h0M469.1 102.5h0M458.3 98.2h0M459.7 106.5h0M482 105h0M468.3 97.1h0M475.4 107.8h0M467.1 107.6h0M464.4 99.1h0M461.3 93.8h0M474.3 106.5h0M470.4 102.5h0M455.5 106.5h0M473.8 98.8h0M466 97.9h0M471.4 108.2h0M463.5 100.1h0M477.6 104.7h0M465.7 107.2h0M466.2 105.9h0M461.5 102.8h0M473.5 105.1h0M462.4 93.2h0M461.5 108.1h0M466.5 105.7h0M472.1 108.4h0M470.7 103.2h0M468.5 97.2h0M467.2 105.6h0M463.2 105.6h0M458.4 107.6h0M470.9 105.2h0M470.4 92.9h0M457.1 94.2h0M465.8 107.2h0M465.4 106.4h0M467.6 100.8h0M470.2 105.4h0M467.7 106.8h0M472 108h0M455.3 102.4h0M462.2 105.3h0M469.8 103.5h0M480 108.4h0M469.5 102.9h0M474 99.1h0M463.7 100.5h0M463.9 105.6h0M465.5 107.4h0M475.3 107.1h0M457.2 106h0M469.8 92.8h0M476.1 100.5h0M479.8 98.1h0M469 106.3h0M476.9 93.9h0M462.8 99.4h0M470.2 108.2h0M466.3 108h0M462.2 104.7h0M473.6 100.1h0M471.8 104.7h0M462.7 107.8h0M463.5 107.1h0M468.8 107.5h0M466.8 105.4h0M466.6 103.9h0M462.1 108.2h0M459 104.3h0M466 106.2h0M469.8 99.7h0M453.3 106.2h0M470.2 101h0M464.1 101.2h0M460.1 103.8h0M460.7 100.1h0M465.6 108.1h0M475.5 107.4h0M471.9 104.3h0M459.8 105.8h0M471.6 89.8h0M465.9 101.3h0M464.7 104.1h0M471.4 102.3h0M473.6 108.3h0M457.6 108.3h0M474 107.5h0M473.2 104.5h0M464.8 107h0M472.2 106h0M456.8 98.1h0M457.1 106.4h0M473.5 105.9h0M452.5 103.8h0M455.6 107.2h0M457.9 101.7h0M472.5 94.5h0M457.5 104.5h0M481.7 106h0M476.4 105.7h0M476.1 105.3h0M464.6 107.3h0M473.1 107h0M467.6 104.9h0M455 106.9h0M466.8 107.6h0M460.2 105h0M452.2 102.8h0M464.3 98.6h0M468.3 95.2h0M460.2 104.1h0M469.7 103h0M470.5 98.5h0M463.5 98.6h0M470.6 93.7h0M472.3 108.2h0M461.1 91.2h0M472.7 100.9h0M467.6 95.3h0M477.4 108.1h0M470.1 108.3h0M479.5 107.7h0M461.6 91h0M460.5 90.6h0M480.6 107.3h0M457.7 105.2h0M471.1 107.7h0M457.4 100.2h0M466.1 107.2h0M462.6 104.3h0M472.6 101.3h0M468.1 106.2h0M467 101.4h0M450.8 105.8h0M470.1 100.8h0M464.9 102.5h0M457.5 108.1h0M479.3 100.5h0M457 104.8h0M452.3 104.2h0M477.9 106.7h0M461.8 103.3h0M463.7 90.5h0M470.5 96h0M474.3 97h0M460.3 104.6h0M467.4 102.7h0M456.7 102.1h0M469.8 102.3h0M469.5 105.1h0M466.3 105.9h0M470.4 106.2h0M472.5 106h0M464.8 104.8h0M465.8 106.6h0M465.1 102.1h0M472.1 106.1h0M468.3 107.4h0M473.9 106.7h0M466.7 99.2h0M461.8 99.2h0M482 102h0M471.6 104.9h0M471.5 102.1h0M470.1 94.6h0M462 107.5h0M465.5 102.1h0M457.7 98.8h0M468.4 107.9h0M459.5 106.5h0M472.6 107.8h0M461.7 108h0M463.9 105.5h0M459.1 104.5h0M475.6 106.4h0M470 107.2h0M480 105.8h0M479.2 105.6h0M473 101.5h0M474.4 104.6h0M466.6 107.1h0M467 103.9h0M471.8 105.6h0M455.6 106.8h0M473.7 102h0M472.8 106.7h0M470.1 108.2h0M474.3 105.3h0M471.3 96.2h0M465.3 106.4h0M468.4 107.8h0M466.6 93.4h0M463.8 105.4h0M475.5 106.6h0M467.5 104.7h0M453.5 106.8h0M467.5 102.3h0M471.3 106.8h0M467 107.3h0M463.8 107.4h0M470.1 103.9h0M468.9 105.6h0M472.5 102.6h0M462.5 105.6h0M478.1 102.8h0M478.2 105.5h0M465 108h0M469.1 92.4h0M458.2 107.4h0M477.1 105.5h0M458.2 94.3h0M470.8 108h0M463.4 102h0M465.8 107.6h0M471.5 106.5h0M470.2 107.3h0M456.4 106h0M473.9 106.3h0M453.7 106.5h0M478.2 105h0M467.2 107.8h0M453.5 103.3h0M458.9 107.3h0M466.6 107.7h0M471.3 95.5h0M458 103.1h0M460.9 106.3h0M466.9 102.6h0M461.1 99.2h0M467.4 103.4h0M460.1 101.5h0M461.1 104.9h0M466.9 103.9h0M480.7 106.6h0M469.9 107.7h0M470.4 105.7h0M482 106.6h0M465.9 103h0M466 105.2h0M452.5 107.3h0M457.5 105h0M462.4 102.1h0M471 101.9h0M475.3 107.9h0M467.3 102.5h0M462.5 104.4h0M461.7 104.6h0M475.6 106.8h0M465.8 101.5h0M464.5 105.9h0M464.2 106.4h0M461.2 99.7h0M457.1 105.1h0M452.8 99.9h0M465.4 97.9h0M475.6 107.5h0M473.9 108.3h0M473.3 102.6h0M460.5 107h0M456.8 101.6h0M457.2 101.3h0M475 106.9h0M471.7 107.7h0M470.3 93.4h0M471.6 107.1h0M470 107.2h0M472.9 106.7h0M468.4 102.7h0M470.8 107.4h0M462.8 99.5h0M475.6 107.4h0M472.1 102.8h0M476.8 96.8h0M470.9 103.4h0M462.8 108.1h0M475.8 103.7h0M465.8 102h0M459.5 99.2h0M466.6 101.9h0M464.9 91.4h0M471.5 107h0M456.1 99.5h0M469 108h0M472.9 107.3h0M479 96h0M466.2 98h0M476.3 103.9h0M468.6 105.1h0M472.6 106.8h0M465.9 102.9h0M465.5 100.2h0M466.8 104h0M463.3 97.1h0M472 107.2h0M472 100h0M470.1 103.6h0M468.6 95.8h0M466 105.1h0M471.8 101.5h0M476.3 105.6h0M468.2 108.3h0M459.1 100h0M465.4 93.9h0M470 105h0M462.9 107.3h0M454.6 107.6h0M460.4 101.9h0M475.9 104.5h0M473.5 104.4h0M473.3 104.8h0M460.9 105.1h0M472.2 91.5h0M461 103.6h0M470.4 108.1h0M476.2 106.4h0M467.6 106.7h0M471.4 93.1h0M465.5 101.9h0M465.2 101.7h0M472.3 97.3h0M471.9 103.7h0M463.1 108.3h0M460.6 107.6h0M471.3 102.6h0M468.6 106h0M469.4 104h0M466.5 101.8h0M469.4 104.9h0M479.9 100.8h0M470.5 103h0M476.7 126.7h0M459.9 121.9h0M459.5 122.3h0M474.8 124.3h0M464 124.8h0M466.2 124.3h0M459 124.3h0M466.1 123.7h0M468.7 130.1h0M476.7 123.6h0M465.9 123.6h0M463.5 121.8h0M475 123.2h0M476.5 126h0M474.5 132h0M467.9 122.9h0M458.1 129.1h0M467.3 127.5h0M474.5 125.8h0M471.5 131.4h0M470.1 128.3h0M456.9 124.5h0M468.7 122.4h0M466.5 132.9h0M460.3 123.1h0M462.5 128.8h0M471.2 123.6h0M470.9 124.7h0M464.9 123h0M467 122.7h0M468.4 130.5h0M475.2 123.1h0M471 128.2h0M447.5 125.6h0M458.6 136.2h0M463.1 135h0M476.7 127.7h0M472.2 123h0M475.8 124.7h0M459.5 121.8h0M462.3 123.7h0M464.9 128.6h0M468.3 125h0M469.1 123.5h0M473.9 127h0M470.6 122.2h0M477.7 126h0M461.7 124.1h0M470.6 125.1h0M481.9 122.9h0M463.9 123.2h0M469.2 121.6h0M478.8 126.3h0M463.7 125.9h0M469.2 138h0M467 126.9h0M464.7 125.5h0M471.8 137.8h0M460.2 123.1h0M476.4 122.7h0M464.3 123.6h0M471.9 122.1h0M464.4 123.1h0M470.3 128.9h0M467.3 136.5h0M478.3 124.5h0M464.2 122.8h0M469.5 128.2h0M471.9 127.2h0M475.9 128.8h0M465 123.9h0M478.2 129.2h0M457.3 122.1h0M465.7 123.2h0M462.2 130.2h0M460.5 124h0M465.8 137.1h0M471.7 130.7h0M459.6 122.6h0M467.8 136.1h0M451.3 123h0M463.7 127.1h0M462.7 129.2h0M469.5 124h0M477.8 125.9h0M467 121.7h0M462.6 125.6h0M467 131h0M476.8 123.6h0M468 122.4h0M463 127.2h0M463.6 125.9h0M473.2 136.4h0M466.3 125.1h0M473.7 123.8h0M461.1 123.8h0M458.1 134.1h0M465.7 128.3h0M459.5 122.1h0M471.9 129.9h0M467.2 122.1h0M468.5 128.9h0M468.1 126.9h0M473.3 123.6h0M467.4 125.6h0M466.7 133.4h0M476.3 122.2h0M473.4 122.7h0M474.9 134.6h0M473 126.7h0M480.7 123.3h0M472.3 123.3h0M467 126.8h0M466.8 122.3h0M468 137.3h0M468.4 128.8h0M462.5 125.8h0M461.9 122.9h0M456.6 121.8h0M464.7 128.5h0M479.2 127.2h0M480 122.4h0M471.2 123.6h0M469.2 126.5h0M463.2 123.1h0M464.4 134.8h0M469.4 125.3h0M473.8 123.1h0M469.1 131h0M467.6 129.8h0M467.9 125.9h0M463.7 132h0M462 129.4h0M478.7 122h0M465.8 125h0M469.5 130.5h0M455.8 122.5h0M462 123.5h0M464.4 125.5h0M472.5 123.3h0M473.8 129h0M469.9 121.9h0M469.2 126.8h0M473.4 129.8h0M474.9 122.2h0M472.5 121.8h0M473.3 125.9h0M464.1 135.7h0M470.3 129.8h0M469.2 130.3h0M463 130.8h0M473.6 122.2h0M472.6 124.3h0M473.3 121.8h0M458.7 126.3h0M473 124.5h0M474 133.2h0M478.2 125.1h0M471 136h0M472.3 130.8h0M477 122.5h0M471.7 123h0M475.4 125.3h0M462.7 129.2h0M471.8 125.1h0M474.9 124h0M478.7 124.9h0M475.3 126.9h0M453.1 122.8h0M467.7 124.1h0M468.9 124.9h0M465.4 122.9h0M459.4 127.2h0M471.4 126.3h0M464.9 122.8h0M469.9 129.5h0M478.6 126.4h0M472.3 127.2h0M460.6 123.2h0M466.8 123.9h0M469.3 128.1h0M469.6 129.2h0M468.1 123.2h0M466.4 125.1h0M454.7 128.1h0M466 123.8h0M473.5 126h0M473.2 131.4h0M472 123.6h0M475.8 125.2h0M472.8 122.5h0M469.5 124.6h0M476.4 127.8h0M469.8 124.3h0M463.3 129.8h0M459.4 123.3h0M473.8 129.8h0M472.4 127.3h0M477.1 122.8h0M458.4 123.3h0M468.2 121.6h0M459 130h0M463.7 125.2h0M467.3 121.6h0M463.8 138.8h0M472.6 123.8h0M472.9 131.8h0M470.1 128.3h0M465.7 124.2h0M476.2 132.1h0M460.7 122.6h0M465.5 125.1h0M478 125.2h0M464.4 124h0M476.5 123h0M463.7 131.7h0M473.7 125.2h0M469.4 122.1h0M465.6 125.3h0M468.5 137.6h0M469.8 128h0M460.2 122.6h0M462.4 123.6h0M464.1 127.7h0M474.6 124h0M462.4 124.3h0M467.2 123.2h0M468.5 127.8h0M452.6 123.3h0M477.7 128h0M468.8 126.7h0M474 124.7h0M471.1 124.7h0M468.5 128.8h0M467.2 129.9h0M469.9 125.1h0M470.2 127.5h0M448.7 124.9h0M472.9 122.9h0M467.8 133h0M474.3 121.7h0M473.7 137.4h0M467.9 129.1h0M466.8 124.3h0M480.8 123.2h0M466 124.8h0M465 123.9h0M460.1 123.9h0M462.7 127.9h0M463.3 127.2h0M470 130.5h0M470 122.9h0M471.7 125.5h0M466.5 125h0M459 127.7h0M451.7 124.2h0M464.6 122.2h0M459.7 124h0M470.7 128h0M466.7 122.5h0M469.7 123.1h0M473.1 122.5h0M470.2 123h0M464.8 122h0M471.1 125.4h0M461 131.1h0M471.5 131.7h0M464 125.2h0M469.2 124.1h0M474.2 122.3h0M464.4 137.6h0M477.9 122.2h0M455.7 126.1h0M468.4 126.7h0M467.9 123.1h0M468.6 123.9h0M460 125.4h0M472.3 121.7h0M453.1 122h0M472.9 122.6h0M462.8 126.5h0M457.9 129.4h0M463.2 122h0M460.4 123.3h0M467.8 124.6h0M465.8 123.1h0M469.1 125.8h0M466.3 123.4h0M464.4 133.3h0M458.3 126.6h0M477.9 123.3h0M460.4 127.4h0M468.5 127.5h0M458.1 124h0M472 127.3h0M469.3 122.2h0M462.5 126.1h0M465.9 122h0M472.2 123.7h0M456.5 122.5h0M470.4 125.1h0M470.9 133.3h0M469.9 123.7h0M463.8 121.6h0M469.7 122.7h0M451.7 126.6h0M462.7 128.2h0M460.6 125.3h0M470.7 135h0M476.9 121.6h0M474.3 126.5h0M464.9 134.7h0M458.3 131.4h0M469.3 124.9h0M459.9 123.8h0M468 131.1h0M466.3 128.2h0M472.8 132.1h0M466.9 123.6h0M466.8 124.1h0M452.8 121.6h0M467.8 126.7h0M466.9 127.5h0M460.1 123h0M471.5 124h0M472.6 122.6h0M466.7 129.3h0M470.3 124.3h0M458.5 122.8h0M469.9 122.4h0M476.8 127h0M475.2 123.5h0M469.2 133.9h0M473 121.7h0M457.9 121.9h0M479.9 121.7h0M471.5 129.4h0M473.7 138.4h0M478.6 121.9h0M475.6 123.7h0M477.2 123.4h0M463.2 132.6h0M465.9 130.1h0M467.8 122.9h0M469.4 124.3h0M463.6 122.4h0M460.8 124.9h0M474.2 128.4h0M466.5 125h0M462.6 122.9h0M469.4 126.6h0M465.6 125.4h0M459.2 123h0M474.3 125.7h0M459.6 124h0M465.3 131.8h0M472.9 122.4h0M466.3 128h0M453.9 122.9h0M459.9 123.6h0M455.6 123.1h0M461.5 125.3h0M460.5 126.7h0M473.7 132.4h0M466.1 133.6h0M472.3 123.9h0M459.2 121.9h0M475.3 132.6h0M464.6 127.4h0M462.8 122.9h0M470 123h0M470.7 124.3h0M471.6 130.7h0M463 131h0M475.4 124.1h0M459.7 129.6h0M473.9 122h0M467.7 127.7h0M460.4 125.2h0M468.8 125.8h0M463.6 134.7h0M474.3 121.9h0M467.1 131.9h0M473.4 126.8h0M461.6 126.3h0M477.3 126.2h0M467.2 124h0M475.9 122.2h0M470.2 129.7h0M462.9 124.7h0M466.7 122.4h0M475.3 133.5h0M465.3 123.1h0M466.7 126.4h0M457.4 122.1h0M469.4 126.7h0M459.4 124h0M461.1 129.9h0M468 122.9h0M460.9 124.7h0M480.2 128.1h0M461.8 134.4h0M467.3 124h0M471.1 127.5h0M463.7 125.5h0M474.6 122.7h0M472.6 122.5h0M458.1 128.2h0M465.7 122.7h0M479.8 122.5h0M458 124.9h0M468.6 124.2h0M475.9 122.6h0M473.4 139.3h0M463.7 124.2h0M469.2 130.3h0M459.1 129.3h0M472.8 127.1h0M471 122.6h0M470.7 130.6h0M469.1 124.8h0M478.3 124.7h0M458.8 121.8h0M461.3 127.4h0M459.7 124.4h0M475 127.6h0M456.5 123.2h0M465.1 124.8h0M459 130.3h0M464.1 124.8h0M465.8 125.7h0M465.8 124.1h0M474.4 127.6h0M468.8 124.3h0M476.2 122.6h0M469.2 130.4h0M467 124.1h0M462 124.2h0M471.8 134.4h0M474.3 125.7h0M467.4 127.7h0M448.2 127.7h0M459.2 121.9h0M463.7 125.9h0M466.8 133h0M471.1 122h0M461.7 131h0M472.3 124.1h0M471.4 133h0M470.1 132.4h0M468 123.4h0M480.1 123h0M464.9 121.9h0M469.4 124.2h0M464.1 139.6h0M473.9 121.8h0M462.2 125.9h0M471.4 125.1h0M466.5 127.6h0M472.6 122.2h0M470.8 127.5h0M457.6 125.6h0M466.8 122h0M473.8 122.9h0M467.4 123.5h0M461.7 122.8h0M465.9 123.2h0M462.6 131.6h0M472.4 121.9h0M457.1 135.8h0M463.3 121.7h0M476 130.5h0M474.2 125.9h0M458 123.7h0M477.5 131.4h0M460 121.9h0M475.7 126h0M461.6 123.1h0M478.1 125.6h0M461.4 138.6h0M463.2 125.5h0M469.8 121.7h0M460.7 127.7h0M471.1 122.4h0M459.3 139h0M459.3 131.6h0M465.7 122.1h0M476.4 126.2h0M466.7 134.4h0M475.6 122.1h0M471 122.2h0M471.2 128.5h0M460.4 122h0M474.6 121.6h0M455.7 125.4h0M468.4 122.2h0M471 126.1h0M463.6 131.5h0M471.2 125.1h0M476 122.7h0M466.4 124.4h0M452 128.1h0M457.3 123.1h0M472.1 123.9h0M459.7 121.9h0M471.8 128.8h0M458.1 123.7h0M463.1 122.5h0M478.9 122.5h0M474.1 136.9h0M463.5 128h0M471.6 125.3h0M461.8 122.5h0M472.7 123.3h0M458.6 127.1h0M471.3 134.2h0M462.7 125.5h0M462.4 126.2h0M482.1 128h0M464.8 124.5h0M470 156h0M468 156h0M499 106.4h0M510.9 101.2h0M499.1 106h0M504 98.5h0M508 100.9h0M516.6 108.2h0M503.7 104.7h0M499 102.3h0M506.8 96.3h0M503.1 76.3h0M507.7 89.6h0M492.6 99.1h0M498 106.3h0M507.5 90.9h0M496.2 106.4h0M500.5 102.4h0M495.9 101.1h0M491.3 105h0M492.2 101.1h0M497 104.5h0M507.4 99.8h0M493 107.2h0M513.4 107.6h0M492.6 105.7h0M501.5 107.4h0M511.2 102.7h0M509.9 100.1h0M493.3 106.6h0M494.2 98.9h0M508.5 107.4h0M503.4 101.8h0M511.5 107.6h0M494.9 106.2h0M504.8 104.7h0M503.9 101.2h0M505.3 105.3h0M504.5 97.3h0M510.8 106.1h0M493.3 107.4h0M506.7 104.2h0M498.9 80.7h0M506.1 106.3h0M500.1 99.9h0M503.9 108.1h0M491.6 104.8h0M495.2 108.4h0M503.6 106.6h0M494.7 100.3h0M497.6 105h0M494 101.1h0M498 102.5h0M491.4 99.8h0M512.7 104.3h0M510 106.7h0M499.3 100.3h0M492.7 106.2h0M502.4 104.9h0M500.1 94.2h0M505.1 105.2h0M495.5 101.4h0M510.8 100.9h0M491.9 106.3h0M519.5 107.8h0M499.4 101.3h0M496.6 96.9h0M501 106.9h0M501.4 96.7h0M505.4 103.5h0M498 81.8h0M499.9 105h0M504.6 106.1h0M497.5 108.2h0M489.7 106.6h0M500.8 94.4h0M499.4 104.4h0M496.4 107.2h0M503.1 96.8h0M501 97.5h0M494.6 102.2h0M510.6 104.1h0M498.2 99h0M501.7 107h0M503.5 86.2h0M505.1 98.2h0M493.8 96.6h0M500.2 107.5h0M504.9 101.1h0M506.6 105.2h0M499.2 106.1h0M491 94.4h0M498.9 105.3h0M513.1 107h0M505.3 103.5h0M511.8 107.5h0M503.4 103.7h0M498.2 102.5h0M500.7 104.7h0M493.7 108.2h0M499.3 104.3h0M507.8 105h0M498.3 100.6h0M506.7 102.9h0M497.4 98.5h0M507.8 107.9h0M495.8 92.8h0M493.4 107.6h0M509.3 105.8h0M496 103.4h0M496.6 97.5h0M496.3 105.4h0M502.1 91.7h0M489.8 97.7h0M498.3 105.5h0M492.8 104.6h0M511.2 102.5h0M503.3 82.9h0M504.7 104h0M506.1 101.3h0M494 103.8h0M491.9 95.5h0M490 99.5h0M493.6 105.4h0M494.5 90.6h0M505.6 107.6h0M496.7 106.2h0M501.6 105.8h0M508 104.5h0M494.2 107.7h0M503.2 99.3h0M491.3 102.6h0M495.3 107.7h0M499 104.7h0M501.3 94.8h0M501.4 92.4h0M500 93h0M496.4 108h0M500 96.5h0M492.2 104.2h0M507.2 106.9h0M510.4 99.5h0M499 106.7h0M495.5 105.4h0M512.7 108h0M494.1 106.8h0M507.2 106.9h0M503.6 88h0M509.7 105.6h0M493.1 103h0M501.4 104.1h0M508.8 100.2h0M499.8 96.7h0M499.6 105.9h0M493.9 87.1h0M500.5 104.6h0M500.7 105.3h0M501.4 104.7h0M506.3 107.6h0M509 106.4h0M495.7 104.3h0M493.9 106.8h0M504.5 84.5h0M490.4 103.5h0M507.7 98.1h0M496.8 102.6h0M500.8 100.8h0M500.8 82.3h0M507.9 93.7h0M499.8 97.4h0M506.6 104.4h0M497.5 99.4h0M504 107.4h0M507.1 103.4h0M497.5 96.6h0M495.6 98.8h0M517.2 105.4h0M489.7 97.2h0M500.4 104.1h0M514.6 105.8h0M510.8 103.8h0M500.6 92.7h0M499.8 105.6h0M505.9 103h0M497 103.2h0M502.2 93h0M499.9 83.9h0M507.7 105.3h0M498.1 94.3h0M494.1 96h0M503.6 100.4h0M493.2 105.6h0M489.7 103.4h0M518.6 108.4h0M508 103.3h0M495 99.6h0M495.9 105.4h0M496.9 107.7h0M501 105.4h0M502.5 91.3h0M497.4 102.1h0M496.2 107.8h0M497.2 83.7h0M515 101.5h0M490.4 104.6h0M500.1 105.7h0M499.5 78.5h0M504.4 108h0M502.5 107h0M500.5 99.3h0M506.2 108.3h0M509.3 106.6h0M507.4 95.6h0M511.8 107.6h0M490.1 103.4h0M508.5 102.5h0M512.7 107.1h0M510.6 100h0M507 99.4h0M498.8 91.5h0M504.2 104.2h0M490.9 107.1h0M504.8 106.4h0M500.7 106.4h0M514.5 106.5h0M502.7 97.1h0M504.6 104.8h0M495.9 103.4h0M494.3 100.6h0M490.1 103h0M513.7 107.2h0M502.4 104.8h0M505.5 105.2h0M511.5 107.3h0M506.5 106.4h0M503.4 94.9h0M506.1 105h0M504 99.9h0M507.7 104.2h0M501.4 105.6h0M498 108.3h0M501.4 102.4h0M501.2 108h0M510.2 95.8h0M491.4 101.7h0M504.4 105.5h0M510.6 101.6h0M506.6 108.3h0M503.2 99.2h0M499.1 101.6h0M500.6 108.2h0M502 95.5h0M496 102.7h0M490.5 101.4h0M504.5 98.3h0M507.5 103.3h0M508.8 105.1h0M505.8 98.8h0M497.2 86.4h0M495.9 97.9h0M499.5 108h0M504.4 91.1h0M500.5 104h0M513.1 105.2h0M500.5 107.8h0M498.2 107.9h0M496.7 103.6h0M502.3 106.2h0M499.9 103.7h0M509.4 104.1h0M504.7 108.3h0M503.7 106.3h0M509.3 94.7h0M494.8 102.3h0M500.2 104.2h0M510.2 106.1h0M503.4 85h0M502.6 102.1h0M509.4 107.7h0M504 97.4h0M496.3 85.9h0M500.4 91.6h0M506 102h0M503.4 101.2h0M501.2 86.6h0M502.9 108.3h0M504.6 92.9h0M504.2 90.6h0M507.9 105.1h0M507.7 104.2h0M496.9 99.1h0M489.7 107.4h0M494 99.2h0M503.4 100h0M517.4 106.4h0M508 107.9h0M494.1 106.1h0M517.1 108.3h0M501.3 107.5h0M518.9 105.5h0M520.2 108.2h0M497.2 102.5h0M495.3 98.3h0M498 105.7h0M504.6 107.2h0M498.2 87.3h0M501 102.4h0M507.2 105.5h0M504.6 106.3h0M500.1 92.4h0M505.8 103.8h0M497 84.3h0M494.5 100.4h0M505.3 104.5h0M496.9 100.1h0M502.9 107.8h0M497.5 103h0M498.7 107.9h0M492.2 101.8h0M504.4 108.1h0M496.4 86.8h0M494 100.6h0M497.9 103h0M508.3 101.4h0M492 101.6h0M498.7 105h0M493.9 102.4h0M494.3 108.3h0M491 108.4h0M494.1 105.3h0M501.5 101.2h0M509.6 107.1h0M507.3 104.1h0M499.9 108.4h0M501.5 106.1h0M490.6 106.5h0M506.1 94.3h0M492.2 99.5h0M497.5 105.3h0M493.4 108h0M508.7 96.6h0M491.8 104.9h0M507.7 107h0M517.2 103h0M489.9 106.4h0M495.2 95.2h0M494.4 105.6h0M500.5 100.3h0M493.6 90h0M505.6 106.9h0M507.1 89.2h0M491.9 105.6h0M507.6 101.2h0M502.8 94.7h0M501.6 92.6h0M501.8 107.2h0M507.5 96.6h0M502.1 98.3h0M508.3 102.3h0M499.4 98.7h0M493.4 106h0M520 108h0M505.3 97.6h0M496.7 106.1h0M504.4 99h0M512.1 108.3h0M499.5 99.5h0M501.4 99.1h0M500 106.4h0M508.2 100.3h0M498.6 98.3h0M495.4 105.4h0M504.4 97.6h0M503.1 93.5h0M506.7 103.1h0M503.4 83.9h0M504.5 105.8h0M496.7 100.9h0M502.9 99.4h0M499.8 102.7h0M500.6 107.5h0M502.4 77.1h0M492.2 103.2h0M497.5 90.2h0M498.5 105.9h0M489.6 102.6h0M506.3 105.3h0M495.4 102.3h0M504.6 90.4h0M491.9 107h0M502.3 104.1h0M518.2 107.4h0M507.1 106.6h0M491.4 107.8h0M499.6 100.2h0M502.4 106.9h0M497.7 107.2h0M494.1 98.5h0M492.2 101.5h0M489.3 105.5h0M499.2 91h0M503.7 76.7h0M503.5 106.9h0M514.8 108.3h0M509 103.8h0M507.3 107.9h0M504.9 96.6h0M493.3 102.1h0M501.6 90.9h0M505.8 105.7h0M490 92h0M500.4 89.5h0M495.8 105.5h0M503.7 93h0M510.9 106.7h0M501.7 104.7h0M501.3 108.3h0M506.4 94.2h0M496.8 103.9h0M500.6 92.8h0M504.2 107h0M513 105.6h0M513.5 105.4h0M491.8 95.6h0M504.4 100.3h0M496.6 88.7h0M508.7 107.8h0M512.5 107.4h0M496.9 105.2h0M504.1 106.6h0M512.5 101.8h0M499.5 98.1h0M509.5 103.8h0M509.6 105.8h0M501.7 97.4h0M502.4 105.7h0M498.6 108.4h0M505.7 107.3h0M508 104.3h0M515.3 104.5h0M508.6 97.1h0M509.3 107h0M504 102.2h0M492.7 99.5h0M502.4 94.3h0M504 100h0M500.1 106.9h0M498.3 92.3h0M496.8 107.4h0M502.6 97.4h0M497.7 105.2h0M501.9 106.1h0M514.2 108h0M493.8 105.2h0M504.3 103.8h0M497.9 102.6h0M502.2 107.2h0M516.7 100.6h0M499.9 92.5h0M502.2 100.1h0M498.7 104.6h0M503.3 99h0M506.4 99.9h0M496.8 96.6h0M504.7 99.5h0M507.5 95.1h0M502.2 95.5h0M509.8 102.6h0M492.2 106.9h0M501.3 79.5h0M518.7 108.1h0M504.1 104.7h0M496 108.1h0M495 86.4h0M499.4 99.4h0M498.1 108.2h0M499.6 105.4h0M500 106.9h0M500.4 106.2h0M501.1 101.4h0M499.7 102h0M505.7 99.4h0M508.5 107.4h0M491.4 105.3h0M498 100.2h0M503.8 93.4h0M500.5 104.8h0M506.3 95.9h0M504.4 83.5h0M497.1 107.7h0M507.2 104h0M505.2 107.4h0M489.8 106.4h0M509.2 102.8h0M509.1 98.3h0M491.6 104.4h0M500.2 105.5h0M494.4 99.7h0M512.1 107.5h0M495.2 93h0M515.2 106.5h0M495.1 87.5h0M493.2 105.9h0M507.2 99.6h0M509.9 104.2h0M499.2 101.6h0M496.8 103.2h0M517.7 106.3h0M501.8 105.3h0M502.7 107.3h0M506.2 108h0M500.6 80.8h0M499.8 105.1h0M506.6 108.1h0M509.2 107.3h0M496.5 107.6h0M498.9 100.9h0M499.8 106.7h0M500.1 103.7h0M495 99.1h0M497.6 106.8h0M499.3 101.2h0M498.8 108h0M500 108.1h0M492.3 104.6h0M502.8 100.7h0M506 107.5h0M500.1 103.9h0M498.8 92.3h0M489.9 105.9h0M495.8 102.1h0M511.4 106.6h0M498.6 87h0M505.1 96.8h0M493.5 97.2h0M497.3 96.2h0M500 99.9h0M497.2 107h0M500.1 92.5h0M495.6 107.1h0M506.6 100.2h0M494.6 99.6h0M492 107.3h0M505.9 104.4h0M509.8 95.6h0M505.9 99.6h0M509.3 107h0M501.6 105.8h0M494.3 103.2h0M506.8 106h0M493.3 106.2h0M490.8 105.4h0M501.3 105.8h0M505.6 103.4h0M501.8 108h0M511.3 106.3h0M510.8 102.7h0M492.4 102.2h0M507.1 101.9h0M495.6 107.7h0M493.9 86.6h0M518.8 106.3h0M507.6 106.8h0M506.1 102.4h0M497.5 108.2h0M515.8 107.8h0M512.2 108.4h0M504.8 106.3h0M494.9 105h0M498.1 106.9h0M516 108.1h0M499.4 103h0M508.6 96.6h0M498.7 99.6h0M492.7 108.2h0M499.2 102.3h0M498.8 96.8h0M497.4 107.9h0M497.9 103.2h0M496.1 108.4h0M519.6 106h0M501.2 102.1h0M509.3 104.5h0M493.9 94.8h0M503.4 81.5h0M497.1 107.4h0M515 108.4h0M509.4 95.6h0M504.1 107.4h0M504.2 94.6h0M499.8 99.8h0M502.3 107.9h0M501.7 100.9h0M508.4 103.4h0M501.9 101.6h0M498.9 101.9h0M492.9 107.5h0M504.1 96h0M496.9 103.1h0M490.2 104h0M494.4 104h0M498.4 83.1h0M512.8 101.9h0M514.1 106.9h0M499.2 90.1h0M509.5 105.5h0M495.6 106.9h0M508.4 106.5h0M491.5 97.7h0M506.4 107.4h0M500.9 100.4h0M496.6 100.9h0M497.4 104.8h0M500.6 108.1h0M494.4 107.1h0M511.4 103.1h0M502.6 107.3h0M514.3 105.7h0M497.5 97.6h0M508.3 103.7h0M497.8 106.1h0M507.1 106.1h0M492.6 107h0M500.9 108h0M500.9 75h0M492.5 106.5h0M493.5 86.1h0M493.3 97.8h0M500.6 104.1h0M493 98.1h0M493.8 105.7h0M508.6 99h0M491.7 94h0M503.7 99.8h0M527.6 107.1h0M499.4 102.5h0M499.2 98h0M510.3 105.5h0M511.9 101h0M501.6 101.9h0M490.1 108h0M495.2 107.3h0M494.2 93.4h0M498.1 101.3h0M500.1 104.1h0M493.5 106.3h0M490.8 107.5h0M495.4 100.9h0M490.9 108.4h0M496.2 104.9h0M509.6 104.3h0M499.7 106.7h0M516.8 107.5h0M493.2 98.7h0M499.7 107.1h0M508.5 108.3h0M494.8 106.7h0M499.7 95.4h0M499.6 105.1h0M494.1 100.9h0M501.7 106.3h0M497.4 103.4h0M498.4 107.9h0M514.4 100.2h0M491 102.5h0M501.8 105.6h0M496.9 104.3h0M508.4 93.5h0M516.8 105.2h0M502.6 103.2h0M510.3 103.2h0M497.7 96.6h0M492.6 104.7h0M500.4 102.6h0M496.4 93.7h0M504.4 107.8h0M508.1 107.2h0M502.5 96.8h0M502 102.7h0M510.7 107.1h0M519.2 99.8h0M499.1 91.7h0M489.1 106.4h0M506.8 101.7h0M503.6 96.1h0M510.1 103.4h0M498.4 105.6h0M494.3 91.5h0M510.5 107h0M495.2 107.5h0M520.2 103.3h0M493.4 107.2h0M509.3 103.6h0M496.4 108.1h0M502 103.8h0M497.3 104.9h0M494.1 102.2h0M505.7 104.1h0M498.1 103.3h0M502.1 104.9h0M502.7 94.9h0M489.7 108.1h0M513 104.3h0M510.7 105h0M506.2 104.2h0M500.5 108.1h0M496.7 105h0M493 107h0M512.3 106.4h0M510 106.5h0M519.7 108h0M504.4 91.3h0M500.9 91h0M496.5 108h0M504.7 91.7h0M503.7 107.8h0M505.9 95.5h0M502.1 91.7h0M504 107.3h0M499.8 107.1h0M503.5 100.4h0M496.7 97.6h0M489.9 104.7h0M503.6 98h0M495.8 105h0M507.7 103.8h0M495.4 107.4h0M500.9 103.3h0M499.1 107h0M497.8 98.1h0M504.8 104h0M520.6 103.7h0M490.5 99.1h0M499.2 105.2h0M499.7 97h0M505.7 105.8h0M499.6 107.4h0M497.4 98.5h0M495 97.8h0M508.6 108.3h0M507.2 102.4h0M509.8 102.4h0M521.4 104h0M492.4 102.2h0M501.1 104.5h0M498.7 105.1h0M489.6 100.9h0M502.6 107h0M500.7 88.5h0M507.5 107h0M491.3 108.2h0M494.8 100.6h0M505.8 100.6h0M499.3 107.3h0M496.5 98.1h0M497.4 107.5h0M512.5 102.8h0M504.3 98.7h0M508.5 96h0M500.2 102.1h0M497.2 95.3h0M493.8 100.8h0M502.2 95.2h0M504.1 107h0M494.1 93.9h0M493.4 100h0M513.8 101.3h0M498.3 76.6h0M504.3 105.7h0M498.2 101.3h0M512.5 103.8h0M498.1 89.9h0M496.2 107.3h0M494.7 104.7h0M501.7 105.4h0M514.6 104h0M492.5 100.4h0M497.4 107.4h0M499.9 106.3h0M508.6 103.1h0M503.6 107.9h0M505.9 107.4h0M499.8 106.9h0M506.9 99.6h0M500.4 96.1h0M500.8 93.1h0M493.6 105.7h0M504.4 93h0M496 98.3h0M493.3 104.4h0M499 106h0M493.5 105.1h0M507.7 107.6h0M507.3 103.2h0M491.2 106h0M490.1 103.7h0M504.2 104.6h0M502.1 104.2h0M495.8 104.9h0M492.6 107.8h0M500.5 107.4h0M493.8 80.1h0M506.3 99.8h0M505.2 105.8h0M502.8 101.7h0M498.6 106.9h0M502.4 107.8h0M504.5 108.4h0M500.4 108.1h0M498.2 100.3h0M498.8 94.5h0M503.2 93.7h0M494.3 106.4h0M505.4 100.8h0M515 105.3h0M494.5 105.8h0M509.5 107.4h0M496.8 107.8h0M504.9 101.9h0M507.4 106.5h0M504.7 94.3h0M504.3 89.6h0M498.8 103.6h0M494.5 104.8h0M502.1 94.6h0M502.6 107.5h0M493.5 106.9h0M501.3 88.8h0M502.5 93.2h0M505.2 103.9h0M497.3 89.8h0M496.9 88.4h0M500.6 104.3h0M503.1 108.2h0M504.5 107.5h0M511.3 107.4h0M500 103.7h0M489.6 94.9h0M494.5 96.1h0M509.8 105.4h0M498.5 85.4h0M510.1 98.2h0M499.1 100h0M505.2 107.8h0M494.7 106.2h0M499.2 99.8h0M508 108.1h0M498.9 107.7h0M512.5 102.5h0M500.2 107.1h0M507.4 99.7h0M501.8 93.9h0M496.7 123.3h0M502.9 126.7h0M508.2 123.8h0M491.3 124h0M490.8 124.9h0M498.2 124.7h0M497.1 124.2h0M508.4 127.4h0M500.7 123.5h0M508 128.8h0M495.9 124.3h0M497.9 129.9h0M496.9 124.1h0M509.2 121.9h0M510 122.2h0M509.1 129h0M500 129.5h0M491.7 127.4h0M494.5 128.2h0M505 128.3h0M510.7 121.7h0M498.8 125.4h0M494.2 129.8h0M502.5 124.6h0M497.9 141.3h0M504.2 122.9h0M502.6 124.5h0M495.1 125.8h0M502.6 128.2h0M492.4 122.2h0M503.5 124.2h0M507 130.2h0M498.7 125h0M489.4 122.6h0M501.4 123.9h0M502.3 123h0M501.6 123.2h0M508.7 131.6h0M501.4 133.9h0M497.9 124.8h0M509.1 127.9h0M502 124.6h0M501.9 126.3h0M507.4 123.6h0M509.3 128.3h0M508 125h0M500.9 133.1h0M500 123.8h0M503.7 126h0M502.9 126.7h0M500.3 125.6h0M504.1 122.6h0M505.5 131.6h0M500.1 121.7h0M498.6 134h0M502 128.5h0M495.9 123.3h0M501.7 122.5h0M500.4 125.7h0M510.5 125.8h0M509.5 133.8h0M493.1 125.5h0M503.1 123.4h0M503.1 134.8h0M508.7 126.9h0M501.1 130.5h0M508.7 129.7h0M510.2 122.6h0M489.5 125.2h0M499.3 126.6h0M498.9 132.1h0M500.5 125.8h0M511.3 123.4h0M499.3 133.1h0M498.9 133.5h0M499.6 127.6h0M508.1 132.3h0M505.5 125h0M492 137.1h0M504.3 135.9h0M500.9 128.6h0M505.3 124.1h0M496 129.5h0M502 123.9h0M497.7 122.4h0M493.2 127.7h0M489.3 122.2h0M502.6 138.5h0M505.8 128.9h0M507.8 130.5h0M493.3 129.9h0M493.4 122.1h0M493.2 122h0M510 131.9h0M498.2 121.7h0M507.5 123.1h0M500.5 139.5h0M502.8 130.2h0M493.7 121.8h0M506.4 129.1h0M506.2 123.3h0M508.9 122h0M491.7 121.9h0M496.3 140.6h0M491.5 123h0M508.7 127.6h0M502.3 137h0M492 131.9h0M497.3 125.3h0M513.6 125.8h0M506.8 127.4h0M515.8 124.9h0M503.6 136.6h0M495.8 125.8h0M493.3 121.7h0M499.7 127.8h0M507.8 123.3h0M493 124h0M508.8 121.6h0M495.6 125.1h0M498.9 134.3h0M502.6 126.1h0M502.7 122.8h0M497.4 124.1h0M494.4 129.2h0M496 125h0M500.3 141.1h0M497.5 121.9h0M496.3 123.6h0M508.7 124.4h0M512.8 123h0M498.7 134.5h0M498.6 127.8h0M496.7 131h0M497.8 139.1h0M499 132.5h0M500.1 124.9h0M501.2 140.9h0M505.3 126.5h0M493.5 122.4h0M504.6 137.2h0M503.2 129.3h0M495.6 126.4h0M509.7 123.2h0M497.9 142.8h0M512.7 124.1h0M496.5 125.9h0M508.5 121.8h0M505.1 124.8h0M504.8 123.7h0M507.5 122.7h0M498.4 122.1h0M500.6 122.1h0M506.7 136.4h0M502 128h0M503.1 132.7h0M500.6 130.2h0M512.6 121.7h0M500.6 139.7h0M499.5 126.5h0M500.7 133.8h0M508.2 124.4h0M520.9 126.4h0M493.5 129.9h0M513.6 125h0M501.4 133.9h0M493.1 126.3h0M502.7 138.6h0M498 125.6h0M503.6 124.3h0M494.4 122.9h0M502.5 127h0M501.3 124.1h0M493.8 122.4h0M501.6 125.7h0M499.3 141.6h0M498.9 128.9h0M499.4 137.6h0M499.7 129.6h0M505.2 123.6h0M504.2 122.8h0M492.8 129.2h0M496.3 123.3h0M496.8 129.2h0M499.3 127.2h0M506.4 122.7h0M498 130.3h0M505.5 133.2h0M504.1 129.5h0M495.7 124.8h0M505.1 124.4h0M512.8 127.2h0M504.6 129.8h0M509.3 121.8h0M497.4 132.6h0M499 122.6h0M492.9 127.3h0M496 123.6h0M513.7 126.1h0M504.3 132h0M506.9 125.9h0M503.6 122.7h0M495.1 129h0M508.3 127.9h0M510.9 122.5h0M499.2 128.7h0M494.1 124.9h0M510.5 121.9h0M508.1 125.8h0M490.5 136.9h0M518.7 123.5h0M503.6 125h0M502.6 126.3h0M510.9 124.8h0M498.1 130.7h0M505.7 133.8h0M496.1 130.2h0M505.8 122.6h0M507.8 124.1h0M501.5 130h0M494.7 125.4h0M498.2 122h0M505.1 123h0M514.7 122.8h0M496.9 132.8h0M515.5 123.2h0M501.6 131.1h0M502.8 122.3h0M505.8 125.5h0M490.3 127.9h0M505.9 126.1h0M515.6 128.3h0M498.2 141.4h0M500.9 126.2h0M492.2 131.3h0M493.6 125h0M507.6 134.8h0M501.1 142.9h0M490.7 121.6h0M495 130.8h0M501.7 130.5h0M523.6 122.4h0M495.5 123.7h0M501.5 127.2h0M489.5 126.7h0M498.2 122.8h0M494 124.1h0M496.3 130.7h0M511.5 122.7h0M498.1 139.3h0M497.1 127.5h0M497.8 123.1h0M505 123.3h0M500.1 126h0M505.5 124.6h0M505.9 122.8h0M506.4 126.4h0M495.1 125.3h0M496.9 142h0M506.3 122.9h0M509.2 131.7h0M502.4 136.6h0M505.6 121.7h0M505.4 134.7h0M512.8 124.4h0M500.8 133.3h0M490.5 132h0M502.7 123.7h0M511.3 123.9h0M499.1 126.7h0M501.3 125.1h0M510.9 128.5h0M501.9 134.3h0M497.9 123.8h0M499.7 133.3h0M497.8 131.4h0M496.3 122.1h0M498.6 122.3h0M506.4 141.7h0M511.1 123.1h0M502.7 125.8h0M495.4 130.6h0M499.8 128.7h0M498.7 127.8h0M492.8 128.8h0M495.1 125.3h0M492 126h0M514.6 131.3h0M508.4 122.4h0M500.5 127.3h0M506.7 122.4h0M510.1 125.8h0M504.3 127.2h0M505.9 130.4h0M503.3 123.5h0M501.1 122.7h0M510.4 125.9h0M498.3 140.1h0M505.4 121.8h0M508.6 122.4h0M501.8 131.8h0M504.6 125h0M498.8 131.4h0M505.5 121.8h0M508 137.2h0M504.9 130h0M499.7 123.1h0M500.9 123h0M502.5 130.7h0M497.2 125.2h0M501 127.7h0M497.4 127.4h0M511.8 122.3h0M497.7 129.4h0M506 123.7h0M498.3 128.1h0M499.5 126.9h0M495.3 125.4h0M503.1 128.4h0M503.3 124h0M503.4 130.3h0M507.3 122.1h0M509.9 125.4h0M503.4 125.6h0M502.8 129.1h0M499.3 136.1h0M494.6 122.2h0M506.6 126.2h0M506.2 124.3h0M505.1 126.6h0M502.2 124.2h0M498.5 123.9h0M513.8 125.2h0M503.6 126h0M495.9 131.6h0M494.3 123.9h0M499.5 125.9h0M502 122h0M512.8 131.5h0M500.6 123.4h0M508.5 123.6h0M495.5 131.3h0M504.9 124.6h0M497.1 131.7h0M494.2 131.2h0M492.9 125.6h0M505.4 123.7h0M508.3 127.1h0M495.1 123.4h0M499 127.8h0M503.2 128.9h0M493.1 127.9h0M504.2 133.2h0M509.3 126.3h0M501.4 129.3h0M506.2 121.9h0M490.3 127h0M505.8 127.8h0M492.1 122.1h0M499.8 138.4h0M502.5 123.9h0M500.5 130.5h0M502.4 130.9h0M496.9 125.3h0M500.8 135.9h0M505.7 131.6h0M502.9 139.8h0M504.1 139.8h0M500.3 123.9h0M501.2 127.6h0M501.2 122.1h0M501.8 122.3h0M504 124.8h0M496.4 124.5h0M512.2 127.4h0M501.6 133.9h0M500.9 134.3h0M513.3 122.2h0M501.5 126h0M493.6 122.1h0M501.4 138.4h0M502.8 131.8h0M508 126.7h0M507.3 121.7h0M498.6 121.6h0M497.3 122.3h0M505.8 121.6h0M491.2 125.4h0M509.4 123.1h0M499.3 138h0M498.5 134.5h0M519 124.7h0M507.1 125.6h0M507.4 121.8h0M507.1 121.8h0M497.9 126.6h0M500.3 123.3h0M504.6 133.9h0M493.2 133.5h0M508 126.5h0M502.9 124.6h0M490.6 125.4h0M493 124.3h0M497.6 129.4h0M511.6 122.5h0M504.5 126.5h0M496.7 123.3h0M507.5 122.5h0M501.2 124.7h0M499.4 140.8h0M493.2 121.9h0M490.5 121.7h0M497.7 122.6h0M497.9 133.8h0M507.5 124.6h0M491.1 132.4h0M492 130.4h0M498.2 136h0M515 121.6h0M507.6 128.9h0M504.9 133.5h0M500 128.4h0M500.6 127.2h0M505.1 130.6h0M506.6 124.3h0M519.4 121.7h0M500.5 137h0M489.9 125.9h0M502.8 132.2h0M504.1 136.4h0M492.7 124.2h0M503.5 135.6h0M500.7 125h0M505.8 129.5h0M505.6 122.5h0M511.5 126h0M494.6 123.2h0M500.6 127.9h0M509.8 122.5h0M513.5 123.7h0M496.5 130.6h0M505.4 127.3h0M500.1 135.5h0M496.8 125.4h0M498.7 138.5h0M498.2 134.1h0M494.1 122.1h0M495.4 125.5h0M497.5 125.2h0M497.3 123h0M507.5 124.9h0M506.6 124h0M499.5 136.1h0M501.2 134.8h0M491.8 124.8h0M496.3 122.2h0M500.7 124.3h0M516.7 128.7h0M503.4 123.6h0M508.3 124.1h0M508.3 131.3h0M502.7 126.5h0M495.1 130.2h0M498.7 130.1h0M503.6 125.4h0M497.9 124.7h0M506.2 126.7h0M492 122.2h0M499 124h0M493.7 122.5h0M505.4 121.7h0M494.4 124.7h0M492.1 123.4h0M492 123.5h0M489 126.5h0M497.4 128.4h0M489.6 123.2h0M503.9 123.4h0M489.3 128.4h0M498.6 127.1h0M504.9 129.2h0M497.9 126.6h0M506.9 123.1h0M499.9 123.1h0M494.5 131.7h0M505.5 123.2h0M504.7 129.3h0M489.7 122.8h0M517.1 126.5h0M497.1 124.8h0M502.2 142.4h0M508.2 127.7h0M492.5 133.1h0M503.6 132.4h0M496 123.8h0M500 125.4h0M501.5 131.1h0M503.1 123.4h0M501 130.6h0M497.2 134.2h0M503.8 128.1h0M502.8 123.8h0M496.9 125.6h0M495 138.8h0M498.4 122.5h0M500.7 122h0M490.9 123.3h0M506 131.6h0M505.4 129.7h0M518.5 122.3h0M498.8 122.8h0M498.6 134.5h0M497.6 126h0M510 122.9h0M506 131.1h0M496.2 130.1h0M496.9 126.1h0M504.2 127.4h0M502.6 125.2h0M509.9 123h0M495.6 129.5h0M501.7 143.6h0M507.2 124.6h0M516.8 123.7h0M520.1 124h0M512.9 123.6h0M500.1 144.2h0M503.4 126.4h0M498.2 127.7h0M503.6 126.8h0M500.9 133.9h0M497.1 128.4h0M490.7 128.4h0M506.2 126.3h0M497.4 129.8h0M507.2 121.8h0M489.9 124.1h0M498.4 122.1h0M507.5 124h0M501.7 122.3h0M508.8 125.3h0M502.7 124.2h0M499.8 124.7h0M498.2 126.8h0M509.8 126.3h0M498 128.3h0M504.4 127.3h0M498.3 121.6h0M499.9 129.3h0M497.3 130.1h0M494 134.3h0M502.4 122.1h0M500.6 142h0M511.9 124.7h0M503 134.6h0M494.4 123.6h0M492.3 126.2h0M492.3 122.1h0M505.3 121.7h0M493.3 128.8h0M502.9 122.3h0M492.2 123.5h0M500.7 122.9h0M495.9 123.2h0M506.6 123.5h0M497.6 127h0M513.7 126.2h0M496.7 125.4h0M513.1 123h0M498.5 125h0M489.9 128.6h0M498 127.1h0M495.8 132.4h0M503.7 133.1h0M506.4 134.3h0M491.9 134h0M504.1 125.5h0M504.9 128.6h0M521.5 122.8h0M506.2 129.6h0M495.3 122h0M502 141.4h0M502.8 139.1h0M507.7 134.8h0M489.1 124.8h0M493.1 121.6h0M496.7 123.7h0M507.6 130.7h0M491.3 124.4h0M503.5 125h0M495.3 124h0M498 121.9h0M510.6 126.1h0M498.3 134.9h0M499.5 134h0M504.9 139.3h0M504.2 128.3h0M501 124.6h0M502 126.9h0M510.3 123.3h0M511.2 123.7h0M505.1 141.1h0M507.6 124.6h0M498.5 122.1h0M499.2 127.4h0M511.1 133.6h0M518.6 127.2h0M501.9 129.2h0M504.6 122.4h0M508.8 123.6h0M497.6 133.3h0M507.7 122.5h0M498.4 137.7h0M509.2 123h0M497.5 134.5h0M509.8 133.6h0M504.3 126.3h0M498.1 125.1h0M493.8 123.5h0M494.2 129.8h0M506.3 134.4h0M501.2 125.1h0M492.3 122.5h0M502.3 124.8h0M498.8 124.3h0M500.8 123.2h0M494.4 123.4h0M492.9 123.3h0M507.5 128.3h0M502.3 133.1h0M501.4 128.8h0M507.3 124.7h0M515.4 123.7h0M505 136.5h0M502.9 123.7h0M498.4 124.6h0M505.7 124h0M501.8 135.3h0M498.3 127.6h0M499.9 131.8h0M493.6 123h0M502.9 135.7h0M499.9 123.5h0M512.6 123.9h0M506.5 122.9h0M504.1 122.8h0M510.8 123.4h0M499.4 123.5h0M514.5 122.8h0M497 127.9h0M499.4 126h0M511.8 124.1h0M496.6 127.3h0M504.9 130.7h0M496.4 131.3h0M499.3 126.8h0M498.3 133h0M504.3 122h0M503.3 144.1h0M493.5 124.9h0M512.5 124.6h0M507.1 128.5h0M501 127.4h0M491.6 128.6h0M504.3 125.4h0M501.8 134h0M496.7 122.8h0M495.2 124h0M491.6 122.7h0M500.3 131.3h0M497.6 127.6h0M489.9 125.5h0M499.4 126.6h0M495.3 123.4h0M492.2 131.8h0M497.5 126.5h0M513.3 123h0M504.2 132h0M490 123.5h0M493.7 122.5h0M497.8 142.9h0M509.1 123.6h0M515.8 127.1h0M506.8 129.3h0M510.2 122.6h0M501.9 121.7h0M494.6 126.8h0M495.5 130.3h0M501.8 133.8h0M502.7 124h0M506.4 129.5h0M512.4 122.5h0M510.6 125.7h0M499.6 125.2h0M490.9 124.9h0M504.3 134.4h0M506.7 122.9h0M501 131.9h0M502.8 123.9h0M489.3 128.8h0M502.4 128h0M509.4 130h0M501.3 122.2h0M500.9 125h0M503.2 124.6h0M500.9 138.2h0M509.7 125.2h0M499 137.1h0M517.2 125.2h0M513.2 127.4h0M505.4 127.9h0M502.1 126.5h0M494.7 125.9h0M506.8 123.2h0M491.6 122.9h0M505 125.7h0M502.8 135.5h0M508.1 124.3h0M500 124.9h0M490.5 123.7h0M494.5 156h0M497.5 156h0M500.5 156h0M503.5 156h0M508.5 156h0M500 152h0"/><path fill="none" stroke="#8c8c8c" stroke-width="1.2" stroke-linecap="round" d="M470.7 97.7h0M473.1 98.9h0M468.9 97.5h0M464 93.9h0M461.3 96.8h0M467.6 100.3h0M467.2 102.2h0M466.6 97h0M466.7 87.2h0M463.5 83h0M467.8 100h0M466.6 86.5h0M467.4 101.1h0M467.8 100.8h0M476.3 101.4h0M472.6 101.8h0M472.1 94.7h0M467.7 98.5h0M467.7 92.6h0M473.6 86.8h0M472.1 102h0M465 94.5h0M465.3 86.9h0M464 93.9h0M474.4 100.6h0M470.6 134.3h0M465.5 131.6h0M457.7 128.8h0M470.2 140h0M467.9 133.7h0M466 134.7h0M473.7 127.8h0M464.2 132.2h0M467.5 137.1h0M466.4 133.2h0M469.5 129.6h0M469 140h0M477.2 129.8h0M468.1 129.2h0M469.5 134.2h0M476.1 96.8h0M477.8 103h0M480.9 99.8h0M475.6 90.5h0M464 86.8h0M462.9 90.8h0M471.4 83.8h0M478 99.3h0M465.3 88.7h0M471.4 82h0M466.4 94.5h0M470.1 84.4h0M466.2 92.5h0M459.9 93.4h0M477.2 103.1h0M473.8 102.8h0M469.5 89.1h0M470.2 99.6h0M469.4 99.4h0M479.7 94.1h0M480.7 97h0M466.8 80h0M479.6 85.2h0M479.9 95.9h0M460.5 93h0M475.2 100.6h0M468.4 94.6h0M465.7 79.1h0M479 88h0M471 99.2h0M471.7 141.9h0M476.2 132.8h0M470.9 131.7h0M477.7 133.2h0M469.1 129.4h0M467.1 127.7h0M479.4 128.9h0M467.2 133.7h0M479.9 139.8h0M470.3 136.1h0M501.7 80.6h0M498.9 85h0M499.8 96.9h0M507.7 96.1h0M498.1 99.7h0M507 94.9h0M502.1 84.4h0M506.2 90.7h0M497.8 99.9h0M506.5 88.7h0M505.1 98.1h0M490.8 94.9h0M501.3 74.3h0M500.5 79.5h0M501.3 75.6h0M506.2 94.4h0M498.3 98.1h0M503 97.7h0M498.6 85.4h0M504.3 80.6h0M500.7 74h0M516.3 90.4h0M504.6 79.8h0M500.6 85.3h0M496.7 93.2h0M498.6 87.4h0M498.9 96.8h0M502.7 98.9h0M503.4 95.6h0M494.5 91.6h0M496.8 96h0M500.7 92.9h0M506.6 87.7h0M504.4 87.8h0M499 97.6h0M499.2 90.4h0M499.7 89.5h0M503.2 88.4h0M489.6 93.5h0M494.4 93.1h0M497.6 97.2h0M497.4 90.8h0M500.1 87.7h0M508 93.6h0M496.8 84.2h0M501.4 99.1h0M495.3 99.6h0M508 89.2h0M507.4 99.3h0M498.7 99.3h0M518.8 98h0M496.4 80.4h0M505.8 95.3h0M500.5 85h0M499.9 77.8h0M498.2 141.3h0M498.9 132.5h0M492.7 133.9h0M498.9 130.3h0M505.1 133.2h0M505 131.7h0M502 146h0M512.3 129.1h0M502.4 142.7h0M501.5 135.1h0M508.8 132.2h0M493.4 134.3h0M501.7 128.7h0M501.5 142.9h0M494.7 132.3h0M499.9 135.5h0M503.7 130.2h0M497.5 128.7h0M503.7 140.1h0M506.2 132.8h0M506.9 88.3h0M505.2 83.1h0M500.4 75.7h0M500.8 75.4h0M497.6 99.9h0M513.8 73h0M496.2 84.1h0M507.4 81.3h0M493.3 98h0M493.4 87.1h0M509.1 73h0M511.3 73.7h0M501.6 77.9h0M493.9 85.2h0M501.3 73.9h0M496.7 98.8h0M501.9 90.2h0M497 101.4h0M503 95.6h0M508.5 93.9h0M495.3 90h0M517.8 97.8h0M493.5 102.1h0M506.5 94.9h0M493.1 97.3h0M492.5 86.4h0M495.3 94.7h0M508.8 69.7h0M494.9 74.1h0M496.4 77.1h0M498.6 89.1h0M496.1 89.9h0M495.4 97.4h0M506.4 83.4h0M489.2 80.3h0M506.4 103.6h0M504.6 72.6h0M501.8 94.4h0M515 98.5h0M494.4 88.8h0M506.4 92.9h0M503.4 99.1h0M504.9 95.7h0M497.2 102.4h0M506.8 96.7h0M507.2 71.5h0M503.4 105.1h0M496.4 92.4h0M494.6 102.8h0M496.2 83.3h0M497.7 97.4h0M494 107h0M500.7 91.7h0M496 96.7h0M514.6 102.8h0M507.8 72.4h0M497.8 81.1h0M493.3 79.7h0M495.5 83.2h0M494.9 86.8h0M497.8 139h0M500.7 141.3h0M496 132.8h0M504.7 130.8h0M499.9 124.5h0M500.1 141.6h0M495.5 142.1h0M505.4 130.1h0M496.7 140.5h0M497.6 128.6h0M498.4 144.2h0M499.2 124.9h0M506.1 126.4h0M497.7 143.3h0"/><rect x="429.3" y="47.6" width="116.6" height="135.2" fill="none" stroke="#6e6e6e" stroke-width="1.1"/><line x1="454.3" y1="182.8" x2="454.3" y2="185" stroke="#333" stroke-width="0.8"/><text x="454.3" y="193" font-size="7.9" fill="#4d4d4d" text-anchor="middle">−50</text><line x1="487.5" y1="182.8" x2="487.5" y2="185" stroke="#333" stroke-width="0.8"/><text x="487.5" y="193" font-size="7.9" fill="#4d4d4d" text-anchor="middle">0</text><line x1="520.7" y1="182.8" x2="520.7" y2="185" stroke="#333" stroke-width="0.8"/><text x="520.7" y="193" font-size="7.9" fill="#4d4d4d" text-anchor="middle">50</text><text x="433.1" y="60.3" font-size="9.2" fill="#000" stroke="#000" stroke-width="0.18" textLength="79" lengthAdjust="spacingAndGlyphs"><tspan font-style="italic">cor</tspan> = -0.03, <tspan font-style="italic">P</tspan> &lt; 0.001</text><rect x="550.2" y="33.2" width="116.6" height="14.4" fill="#d9d9d9" stroke="#7a7a7a" stroke-width="0.9"/><text x="608.5" y="43.7" font-size="7.3" fill="#1a1a1a" text-anchor="middle">Upstream</text><rect x="550.2" y="47.6" width="116.6" height="135.2" fill="#fff"/><line x1="550.2" y1="115.4" x2="666.8" y2="115.4" stroke="#000" stroke-width="1"/><line x1="608.6" y1="47.6" x2="608.6" y2="182.8" stroke="#000" stroke-width="1"/><path fill="none" stroke="#8c8c8c" stroke-width="1.2" stroke-linecap="round" d="M581 111.4h0M582.6 107.9h0M594.9 114.5h0M588.3 116h0M575.6 117h0M580.4 119.7h0M595.4 117.7h0M596.9 119h0M577.9 116.4h0M590.6 121h0M576.9 110.1h0M578.7 117.4h0M591.2 117.6h0M596.6 115.4h0M593.6 115.9h0M588.5 112h0M591.4 119.5h0M594.8 110h0M596.1 119.3h0M588.7 116h0M590 118.1h0M588.4 122.2h0M589.4 116.2h0M602.6 114.6h0M588.5 104.7h0M584.4 115.9h0M588.9 116.3h0M599.3 113.4h0M592.9 113.9h0M573 101h0M594.4 118h0M587.3 124.6h0M572.2 113.7h0M589.6 117.4h0M580.8 121.6h0M594.2 117.2h0M582.8 115.9h0M602.7 114.6h0M595.6 112.8h0M600.7 117.5h0M596.8 111h0M586 111.8h0M592.4 115.2h0M597.3 111.9h0M596 114.5h0M604.5 119.1h0M580.7 119.1h0M580.2 111.6h0M592.9 116.4h0M591.3 110.3h0M594.1 110.2h0M596.6 113.6h0M596.2 119.5h0M577.7 115.4h0M593.7 115.6h0M583.8 106.6h0M604.7 111.5h0M593.4 115.4h0M598.5 118.2h0M597.5 116.2h0M592.9 113.3h0M586.8 117.7h0M587.8 113.1h0M586.8 120h0M594.6 113.5h0M593.2 114.4h0M597.5 115.3h0M598.4 113.8h0M572.4 118.7h0M580.7 116h0M595.6 118.6h0M574 118.8h0M586 121.7h0M594.9 114.2h0M584.5 109.9h0M596.7 118.3h0M589.6 112.7h0M595.9 121.1h0M599.8 114.8h0M585.4 119.6h0M595.3 113.4h0M583.4 114.7h0M571.5 106.4h0M595.1 113h0M584.3 115.4h0M603.4 115.4h0M579.8 112.6h0M595.6 111.8h0M589.3 117.7h0M566.5 112.3h0M581.4 110h0M593.3 114.8h0M595.4 114.8h0M597.2 114h0M591 123.4h0M595 111.3h0M596 110.5h0M589 118.3h0M598.1 117.1h0M564.2 113.2h0M585.3 115.9h0M582.6 109h0M594.5 119.4h0M591 115.1h0M595 115.2h0M593 110.3h0M586.9 122.8h0M600.1 110.3h0M587.2 112.1h0M590.9 116.6h0M592.1 104.7h0M599.9 117.2h0M592 116.8h0M585.8 111.9h0M596.9 120.1h0M594.9 113h0M584.7 112.6h0M580.6 114.4h0M596.7 114.7h0M592.4 114.4h0M592.3 115.1h0M588.7 113h0M595.1 112.9h0M590.3 111.3h0M585.6 111.6h0M586.1 118.2h0M595.3 111.5h0M576 121.3h0M581.5 114.1h0M576.4 114.2h0M610.5 114.2h0M629 113.4h0M615.1 114.8h0M625.2 109.4h0M623.3 114.2h0M625.7 122.3h0M617.6 114.5h0M620.6 114.9h0M613.3 113.2h0M637.1 113.3h0M647.6 110.6h0M623.8 120.6h0M635.8 107.7h0M639.7 115.3h0M633.5 119.6h0M622.8 107.8h0M628.2 117.7h0M629.8 116.8h0M610.6 112.1h0M625.5 112.5h0M626 117.2h0M620.7 115.1h0M637.7 111.6h0M634.2 119.3h0M615.1 119.1h0M611.7 120.6h0M621.1 112h0M627.3 111.9h0M623.8 111.1h0M634.5 112.5h0M640.2 107.2h0M635.6 111.7h0M624.8 108.8h0M626 119.3h0M615.8 121.2h0M621.1 111.7h0M623.8 112.8h0M618.7 121.6h0M616.2 117.5h0M628.2 115.3h0M623.8 114.3h0M625.1 113h0M624.1 116.6h0M618.4 112.9h0M610.5 115.8h0M613.8 115.1h0M635.7 118.1h0M621.6 117.5h0M622 118.2h0M619.1 112.6h0M635.8 118.1h0M616.6 113.2h0M610.6 114.4h0M633.2 116.3h0M621.9 115.1h0M622.6 111.2h0M613.5 117.2h0M632.3 116.4h0M620.3 110.9h0M623.5 115h0M643.2 126.7h0M645.6 118.4h0M642.5 113h0M622.5 114.6h0M622.3 114.3h0M619.4 116.8h0M621.3 113.5h0M635.3 112.7h0M625 118.9h0M641.1 114.3h0M624 120.5h0M615.9 119.5h0M615.7 108.6h0M616.2 116.3h0M620.5 118h0M638.4 119.4h0M630 113h0M615.9 112.1h0M614.4 111.6h0M627.3 117.6h0M616.6 112.8h0M619.1 122.6h0M643.2 114.7h0M620.4 121.5h0M625.6 116.2h0M624.5 114.4h0M613.7 118.7h0M617.5 107.7h0M631.5 109.8h0M628.1 110.9h0M627.4 116.4h0M621.2 115.8h0M617.8 120.4h0M610.9 117.7h0M621.5 118.5h0M624.4 114.8h0M612.5 114.5h0M637.1 114.6h0M624.5 114.5h0M642.7 114.9h0M613.1 113.5h0M629.1 122.3h0M635.6 117.6h0M628.4 113.8h0M636.7 115.9h0M616.3 113.8h0M611.8 109.6h0M611.8 118.9h0M610.6 110.7h0M628.9 112.7h0M619.4 117.6h0M620.6 111.1h0M622.7 116.2h0M622.4 114.2h0M619 118.3h0M632.9 120.9h0M615.9 116.5h0M625.1 111.1h0M624.8 114.1h0M621.7 114.8h0M620.6 118.5h0M621.8 115.3h0M633.2 112.2h0M626.8 112.4h0M622.2 115h0M629.9 121h0M625.3 118.5h0M616.4 111.1h0M616.3 116.4h0M625.7 110.9h0M625.4 114.9h0M626.7 116.2h0M623.8 112.7h0M617.6 109.5h0M621.7 113h0M626.5 111.3h0M658.7 117.2h0M620 117.3h0M621.5 116.9h0M613.5 118.1h0M622 119.7h0M626.4 118.4h0M633.9 116.9h0M627.6 113.8h0M626.4 113.3h0M625.8 119.6h0M618.9 108.4h0M619.8 122.9h0M643.1 121.3h0M622.4 114.7h0M614 115.2h0M625.1 108.3h0M624.9 107.6h0M615.4 116.7h0M615.1 115.5h0M625.3 117.7h0M633.6 109.4h0M616.6 114.8h0M621.7 114.3h0M615.1 116.1h0M623.5 112.1h0M635.7 114.1h0M628.5 114.4h0M626.5 117.2h0M613.2 119.5h0M610.7 112.7h0M620.9 112.7h0M649 113.7h0M621.4 114.8h0M619.3 113.8h0M614.6 117.9h0M612 109.7h0M638.1 111.6h0M631.2 121.1h0M612.2 112.6h0M614.7 122h0M625.1 117.9h0M632.8 116.2h0M624.4 119.2h0"/><path fill="none" stroke="#777" stroke-width="1.5" stroke-linecap="round" d="M590.1 118.5h0M589.4 112.6h0M583 114.2h0M588.6 119.9h0M599.6 118.2h0M593.5 113.3h0M586.6 114h0M595.5 115.1h0M598.7 113.7h0M596 115.4h0M595.8 119.1h0M594 120.4h0M595 110.4h0M602.1 116.6h0M584.5 116.8h0M591.2 112.4h0M586.6 112.8h0M597.7 115.5h0M583.8 118.7h0M586.4 115.1h0M587.9 113.5h0M590.4 111.8h0M592.3 114.4h0M586.2 110h0M587.9 117.8h0M597.4 115.9h0M591.2 117.1h0M600.9 110.4h0M586.4 114.4h0M597.3 118.8h0M583.7 114.9h0M592.6 119.5h0M601.7 117.7h0M595.9 112.8h0M591.8 114.6h0M584.5 113.4h0M590.8 116.8h0M591.7 117.6h0M594.2 119.9h0M595.3 114.9h0M593.3 111.3h0M592.7 114.7h0M580.3 114.9h0M588.3 114.6h0M597.5 117h0M589.8 117.4h0M589.3 110.9h0M600.9 114.6h0M597.1 109.7h0M590.8 112.8h0M582.1 115.4h0M587.1 116.8h0M591.9 115.4h0M581.9 110.2h0M594 115h0M601.1 115.6h0M598.7 112.6h0M588.1 118.2h0M598.5 118.2h0M591.7 115.9h0M588.9 111.5h0M590.3 111.7h0M586.3 119.5h0M591.1 117.9h0M594.8 112.9h0M590 112.9h0M584.8 111.3h0M585.5 113.4h0M594.9 109.7h0M596.8 114.5h0M600.2 111.8h0M593.2 118.6h0M587.1 116.2h0M596.7 119.6h0M599.6 118.2h0M594.5 114h0M599.5 115.1h0M582.3 112.6h0M589.5 115.1h0M587 118.4h0M584.9 112.9h0M592.2 114h0M590.6 119.5h0M587.1 115.9h0M595.3 119.1h0M585.2 115.1h0M588.8 109.4h0M586.5 114.2h0M594.6 114h0M595.2 114.4h0M599.9 118.6h0M595.9 116.7h0M581.9 118.1h0M597.9 118.8h0M590.2 111.4h0M584.3 115.5h0M598.7 109.1h0M591.2 118.6h0M590.3 118.6h0M583.4 112.7h0M593.1 115.2h0M590 111.6h0M586.9 117.9h0M590 115.1h0M588.3 114.6h0M587.1 111.7h0M589.3 113h0M589 113.9h0M596 112.4h0M584.4 114.9h0M590.4 118.8h0M593.9 112h0M595.8 110.2h0M589.8 111.6h0M590.6 113.9h0M591.3 117.2h0M601.7 112.4h0M583.2 114.2h0M595.5 114.7h0M591.4 118.8h0M585.8 116.9h0M592.4 114.6h0M601.6 114.3h0M598.6 116.7h0M592 120.6h0M583.4 111.4h0M598.9 115.8h0M586.6 118.6h0M591.4 114.9h0M594.3 113h0M597.3 119.6h0M589 118.3h0M593.5 111.3h0M596.2 112.4h0M590.2 117h0M588.4 114.9h0M597.3 112h0M599.2 113.1h0M571.8 118.5h0M587.7 112.5h0M593.1 117.3h0M585.5 116.3h0M594.7 119h0M594.9 110.2h0M586.4 117.9h0M583.6 109.6h0M590.4 114.8h0M590.1 111.8h0M588.9 120.5h0M592.4 115.5h0M599.9 114.6h0M588.7 118.7h0M584.1 116.7h0M590.6 119.5h0M591.2 116.5h0M592 118h0M590.7 118.1h0M602.1 109.6h0M597.5 117.2h0M584.1 116.2h0M593.4 119.2h0M585.3 118.9h0M593.5 112.4h0M590.4 109.6h0M594.3 109.5h0M587.6 116.2h0M587.2 114.4h0M593.6 117.2h0M586.1 113.8h0M593.8 115.2h0M596.5 114.2h0M591.3 116.3h0M585.4 115.4h0M594.4 113.1h0M592.1 113.5h0M596.8 116.3h0M591.8 114.4h0M582.1 116.8h0M589.8 117.6h0M587.9 109.3h0M592.5 117.5h0M592.1 116.6h0M586.5 117h0M584.1 117.1h0M586.6 118.2h0M593.1 112.9h0M581.1 114.7h0M594.4 116.1h0M592.5 118.8h0M597.8 116.1h0M587.2 110h0M599.3 113.4h0M599.2 116.6h0M583.3 109.4h0M583.1 112.6h0M597.9 116.8h0M585.6 114.7h0M589.3 114.8h0M583.5 113.5h0M590.7 117.9h0M589 115.6h0M588.5 110.7h0M592.5 118.8h0M584.5 113.4h0M590.6 109.8h0M589.8 114.6h0M585.2 112h0M584.7 119h0M591.2 109.9h0M591 119.4h0M598.7 112.1h0M594 112.2h0M590.3 114.9h0M594.3 113.4h0M591.8 109.9h0M588.5 117.5h0M584.2 113.6h0M593.1 113.3h0M585.8 117.3h0M595.8 116.7h0M587.3 116h0M594 114.3h0M591.4 111.9h0M596.5 114.4h0M588.3 114.9h0M587.2 119.4h0M600.6 117.2h0M589.6 115.8h0M582.6 119.3h0M580.9 118.6h0M594 118h0M590.3 109.5h0M596.1 113.7h0M595.6 116.1h0M591 114.1h0M584.2 119h0M596.9 110.6h0M594.6 112.5h0M595.2 114.4h0M599.4 114.6h0M592.4 119.8h0M588.7 110.3h0M586.1 116.8h0M584.4 114.8h0M590 115.5h0M595.7 113.9h0M589.5 116.3h0M589.3 110.7h0M594.7 117.7h0M585.6 113.6h0M594.6 118.5h0M586.2 110.3h0M602.5 117.9h0M594 119.4h0M595.4 119h0M579.9 120.3h0M593.7 112.3h0M597.5 113.1h0M585.7 114.4h0M595.7 110.1h0M599.9 116.1h0M600.1 118.3h0M583.9 114.9h0M591 115.1h0M593 114h0M590.3 111h0M594.4 110.1h0M598.9 112.1h0M587.7 117.5h0M586.6 118.1h0M585.1 113.1h0M598.1 117.5h0M591.9 116.7h0M585.9 113.7h0M590 113.8h0M597.9 115.8h0M589.1 111h0M588.7 111.9h0M579.6 110.2h0M588.9 113.8h0M594 112.6h0M594.1 119.6h0M596.6 111.4h0M587.1 110.3h0M591.3 112.5h0M584 114h0M586.7 115.6h0M592 110.7h0M595 112.3h0M587.7 112h0M599.5 112.4h0M594.8 115.3h0M594 118.5h0M592.8 114.9h0M592.9 118.1h0M589.4 118h0M588.5 111.9h0M588.5 115.9h0M593.1 117.2h0M593.3 116.6h0M592.6 112h0M593.4 115.6h0M592.3 115.9h0M593.3 118.2h0M589.8 117.4h0M593.4 114.7h0M591.6 111.2h0M584.5 112.5h0M598.2 111.8h0M592 111.9h0M590.8 112.2h0M591.7 117.9h0M590.9 117h0M601.8 115.4h0M596.5 113.3h0M586 120.4h0M586.6 114.9h0M586.9 114.9h0M593.1 119.6h0M598.8 112h0M590.9 117.8h0M591 117.5h0M592.2 119.4h0M599.2 114.5h0M586.4 120.6h0M593.9 118.4h0M591.9 115.1h0M600.3 110.9h0M598.6 112.6h0M595.7 114.5h0M593.7 117.6h0M586.3 112.9h0M599.6 114.6h0M595.6 113h0M594.4 119.2h0M597.5 113.9h0M588.4 110.5h0M593.2 112.9h0M589.8 118.7h0M590.2 115.2h0M586.3 119h0M584.4 115h0M601.9 118.2h0M591.5 117.3h0M584.2 116.2h0M578.3 114.8h0M594.6 116.3h0M592.2 109.6h0M580.9 116.9h0M597.2 115.6h0M597.5 117.7h0M583.1 113.3h0M595.6 120.3h0M598.2 116.7h0M591.9 115.6h0M594.9 111h0M592.2 118.6h0M596.2 112.6h0M577 117h0M598.3 116h0M591.2 110.2h0M594.5 115h0M587.2 115.6h0M596.5 115.7h0M600.3 116.6h0M587.6 113.9h0M585.3 119.5h0M587 115.3h0M597 114.1h0M598.4 114.6h0M593.7 120.6h0M587.9 115.8h0M589.5 112.5h0M598 111.6h0M591.6 118.2h0M594.3 115.7h0M593.4 111.1h0M590.6 113.9h0M592.7 114.6h0M591.4 119.9h0M580.6 115.8h0M589.4 115.8h0M595.5 115.3h0M584.5 116.8h0M590.4 114.8h0M587.9 112.5h0M578.7 111.6h0M596.6 113.8h0M590.3 112.1h0M591.2 110h0M591.6 120.3h0M588.2 114h0M586.6 113.2h0M591.5 111.4h0M589.2 113h0M592.5 115.1h0M598.4 114.3h0M581.5 112.2h0M590.9 118.1h0M589.5 116.3h0M592 110h0M586.5 116.8h0M590.5 116.5h0M588.9 110.6h0M584.8 117.8h0M595.9 113.6h0M588.5 116h0M593.3 117.3h0M586.6 117.8h0M593.2 120.7h0M584.3 114.7h0M591.8 114.1h0M590.8 110.7h0M587.7 116.5h0M584.4 119.6h0M586.8 120.6h0M582.9 112.5h0M601.3 113h0M595.7 117.4h0M584.3 114.8h0M621.6 112.2h0M625.9 112.9h0M617.8 119.3h0M622.3 110.4h0M625.4 119h0M621.4 112.9h0M619.6 119.3h0M614.2 112.9h0M614.8 119.8h0M619.3 112.9h0M616.6 120.2h0M628.9 114.3h0M623.3 117.8h0M612.6 113.5h0M628.1 118.3h0M632.8 120h0M618.5 115.3h0M625.3 116.5h0M618.2 118.8h0M622.2 116h0M625.9 112.6h0M627.2 115.7h0M627.4 113.9h0M623.2 114.5h0M619.6 112.1h0M632.3 111.9h0M625.1 112.5h0M625.7 111.3h0M621 116.1h0M623.9 112.3h0M612.5 115.6h0M619 115.2h0M620.3 117.5h0M621.3 114.5h0M616.4 113.2h0M632.1 114h0M614.8 115.5h0M621 117.6h0M622.8 112.7h0M619.8 110.4h0M623.5 110.1h0M625.1 119h0M632.8 120.8h0M612.3 119.8h0M616 116.8h0M618.5 112.5h0M620.1 115.1h0M626 110.4h0M617.3 115h0M616.1 116.3h0M622.6 110.2h0M623.1 119.9h0M632.2 112.8h0M617.1 118h0M623.3 113.3h0M626.1 114.1h0M615.8 117h0M618.4 114.7h0M627.6 117.9h0M622.3 117.7h0M620.5 110.3h0M625.6 114.7h0M624.5 111.4h0M623.4 119.9h0M613.7 115.3h0M623.9 109.1h0M616.9 109.5h0M632.6 117.2h0M621 115.7h0M632.2 111.8h0M612.4 113.7h0M624.3 120.6h0M637 118.8h0M633.3 114.3h0M622.6 115.6h0M615.2 113.9h0M614.6 117.8h0M621.5 113.7h0M618 114.5h0M617.6 114.5h0M615.6 119.6h0M627.3 111.6h0M624.9 112.9h0M621.8 115.4h0M623.3 114.8h0M617.9 116h0M619 116.2h0M618.1 116.9h0M627.2 111.6h0M622.9 114.7h0M637.8 119.1h0M622.2 109.5h0M623.9 117.8h0M614 111.7h0M628.7 110.5h0M623.3 119.4h0M629.5 109.5h0M619.3 119.1h0M630 118.4h0M615.1 117.6h0M630.6 112.2h0M623.9 112.2h0M622.5 114.4h0M621.1 118h0M632.9 111.1h0M619.7 117.5h0M627.9 112.2h0M627.3 114.6h0M622.1 115.7h0M623 118.1h0M615.7 116.6h0M616.1 112.9h0M616.6 117.8h0M623.4 118.5h0M620.4 110h0M625.1 109.9h0M615 110.9h0M625.7 112.5h0M623 115.3h0M611.6 110.6h0M634.4 114h0M622.6 119.2h0M620 114.2h0M623.4 115h0M614.1 117.1h0M614.1 119.6h0M614.9 112.2h0M627.1 117.1h0M625.1 120h0M620.3 112.8h0M622.7 117.9h0M623.4 118.1h0M624.5 120.1h0M625.6 114.8h0M620.4 113.1h0M623.4 117.1h0M621.1 118.6h0M632 109.2h0M617.2 117.3h0M615.7 116.9h0M624 116.4h0M624.9 112.6h0M628.6 113.7h0M617.5 113.5h0M628.7 116.9h0M625.7 112.8h0M618.8 115.7h0M632.2 110.5h0M618.3 113.9h0M623.7 113.1h0M624 114.1h0M613.6 116.8h0M616.1 113.2h0M619 117.2h0M633.8 114h0M616 111.4h0M627 112.4h0M627 113h0M617.6 109.5h0M626.3 117.8h0M615.4 117.3h0M627 119h0M621.1 114.5h0M619.5 114.8h0M621.1 116.3h0M614 120.4h0M626 115.7h0M624.2 118h0M619.6 111.7h0M625.3 117h0M620.3 109.1h0M612.5 115.7h0M634 111.9h0M638.1 115.4h0M622.3 115.3h0M620.2 119h0M628.3 117.7h0M623 115.6h0M619.4 119.2h0M615.4 113.6h0M616 120.1h0M618.2 116h0M624.6 109.5h0M626.9 115.8h0M616.7 113.7h0M615.7 113.8h0M622.5 115.4h0M621.6 116h0M631.8 114.8h0M628.5 112h0M621.8 111.4h0M626.1 114.8h0M624.2 113.3h0M627.9 114.6h0M617.3 114.8h0M614.9 114.5h0M620 113.4h0M620.2 117.9h0M626 110.5h0M625.8 117.9h0M630.1 113.6h0M620.6 118.3h0M634 118.9h0M618.7 110h0M623.2 117.7h0M628.7 112.6h0M613.4 115.2h0M619.8 118.3h0M616.6 109.5h0M616.3 114.4h0M611.8 114.2h0M627.7 113.2h0M619.4 109.6h0M624.2 119.3h0M632.3 115.7h0M619.3 117.6h0M631.4 110.1h0M613 120.2h0M630.3 115.3h0M613.1 117.3h0M621.9 116.5h0M630.5 118.6h0M622.1 111.9h0M623.9 115.8h0M620.1 113.2h0M623.4 112.8h0M629.2 118.4h0M614 113.8h0M619.3 115.7h0M622.4 112.2h0M620.7 110h0M623.9 119.3h0M625.9 112.7h0M617 110.2h0M625.5 114.3h0M625.5 112.1h0M625.8 116.9h0M621 113.6h0M619.5 111.1h0M621.6 115.4h0M625 111.2h0M628.5 111.1h0M628.3 115.9h0M615 111h0M622 113.9h0M622.6 109.8h0M612.7 115.8h0M625.3 116h0M616.1 118.2h0M624.4 114.3h0M625.1 116.1h0M624 110.1h0M618.9 118.9h0M620 118.1h0M617.2 115h0M618.1 120.9h0M616.2 119.7h0M622 112.4h0M624.1 112.7h0M615.3 116.7h0M628.1 109.6h0M629.7 112.6h0M622.1 114.9h0M613.2 110h0M624.1 119.7h0M621.3 119.1h0M620.7 120.4h0M626.7 116.4h0M625.6 114.7h0M618.5 116.2h0M627.5 117.3h0M624.3 112.7h0M626.1 115.6h0M635.3 109.9h0M621 113.5h0M622.5 110.4h0M620.5 116.8h0M626.3 110.7h0M628.1 118.2h0M614.3 115.8h0M624.9 110.7h0M619.5 114.4h0M618.9 113.5h0M629.5 116.1h0M613.1 119.1h0M619 113.7h0M622.7 116.5h0M619.7 118.7h0M622.2 115.6h0M623.2 115.6h0M630.4 115.3h0M634.9 118.3h0M620.6 111.2h0M619.4 115.3h0M616.2 116.3h0M616.9 119.6h0M615.6 115.3h0M621.7 115.9h0M619.3 116.8h0M620.1 116.9h0M625.1 112.2h0M629.1 113.7h0M617.5 113.5h0M625.3 114.9h0M617.6 116.1h0M624.7 113.5h0M615.8 114.9h0M619.9 116.4h0M619.2 111.2h0M616.2 118.9h0M622.9 114.5h0M616.4 114.8h0M615.2 114.2h0M615.5 117.6h0M628.4 114.3h0M618.2 113.8h0M632.2 109.9h0M621.1 117.7h0M624.9 116.2h0M613.3 118.6h0M621.5 118.8h0M621.7 116.4h0M622.5 116.3h0M620 114.9h0M618.8 118.8h0M617.6 113.6h0M629.9 120h0M622.3 114.4h0M619.8 113.9h0M622.5 109.9h0M622.4 118.7h0M623.4 117.1h0M626.3 115.3h0M621.2 117h0M612.6 117.9h0M618.9 117.4h0M623 115.6h0M616.1 119.4h0M624.6 118.3h0M617.8 116.8h0M618.2 114.7h0M620.5 112.8h0M623.1 110.1h0M626.7 112.8h0M625.9 115.6h0M625.3 116.3h0M626 111.2h0M634.4 118h0M622 109.8h0M625.5 113.4h0M625.8 111h0M622.8 113.2h0M631.6 113.3h0M627.8 117.8h0M630.6 117.7h0M617.2 114.3h0M628.9 114.2h0M626.6 114h0M614.7 116.5h0M630.7 117.9h0M631.3 116.6h0M628.2 114.8h0M625.2 118.4h0M613.2 118.8h0M619.1 114.6h0M616.1 119.3h0M622.3 117.3h0M624.8 115h0M624.2 115.1h0M632.3 118.8h0M627.5 119.2h0M635 118.1h0M625.6 112.4h0M622 114.8h0M633.6 114.4h0M619 116.3h0M627.5 111.5h0M620.9 117.8h0M619.3 115.3h0M620.6 120.2h0M621.3 112.4h0M621.8 111h0M617.2 114h0M626.5 115.4h0M623.6 114.1h0M617.1 117.6h0M621.9 115.6h0M624.7 117.8h0M617.9 114.7h0M616.3 118.6h0M623.4 110.6h0M619.7 117.5h0M632.8 112.8h0M622.6 113.5h0M625.5 116.6h0M626.5 116.6h0M611.7 118.1h0M623 115.5h0M629.2 119.8h0M613.3 110.7h0M616.7 116.1h0M628.1 111.1h0M621.3 119.4h0M619.8 113.6h0M616.8 109.9h0M612.7 119.3h0M623.4 120h0M611.9 116.8h0M617.2 112.7h0M624.5 115.1h0M621.7 117.8h0M618.7 120.4h0M614.1 111.6h0M629.7 118.5h0M626.2 109.1h0M626 113.2h0M624.4 117.8h0M611.9 110h0M616.2 116.2h0M622.2 115.1h0M628.8 109.5h0M633.8 115.6h0M623.1 113.9h0M620.2 109.1h0M623.5 118.4h0M623.5 116.7h0M621.7 118.8h0M626.2 117.7h0M631.1 120.7h0M637.6 114.8h0M629.9 113.8h0M635.5 116.1h0M622.8 113.7h0M623 115.5h0M622.7 110.4h0M614.7 114.6h0M620.2 109.8h0M615.7 110.9h0M613.2 118.6h0M623 110.5h0M628 120.7h0M615.5 110.6h0M632.8 113.8h0M621.4 118.3h0M620.1 118.6h0M623.1 111.9h0M625.7 116.6h0M626.2 110.2h0M627.2 110.7h0M620.7 117.4h0M614.1 116.1h0M617.6 116.7h0M620.4 119.5h0M622.4 112.1h0M633.8 115.9h0M633.4 113.6h0M622.6 114.6h0M618 114.2h0M635.9 114.4h0M632.8 112.1h0M612.1 111.4h0M634.1 109.7h0M636.7 119.6h0M615.9 114.8h0M624 109.9h0M619.5 114.5h0M629.5 110h0M619.4 115.6h0M623 117.3h0M632.6 117.9h0M627.4 110.7h0M627.1 117h0M625.9 112.7h0M617 115.8h0M623.7 115.4h0M618.6 114.1h0M625.9 115.4h0M628.6 120.6h0M627.9 112h0M621.3 117.6h0M626.5 115.8h0M622.3 112.1h0M619.8 110.2h0M614.1 112.9h0M614.9 120.4h0M630.4 114.6h0M619.8 112.4h0M632.8 114.6h0M627.3 119h0M617.1 115.4h0M625.6 115.3h0M626.3 118.3h0M635.4 118h0M622.9 117.1h0M617.5 115h0M614.4 111.3h0M623.9 116.5h0M623.8 116.4h0M626.9 113h0M613.1 117.5h0M616.9 110.9h0M624 112.3h0M622 115.4h0M617.5 117.8h0M624.1 115.8h0M622.1 116.3h0M617.2 110.8h0M622.8 114.4h0M626.6 110.2h0M621.4 114.4h0M615.1 116.6h0M623.4 111.7h0M628.8 111.6h0M630.6 115.4h0M626.3 113.8h0M622.5 118.7h0M627.8 113.4h0M625.8 115.4h0M633.4 120h0M615 120.2h0M628.3 117.4h0M626.2 116.7h0M625.9 119.4h0M621.4 115.1h0M624.1 116.5h0M625 120h0M616.1 116.8h0M631.4 116.8h0M626.8 111.4h0M619 115.9h0M620.7 118.5h0M623.1 113.5h0M617.8 117.7h0M624.9 112.7h0M617.7 112h0M620.4 111.3h0M619.6 117.9h0M627.1 114.6h0M627.7 120.8h0M614.9 115.1h0M627.2 116.3h0M627 115.3h0M628.4 113.3h0M622.6 116.5h0M613.8 116.5h0M615.6 120.5h0M628.3 114.2h0M626.2 117.3h0M624.6 113.8h0M626.4 116.1h0M621.9 110.5h0M627.5 116.6h0M619.9 109.6h0M611.7 114.6h0M611.7 111.5h0M627.6 113.3h0M630.5 118.3h0M613.6 111.7h0M621.4 109.1h0M631.3 112.3h0M621 115.5h0M614 112.7h0M619.1 111.1h0M628.6 115.5h0M618.1 113.5h0M620.9 117.6h0M618.3 114.7h0M623.2 116.8h0M612.8 113.2h0M629.2 118.5h0M614.7 114.8h0M622.1 112.9h0M615.8 117.2h0M623.3 115h0M611.8 111.4h0M632 117.3h0M621.4 112.6h0M615 110.5h0M616.6 120.9h0M615.8 115.6h0M633.7 115.6h0M622.1 114.2h0M633 115.6h0M628.9 111h0M624.9 114.8h0M626.5 115.8h0M627.8 111.1h0M614 114.6h0M634.3 111.4h0M619 117.7h0M623.5 115.8h0M635.8 114.4h0M619.6 113.3h0M614.5 115.7h0M618.8 113.5h0M625.6 117.9h0M615.2 111.3h0M628 111.6h0M626.4 114.7h0M634.3 116.2h0M625.6 111.6h0M623.6 117.1h0M627.7 117h0M624.4 116.1h0M626.1 109.9h0M612.3 118.1h0M626.3 113.3h0M611.8 117.1h0M618.3 110h0M612.2 119.8h0M641.1 116.8h0M622.5 115.6h0M617.5 111.5h0M635.1 116.8h0M617.3 113.6h0M623.3 112.8h0M617.6 114.3h0M628 119.3h0M620 113.2h0M632 117.7h0M613.1 114.5h0M616.1 113.2h0M632.5 114.5h0M623.3 114.4h0M618 114.6h0M617.9 112.5h0M627.4 115.7h0M617.6 117.4h0M612.4 114.9h0M619 109.7h0M615.5 116.7h0M629.8 120.9h0M611.9 120.2h0M625.6 116.2h0M626.7 109.8h0M612.9 118h0M626.1 113.8h0M619.2 116.2h0M623.4 115.5h0M614.6 112.5h0M619.7 112h0M614 113.8h0M627.9 112.6h0M633.3 113.3h0M615.7 115.5h0M620 118.7h0M615.6 111.8h0M629.7 116.4h0M618.2 113.6h0M620.4 111.7h0M617.8 110.1h0M618.5 112.2h0M633.5 118.6h0M620.9 116.8h0M620.3 117.3h0M629.5 114.2h0M630.1 119.5h0M625.3 118.6h0M634.2 118.6h0M616.3 111.6h0M618.4 118.9h0M617.4 118.4h0M631.1 113.1h0M633.7 115.5h0M619 110.1h0M626 114h0M612.8 115.6h0M621.9 110.2h0M626.5 113.8h0M640.5 118.4h0M620.4 110.1h0M614.4 116.8h0M623.9 116.2h0M619.8 117.9h0M621.6 115.7h0M628.1 110.5h0M627.1 115h0M622.3 117.3h0M622.3 119.7h0M624.3 118.6h0M625.4 113.4h0M612.1 115.2h0M621.2 111.1h0M614.5 116.6h0M631.1 112.6h0M626.3 116.1h0M622.3 113.9h0M635.2 120.9h0M619.8 120.3h0M628.6 114.4h0M625.2 112.8h0M623.8 118.5h0M623 118.7h0M612.7 118h0M619.6 110.4h0M617.6 109.9h0M624.4 112.1h0M628.2 117.1h0M629.8 118.2h0M619.9 120.3h0M622.7 112.2h0M628 117.5h0M617.6 114.5h0M621.3 116.4h0M616.2 116h0M617.3 112.6h0M632.7 117.7h0M629.5 119.2h0M624.8 113.2h0M633 114.8h0M623.1 112.7h0M621.6 120.3h0M618 117.7h0M615.6 114.6h0M618.2 120.7h0M619.7 118h0M623.2 115.6h0M619.5 111.7h0M635.8 114.1h0M623.7 112.4h0M620.7 116.8h0M619.3 115.3h0M625.1 120.4h0M632.7 114.2h0M621.7 120h0M624 117.2h0M638.1 119.2h0M626.6 112.9h0M636.1 110.8h0M629.8 115.7h0M619.9 117.5h0M618.2 115.7h0M623 116.6h0M623.6 118.9h0M628.6 113.9h0M615.9 111.7h0M627.6 114.2h0M621.7 109.1h0M613.6 118.2h0M619.8 115.1h0M624.5 117.4h0M620.3 120.5h0M626.4 118.7h0M626.1 113.3h0M612.5 110.6h0M626.9 116.2h0M626.6 114.4h0M622.5 109.3h0M628.3 113.7h0M615.9 115.8h0M619.2 111.6h0M631.3 113.5h0M630.4 109.4h0M617.7 120.7h0M626.3 120.6h0M613.3 115.9h0M618.7 115.7h0M626.7 114h0M627.2 114.2h0M612.3 112.6h0M619.1 113.5h0M629.3 116.2h0M617.6 113.9h0M620.6 117.9h0M619.1 114.6h0M613.1 119.3h0M627.7 116h0M621.6 109.6h0M624.1 117.1h0M623.4 118.7h0M633.3 112.6h0M624.6 118.5h0M632.1 112.6h0M619.9 115.2h0M624.5 115h0M616.2 115h0M621.4 115.7h0M624.5 118.2h0M625.4 113.6h0M614.9 109.5h0M629.6 110.6h0M623.9 115.1h0M613.4 116.6h0M623.7 113.4h0M631.1 119.3h0M630.3 112.3h0M616.4 112.2h0M617.6 118.6h0M630.2 114.6h0M617.9 116.1h0M628.9 119.7h0M630.4 118.2h0M623.3 111.8h0M612.4 119.2h0M631.4 115.5h0M618.5 119.1h0M620.1 117.3h0M625.4 120h0M630.3 117.4h0M621.8 119.5h0M626.3 111.9h0M619.7 116.6h0M627.7 115.3h0M631 118.2h0M625 120.6h0M623 119.2h0M632.5 113.3h0M621.6 109.5h0M622.8 111.5h0M616.2 113.2h0M623.9 120.8h0M628.3 112.7h0M630.7 119.6h0M625.8 115.4h0M632 116.3h0M622.5 111.2h0M618.8 114.5h0M618.6 120.5h0M620.2 113.7h0M621 120.5h0M621.3 118.2h0M623.2 117.1h0M631.6 115.5h0M623.6 118.5h0M615.1 117.6h0M618.1 119.5h0M620.1 119h0M619.1 112.9h0M628.5 116.7h0M616.5 115.2h0M619.2 113.2h0M625.3 116.1h0M615 119.5h0M635.7 112h0M619.1 120.2h0M615.2 111.8h0M624.4 116.6h0M625.7 112.2h0M621.7 120.1h0M624.1 120.1h0M626.3 112.6h0M631 118.6h0M628.6 116.9h0M624.6 109.1h0M612.3 109.9h0M624.9 110.1h0M623.7 110.9h0M613.6 118.6h0M632.5 120.8h0M621.4 113.3h0"/><path fill="none" stroke="#f00" stroke-width="2.0" stroke-linecap="round" d="M590.5 106.1h0M586.5 103.7h0M593.2 77.5h0M584 101.5h0M596.2 92.4h0M600.8 104h0M596.3 105.9h0M599.7 107.6h0M591.3 105.9h0M598.4 103.7h0M596.1 88.8h0M585.9 97.5h0M589.1 107.3h0M584.3 107.3h0M588.1 97.1h0M591.5 107.6h0M588 105.7h0M589.9 106.8h0M597.6 106.9h0M583.3 108h0M597.5 90.4h0M589.8 104.2h0M583.2 106.3h0M583.3 105.9h0M600.4 100.1h0M586.6 108.2h0M594.1 102.4h0M597.1 100.9h0M588.1 103.8h0M586.2 108.1h0M589.9 107.9h0M587.4 98.2h0M591.1 100.3h0M599.9 108h0M591.7 107h0M584.7 96.2h0M580.5 106.1h0M593 105.5h0M589.3 103.5h0M585.3 108.2h0M601.5 101h0M590.5 90h0M590.1 102h0M587.4 106h0M590.2 104.3h0M585.9 105h0M593.8 107.1h0M599.9 104h0M585.6 107.6h0M592.7 101.4h0M583.5 103.2h0M584.1 107.6h0M596.2 108.3h0M593.8 101.3h0M582 102.5h0M601 108.4h0M589.6 99.8h0M594.1 102.7h0M592.7 92.9h0M588.9 86.3h0M592.3 106h0M596.4 102.6h0M593.9 98.8h0M588.2 106.7h0M588.7 88.3h0M588.3 106h0M592.4 108.3h0M582.7 107.6h0M581.4 105.6h0M586.8 83.7h0M588 102.7h0M594 105.8h0M594.8 102h0M599.2 92.7h0M598.9 99.9h0M582.7 105h0M596.2 108.3h0M587 106.9h0M598.3 93.9h0M589.5 83.3h0M589.7 104.7h0M587.6 103.8h0M590.9 107.8h0M588.8 89.6h0M583.3 107.8h0M589 103.9h0M585.5 94.7h0M601.3 105.8h0M597.7 107h0M593.1 97.5h0M592.1 106h0M592.5 108.4h0M593.1 107.5h0M597.5 106.9h0M595.2 94h0M595.8 103.5h0M592.2 100.1h0M584.6 99.7h0M597 101.2h0M586.3 107h0M594 104.4h0M594.5 107.1h0M595.4 95.7h0M592.1 106.6h0M591.2 102.7h0M590.1 106.1h0M593.2 101.4h0M594.9 105.7h0M587.5 92.6h0M588.8 97.5h0M578.8 104.9h0M590.9 104.8h0M589.4 105h0M584.7 106.8h0M595.4 106.7h0M596.2 89.6h0M586.1 102.8h0M588.8 83.6h0M584.6 106.3h0M590.8 102.4h0M593.7 128.6h0M588.4 129.5h0M587.8 121.7h0M589.9 122h0M591.5 124.7h0M593.2 136h0M588.3 127.2h0M599.9 123.1h0M585.1 124.6h0M587.9 125h0M583.5 125h0M592.6 130.6h0M599.4 128.5h0M594.5 127h0M592.6 125.1h0M597.6 123.8h0M580.7 121.7h0M593.1 123.4h0M597.4 122.1h0M598.6 121.8h0M589.4 123h0M586.1 123.3h0M593.4 132.8h0M591 122.4h0M597.1 130.5h0M583.3 128.4h0M587.1 124h0M593.8 127.7h0M596.3 123.4h0M586.6 122.5h0M587.1 125.8h0M589.1 124.5h0M581.8 121.6h0M574.1 121.8h0M587.1 123.9h0M581.7 123.5h0M580.9 124.2h0M598 126.9h0M595.1 122.1h0M587.7 129.3h0M582.4 124.5h0M590.1 125.8h0M586.9 126.2h0M594.7 123.7h0M594 121.7h0M590.4 123.3h0M587.3 124.1h0M592.1 122.8h0M588.9 127.2h0M589.5 122.1h0M600.6 122.2h0M585.7 123.6h0M589.5 121.8h0M587.1 122.6h0M599.8 122.4h0M594.2 123.6h0M589 122.3h0M577.8 122.7h0M584.7 126.7h0M590.5 127.6h0M584.7 122.2h0M599.5 122.5h0M596 126.7h0M596.6 124.7h0M585.7 128.2h0M597.1 128.4h0M593.2 125.6h0M591.2 124.6h0M591.5 124.2h0M596.7 122.2h0M596.3 130.5h0M590.3 127.4h0M591.1 121.9h0M594.2 124.8h0M589.7 126.3h0M589.8 125.8h0M590.9 136.9h0M596.6 127.6h0M583.3 123h0M594.9 122.4h0M611.8 99.5h0M621.7 106.5h0M621.4 108.2h0M615.5 101h0M625.5 107h0M624.7 106h0M622.3 103.6h0M619.9 107.8h0M626 99.8h0M620.5 107.5h0M625.1 100.2h0M627.6 91.9h0M620.1 98.3h0M620.2 90.9h0M617 106.8h0M622 96.5h0M615.7 100.8h0M627.2 91.7h0M617.1 99.6h0M621.5 107.1h0M622.5 104.9h0M616.7 100.7h0M625.7 103.6h0M628.1 89.3h0M617.8 103h0M616.7 87.8h0M618.4 85h0M624.5 101h0M614.4 105.5h0M624.3 93h0M614.4 88.8h0M612.9 96h0M618.7 103.8h0M629.6 100.1h0M615.1 108.4h0M621 95.2h0M627 102.8h0M620.6 84.3h0M626.6 89.8h0M622.4 104.7h0M622.4 96.1h0M629.3 97.3h0M621.5 106.8h0M625.2 103.7h0M623.9 104h0M623 107.3h0M624.4 102.7h0M632 105.4h0M625.7 100.1h0M616.1 102.9h0M626.1 100.2h0M623.4 89.9h0M619.8 107.6h0M633.8 105.1h0M626.4 105.5h0M630.8 94.3h0M623.6 98h0M618.8 87.6h0M612.7 105.2h0M628.4 107.7h0M617.9 102.2h0M626.8 104h0M623.5 84.7h0M629.1 79.5h0M617.2 105.2h0M624.6 94.9h0M613.9 105.6h0M611.8 104.3h0M617.4 101.1h0M629.5 106.3h0M623.1 104.2h0M614.7 102.7h0M618.1 100.7h0M625.8 96.3h0M624.8 105.2h0M617.2 100.5h0M628.4 108.2h0M642.2 108.2h0M621.9 105.2h0M623.2 89h0M620.8 106.1h0M618.7 103.4h0M612.4 106.8h0M619.7 106.7h0M629 106.9h0M624.3 103.4h0M615.7 106.5h0M622.3 99h0M624.1 93.4h0M629.2 107.6h0M623 100.4h0M624.5 100.6h0M621.5 106h0M621.6 98.9h0M614.6 103.2h0M629.6 101.8h0M623.9 98.6h0M621.1 107h0M628 106h0M614.8 103h0M623 106h0M629.9 103.2h0M629.2 107.7h0M620.4 100.2h0M616.3 97.5h0M622.7 105.5h0M627.4 107.5h0M615.7 103.8h0M628.2 105.2h0M633.2 104.7h0M617.5 104h0M622.4 75.8h0M631.2 107.1h0M615.8 104h0M616.5 101.6h0M635 100.1h0M619.9 104.5h0M621.5 95.4h0M628.2 105.3h0M616.6 106.4h0M621 99.9h0M620.5 103.7h0M625.9 105.8h0M616.7 82.2h0M620.6 75.7h0M617.7 100.9h0M619.5 105.3h0M619.4 88.6h0M620.9 102.2h0M631.1 101.5h0M619 90.1h0M617.2 103.4h0M622.2 101.5h0M623.5 105.8h0M631.7 103.9h0M624.7 101.9h0M611.6 104h0M620.8 107.6h0M626.8 75.7h0M632.2 105.6h0M624.4 107.2h0M623.6 92.9h0M619 86.8h0M646.2 107.6h0M618.5 103.5h0M632.8 106.3h0M627.9 105.6h0M621.9 103.1h0M619 101.5h0M613.7 105.9h0M625.7 107.1h0M635.1 108.3h0M622.7 97.5h0M613 100.9h0M627.6 106.2h0M614.5 93.8h0M620.3 104.5h0M621.4 106.2h0M635 108h0M621.2 98.7h0M626.6 107.5h0M626.2 103.5h0M614.5 102.8h0M619.4 93.8h0M619.9 99.2h0M620.1 101.5h0M627.1 99.4h0M625.8 101.5h0M627.7 107.1h0M624.7 106.9h0M614.3 107.9h0M627.1 106.9h0M613.3 103.8h0M616.4 98.5h0M624.3 108.3h0M627.4 103h0M627 105.3h0M625.9 91.6h0M622.6 91.7h0M613.7 104.7h0M613.5 95.9h0M625.1 91.8h0M619.3 94.5h0M626.3 100.4h0M625 104.7h0M619.8 98.9h0M623.7 103h0M632.6 103.9h0M611.9 108.4h0M622.5 107.4h0M623.5 105.1h0M615.3 99.5h0M621.4 101.5h0M615.8 105.1h0M626.7 107.3h0M624 94.8h0M625.4 106.5h0M619.9 77.5h0M631.3 106.3h0M619.9 104.4h0M635 105.1h0M622.7 108.1h0M629.6 99.3h0M632.6 105.1h0M623.4 84.5h0M616.1 105.6h0M631.1 106.4h0M627 102.8h0M631.4 107.5h0M635.3 108.2h0M629.8 108.2h0M625.2 100.4h0M628.6 107.4h0M622.9 103h0M621.7 105.4h0M614 99h0M625.4 105.1h0M615 108h0M633.4 92.8h0M621 107.4h0M614.1 106.7h0M626.5 87.2h0M621.9 74.6h0M618 97.1h0M613 87.1h0M613.8 108.1h0M628.9 99.9h0M619.5 92.2h0M615.7 100.9h0M620.8 94.1h0M619.8 99h0M630.7 106.1h0M621.5 95.7h0M620.1 102.7h0M618.7 103.8h0M621.2 105.6h0M628.4 88.9h0M621.3 76.5h0M635.8 106.3h0M623.7 108.4h0M625.3 100.9h0M628.8 87.9h0M612 107.6h0M615.5 106h0M624.4 104.9h0M624.7 100.1h0M626.1 103.3h0M617.5 106.8h0M614.8 105.1h0M625.4 94.1h0M629.7 104.7h0M623 106.6h0M613.2 93.1h0M622.9 104.3h0M631 105.6h0M624.2 101.4h0M631.9 105.7h0M621.6 100.9h0M619.5 86.7h0M611.7 105.2h0M612.3 103.4h0M623.5 104.7h0M627.4 99.2h0M613.7 104.4h0M627.2 104.4h0M620.4 104.9h0M634.3 103.4h0M614.8 98h0M618.6 105.8h0M622.7 107.8h0M612.8 104.4h0M611.6 100.9h0M621.2 104.5h0M641.8 105.9h0M623.1 99.3h0M623.4 105.9h0M624.4 106.5h0M624.8 104.9h0M630.8 96.5h0M625.4 95h0M624.3 104.5h0M628.4 108.1h0M635.8 107h0M626.6 107.8h0M614.8 105.9h0M621.2 106h0M620.3 92.5h0M617.4 103.8h0M639.5 106.7h0M617.5 101.8h0M626.8 105.7h0M621.7 94.4h0M612.8 100.2h0M629.7 99.9h0M624.2 100.6h0M620.7 107.5h0M614.4 98.9h0M630.7 108h0M624.4 98.7h0M627.2 88.8h0M612.2 96h0M624.7 106.1h0M623.7 104.5h0M618.1 107.5h0M623 103.8h0M614.7 108.3h0M615.1 107.1h0M621.1 87h0M620.3 98.9h0M617.1 108h0M622 101.9h0M617.3 99h0M619.9 98.2h0M627.5 95.8h0M623.7 101.6h0M622 102.7h0M631.6 102.6h0M624.2 99.9h0M636.7 106.4h0M619.5 104.8h0M633 107.6h0M620.5 107h0M615.5 79.6h0M611.8 105.1h0M629.4 97.3h0M613.6 107.4h0M621.5 95.1h0M631.1 106.6h0M626.8 98.4h0M623.4 102.5h0M622.2 94.3h0M616.9 104h0M621 99.2h0M635.3 106.9h0M622 97.1h0M632.6 107.9h0M619 92h0M613.8 103.2h0M620 99.8h0M617.9 106.2h0M614.3 98.3h0M620.5 103.3h0M621.9 108h0M621.1 101.8h0M626.2 92.1h0M620.7 93.5h0M621.5 100.1h0M623.3 102.6h0M630.1 93.9h0M614.8 101.9h0M627.2 100.8h0M628.9 81.7h0M615.9 107.5h0M622.5 103.1h0M622.6 103.9h0M616.9 98.5h0M618.3 98.8h0M620.3 102.5h0M620.9 98.1h0M620.3 96.7h0M616.1 83.9h0M620.7 92.2h0M616.8 98.8h0M623.1 108.2h0M635.8 108.4h0M622.1 101.5h0M618.9 91h0M638.5 103.2h0M620.2 95.9h0M629.9 91.8h0M618.6 93.2h0M623.1 106.3h0M615.1 106.3h0M633.2 102.6h0M622.9 100.4h0M619.8 106.8h0M614.1 103h0M611.7 105.6h0M615.4 107h0M619.3 108.2h0M622.1 107.5h0M619.6 105.5h0M625.6 107.9h0M615.3 104.4h0M634.2 107.5h0M618.4 107.9h0M615.8 101.9h0M621.2 104h0M621 108.4h0M623.1 103.8h0M628.6 125.5h0M620.1 131.9h0M624.1 134.2h0M627.5 130.7h0M622.7 133.7h0M627.6 124.9h0M625 122.4h0M626.7 121.9h0M621.8 124.9h0M626.4 125.2h0M620 126.4h0M625.3 122.6h0M620.8 126.2h0M616.2 124.7h0M626.4 138.5h0M620.7 126.3h0M622.4 125.2h0M618.6 124.2h0M620.6 128.3h0M623.9 121.8h0M621.8 128.5h0M626 139.4h0M633.3 123.6h0M618.4 131.8h0M628.7 130.6h0M630.9 123.4h0M631 121.8h0M618.9 128.1h0M624.7 122.4h0M620.8 137h0M628.3 131.7h0M617.7 122.1h0M614.4 126h0M619.2 125.5h0M627.3 136.4h0M619.1 142.4h0M617.7 127.6h0M621 135.5h0M618.6 129.3h0M629.7 125.7h0M622.6 124.1h0M621.7 122.6h0M618.1 124h0M621.3 126.6h0M623.1 144.6h0M619 135h0M626.6 128.7h0M627.3 124.8h0M627.3 127.4h0M627 132.8h0M621 133.1h0M626.9 123.4h0M626.7 132.2h0M622.8 134h0M625.5 122.3h0M623.5 123.5h0M622.1 123.7h0M629.7 132.1h0M632.4 122.1h0M628.5 123h0M628.3 125.6h0M613.4 123.6h0M629.2 128h0M622.8 124.4h0M617.3 122.4h0M618.2 124h0M628.9 128.9h0M633.2 125.3h0M621.1 133.8h0M620.8 137.8h0M626.5 130.3h0M622.1 122.4h0M624.5 122.4h0M623.8 134.6h0M625.6 124.8h0M615.4 126.3h0M615.5 124.2h0M622.5 123h0M616.7 137h0M619.7 128.9h0M628.5 130.3h0M632.7 125.4h0M634.1 126.9h0M625.7 122.7h0M612.8 129.2h0M622.4 145h0M622.4 141.4h0M629.4 127.7h0M632.9 130.1h0M629 124h0M623.2 134.9h0M630.4 131.2h0M622.1 122h0M616.7 125.1h0M621.4 132.9h0M617 126.2h0M621.4 131.6h0M622.8 123h0M624.5 129.1h0M627.4 126.8h0M633.6 126.8h0M621.7 124.1h0M629.6 124.7h0M616.8 126.6h0M616.1 128.4h0M628.9 121.8h0M617.7 133.7h0M613.6 131.1h0M626.3 125.4h0M629.6 124.5h0M625.6 127.7h0M624 129.3h0M633.1 128h0M629.4 131h0M629.5 131.5h0M619.4 144.7h0M625.8 123.9h0M617 129.3h0M629.2 124h0M625.2 125.1h0M618.4 129.4h0M627.2 136.6h0M625.3 126.1h0M631.2 125.8h0M619.4 122.3h0M623.4 125.2h0M617.4 125.8h0M619 122.4h0M616.1 125.9h0M614.1 130.3h0M621.1 122.1h0M614.8 128.3h0M615.5 125.8h0M615.1 137.8h0M614.5 124.6h0M623.1 140.2h0M621.2 125.3h0M632.2 123h0M615.8 128.2h0M621.2 129.1h0M628.7 126.4h0M625.9 126.8h0M619.8 122h0M634.4 122.7h0M615.5 124.9h0M623.3 121.6h0M618.4 135.6h0M626.8 124.3h0M617.9 121.7h0M617.4 121.7h0M625.1 127.1h0M627.4 123.4h0M634.1 123.5h0M615 124.3h0M625.5 131.8h0M623.2 124.4h0M620.7 124.7h0M618.1 134.1h0M619.3 122.2h0M630.7 134.2h0M628.6 128.8h0M615 136.2h0M635.2 124.9h0M625.7 125.9h0M622.6 128.6h0M617.3 125.1h0M616.9 135.4h0M622.2 121.8h0M623.5 122.8h0M624.9 124.4h0M620.9 123h0M619.4 122.7h0M628.5 129.7h0M622.4 127.9h0M626.8 140.1h0M612.3 127.6h0M617.4 127.7h0M614.2 124.3h0M618.9 127.6h0M626.9 124.7h0M624.6 123.6h0M627.7 131.6h0M623.3 130.5h0M620 133.6h0M622.1 130.3h0M619 123.3h0M623.5 122.3h0M615.4 125.3h0M618.3 125.7h0M626.2 128h0M621.8 133.9h0M627.4 126.4h0M617.9 122.2h0M629.6 124.2h0M615.1 138.6h0M630.1 124.9h0M620.6 131.7h0M628.4 125.8h0M625 136.1h0M624.2 134.1h0M623.6 123h0M618.2 122h0M616.4 124.5h0M626.9 130.9h0M627 131.8h0M621.3 131.6h0M633.2 125h0M612.5 132.9h0M624.6 121.9h0M624.2 122.4h0M621.6 125.6h0M616.1 123.4h0M625.1 125.6h0M620.7 130h0M622.2 129.4h0M617 125.9h0M618.6 131.9h0M620.1 125h0M631.2 129.4h0M623.4 132.3h0M624.9 121.9h0M630.7 130.8h0M625.8 133.1h0M614.5 128.3h0M628.8 131.9h0M621 137.5h0M624.2 136.7h0M622.2 138.7h0M616.1 125.9h0M616.2 136.1h0M625.9 130.3h0M639.9 127.6h0M626.5 137.5h0M621.8 132.1h0M612.6 122.9h0M624 127.9h0M614.5 131.1h0M624.8 121.7h0M612.6 125.8h0M614.9 122.4h0M620.5 123.4h0M625.7 122h0M626.9 124.9h0M620.1 124.7h0M625.8 140.7h0M624.1 138.8h0M620.4 126.8h0M627.2 124.4h0M629.8 123.4h0M618.1 124.5h0M617.3 142.1h0M616 131.6h0M628 124.8h0M614.2 123.1h0M627.9 128.2h0M621.2 135.7h0M629.2 127h0M622.4 138.2h0M621.6 122.5h0M626 124h0M622 141.5h0M616.6 123.3h0M620.5 122.2h0M632.5 123.5h0M622.6 123.9h0M613.5 123.4h0M629.3 124.5h0M627.1 134.3h0M626.4 131.1h0M623.3 132.7h0M629.5 132.6h0M623.4 121.9h0M617.7 127.8h0M630.2 125.7h0M617.2 123h0M626.8 126.5h0M616 122.8h0M626.6 126.7h0M618.5 142.8h0M627.9 123.6h0M614.5 125.3h0M625.7 122.3h0M624.6 130.7h0M626.9 127.9h0M619.6 122.7h0M614.3 122.2h0M628.3 128.9h0M629.8 134.6h0M620.1 132.2h0M618.8 134.1h0M628.5 123.1h0M626.4 130.4h0M618.4 129.1h0M622.6 123.6h0M625.6 122.9h0M623.7 138.2h0M621.5 123.1h0M628.1 122.7h0M612.4 123.6h0M623.4 122.4h0M625.1 150h0M635.1 150h0"/><path fill="none" stroke="#8c8c8c" stroke-width="1.2" stroke-linecap="round" d="M593.8 83.1h0M591.5 94.5h0M596.9 97.6h0M598.9 93.2h0M595.5 97.7h0M589.9 96.6h0M592.9 133.7h0M588.8 132.2h0M591 135.3h0M584.2 104.7h0M591.9 81.4h0M596.1 89.4h0M586.9 81h0M586.5 90.7h0M586 94.4h0M597.6 90.2h0M594.6 88.9h0M602.1 99.4h0M595.9 82h0M583.7 99.9h0M590.2 71.2h0M594.8 97.7h0M597.3 83.4h0M595.9 84.5h0M591.5 90.4h0M595.2 105.4h0M597.1 80.4h0M590.1 138.9h0M594.2 132.4h0M592.6 136.1h0M596.2 142.4h0M587.7 139.8h0M615.3 91.4h0M618.6 92.8h0M626.6 76h0M627.1 94h0M618.6 86.6h0M625.2 88.9h0M619.4 78.3h0M623.5 83.7h0M629.5 88h0M612.5 97.2h0M618.3 92.6h0M623.1 92.7h0M616.7 97h0M615.7 77.5h0M618.6 97.6h0M618.7 79.7h0M620.2 76.2h0M625.8 99h0M626.9 90.8h0M627.5 98.2h0M622.2 96.3h0M618.4 90.7h0M621.4 81h0M618.9 96.4h0M629.3 98.8h0M624.4 129.8h0M623.2 130h0M622.6 131.1h0M617.9 130.1h0M621.5 146h0M619.9 136.4h0M624.7 138.7h0M627.8 137.9h0M623.1 141.8h0M620.6 140.3h0M619.9 89.4h0M617.1 75.6h0M624.7 69.3h0M617.9 80.7h0M615.4 78.4h0M621.4 75.3h0M619 77.5h0M622.4 104.3h0M631.7 105.9h0M618 89.8h0M622.4 93.2h0M617.5 103.7h0M612.7 105.7h0M622.9 74h0M615.8 97.6h0M618.8 70h0M615.1 71.9h0M615.5 103.5h0M619.5 97.6h0M618.1 103.5h0M622.4 105.8h0M618 97.9h0M617 99.3h0M624.3 102.3h0M616.9 90.1h0M614.6 92.6h0M623.3 90.7h0M613.4 76.2h0M640.8 95.9h0M616.2 100.7h0M620 93.2h0M615.4 101.7h0M619 79.4h0M623.5 87.4h0M615.7 96.6h0M618.7 80.7h0M625.8 95h0M620.6 93.8h0M625.4 76.7h0M617.9 67.7h0M614 93h0M629.1 74.3h0M622.4 75.5h0M620.1 74h0M616.7 88.5h0M625.3 138.8h0M615.5 130.6h0M617.5 132.8h0M622.4 123.1h0M621.2 128.3h0M627.1 139h0M620.8 141h0M613.6 129.6h0M617 132h0M622.2 134h0"/><rect x="550.2" y="47.6" width="116.6" height="135.2" fill="none" stroke="#6e6e6e" stroke-width="1.1"/><line x1="575.4" y1="182.8" x2="575.4" y2="185" stroke="#333" stroke-width="0.8"/><text x="575.4" y="193" font-size="7.9" fill="#4d4d4d" text-anchor="middle">−50</text><line x1="608.6" y1="182.8" x2="608.6" y2="185" stroke="#333" stroke-width="0.8"/><text x="608.6" y="193" font-size="7.9" fill="#4d4d4d" text-anchor="middle">0</text><line x1="641.8" y1="182.8" x2="641.8" y2="185" stroke="#333" stroke-width="0.8"/><text x="641.8" y="193" font-size="7.9" fill="#4d4d4d" text-anchor="middle">50</text><text x="555.2" y="60.3" font-size="9.2" fill="#000" stroke="#000" stroke-width="0.18" textLength="79" lengthAdjust="spacingAndGlyphs"><tspan font-style="italic">cor</tspan> = -0.05, <tspan font-style="italic">P</tspan> &lt; 0.001</text><rect x="671.3" y="33.2" width="116.6" height="14.4" fill="#d9d9d9" stroke="#7a7a7a" stroke-width="0.9"/><text x="729.6" y="43.7" font-size="7.3" fill="#1a1a1a" text-anchor="middle">Downstream</text><rect x="671.3" y="47.6" width="116.6" height="135.2" fill="#fff"/><line x1="671.3" y1="115.4" x2="787.9" y2="115.4" stroke="#000" stroke-width="1"/><line x1="729.6" y1="47.6" x2="729.6" y2="182.8" stroke="#000" stroke-width="1"/><path fill="none" stroke="#8c8c8c" stroke-width="1.2" stroke-linecap="round" d="M707.6 109.2h0M717.7 122.8h0M705.2 118h0M709.2 118.1h0M724.5 109.3h0M711.9 113.1h0M708.9 115.9h0M724.2 119h0M706.6 116.1h0M714.1 119.6h0M713.7 109h0M714.4 114.4h0M718.3 112.9h0M713.4 114h0M709.9 115.1h0M715.4 118.9h0M719.5 119.6h0M718.3 113.9h0M712.4 111.5h0M706.6 114.4h0M711.1 112.6h0M711 109.8h0M722.1 104.7h0M720.1 116.7h0M703.6 123h0M716.8 109.7h0M697 113.9h0M706.5 110.1h0M725.3 110.4h0M710.5 119.1h0M695.1 114.3h0M705.7 119h0M722.3 118.2h0M720.3 116.6h0M708.2 125.6h0M714.9 110.8h0M724.2 112.6h0M723.3 115h0M711.2 113.7h0M710.8 114h0M709.7 112.4h0M706.9 113.9h0M717.1 115.7h0M710.5 113.8h0M720.8 107.7h0M717.2 115.1h0M715.4 111.3h0M715.6 116.2h0M723.6 118.7h0M719.5 118h0M715.5 119.4h0M696 124.2h0M710.5 117.7h0M716.6 112.1h0M708.8 114.3h0M707.6 120.8h0M683.1 113.7h0M705.5 114.4h0M716.5 113.7h0M715.9 111.4h0M697.3 115.3h0M706.9 118.8h0M711 110.5h0M711 113.5h0M707.3 112.2h0M712.7 107.9h0M707.6 109.7h0M701.3 116.7h0M722 113h0M707.7 108.4h0M703.3 120.1h0M706.4 108.7h0M715.9 113.3h0M715.2 116.5h0M715.3 115.2h0M710 107.3h0M707.6 115.9h0M718.2 114.3h0M720.4 115.4h0M725.6 117.3h0M701.5 116.7h0M716.5 113.5h0M715.6 118.3h0M724.6 117.8h0M709.2 121.4h0M706.2 119.6h0M700.2 117.2h0M712.2 112.4h0M713.8 113.2h0M696.9 119.6h0M686.5 109.8h0M717.1 112.7h0M722.1 109.1h0M699.8 111.8h0M714.1 110h0M707.5 109.6h0M707 113.6h0M709.9 114.6h0M719.4 115.7h0M713.9 111.2h0M723.9 115.7h0M723.5 118.2h0M716.9 111.6h0M723.2 115.6h0M708 112.9h0M718.5 116.8h0M713.4 113.8h0M720.8 116.5h0M705.6 116.8h0M696.8 113h0M692.1 107.6h0M695.6 111.7h0M713.3 113.8h0M697.4 116.9h0M711.4 115.7h0M702.4 112.7h0M713.3 119.7h0M708.1 116.1h0M717.2 122.2h0M713.4 118.9h0M717.8 121.3h0M715.3 112.9h0M724.3 113.1h0M712.8 106h0M700.3 116.5h0M710.2 113h0M715.8 109.7h0M700.4 115.9h0M713 114.3h0M697.4 120.3h0M764.3 119.3h0M735.9 114.3h0M749.9 113.6h0M736.5 118.4h0M750.5 117.2h0M745.2 115.5h0M743.9 113.2h0M737.4 119.1h0M748.1 113.9h0M752.6 116.5h0M733.4 118.1h0M742.7 114.5h0M746.1 110.3h0M745.3 121h0M734.2 117.3h0M746.9 118h0M747 113.4h0M736.6 116h0M743.6 110.2h0M756.3 113.4h0M747 114.1h0M738 118.3h0M743.3 112.2h0M751.7 116.1h0M756.2 110.5h0M752.4 118.6h0M734.9 114.2h0M743.4 112.5h0M732.7 108.3h0M740.2 119h0M768.7 119.8h0M749.1 117h0M746.9 119.6h0M739 108.5h0M738.1 114.2h0M745.5 114.2h0M734.5 113.2h0M742.8 110.8h0M762.5 112.4h0M739.8 115.6h0M742.4 121.3h0M733.9 114.1h0M749 113h0M736 115.6h0M731.7 115.5h0M741.5 110.3h0M735.9 114.6h0M751.8 114.3h0M739.6 121.6h0M742.3 115.2h0M744.9 109.6h0M742.3 113.9h0M742.1 116.7h0M740.9 119.5h0M739.1 116.3h0M746.2 119.6h0M746.6 117.4h0M754.8 114.2h0M741.4 117.9h0M745.7 113h0M737.9 113h0M747.1 112.5h0M751.8 113h0M740.7 113.7h0M752.1 112.8h0M739.9 113.8h0M734.3 123.6h0M741.4 116h0M739.5 115.1h0M750.7 115.7h0M732 109.5h0M762.2 115.8h0M748.1 104.2h0M753.4 119h0M750 117.5h0M755.1 116.8h0M740.7 119h0M751.2 115.7h0M732.1 115.3h0M748.4 120.8h0M738.7 115.2h0M760.5 114.7h0M741.9 110.6h0M747.5 115h0M743.8 120h0M739.8 123.3h0M747.7 116.6h0M748.4 111.8h0M743.4 117.8h0M744.7 119.7h0M742 114.1h0M748.7 114.9h0M746.1 114.5h0M747.5 112.4h0M745.2 119.6h0M749.1 111.6h0M760.5 116.7h0M742.1 117.6h0M742.8 115.1h0M759.1 113.6h0M758.2 120.7h0M757.1 117.3h0M745.9 116.1h0M741.6 111.2h0M734.4 114.7h0M732.1 114.2h0M744 112.6h0M739.5 121.6h0M739.5 115.3h0M732.3 115.7h0M748.2 122.2h0M773 116.5h0M758.2 118h0M747.3 119.7h0M752.5 118.1h0M734.9 119.2h0M740.3 115.3h0M769 119.4h0M751.3 125.7h0M756.5 122h0M749.6 111.9h0M739 121.2h0M751 110.4h0M740.7 114.3h0M739.3 112.6h0M736.7 120.3h0M762.4 112h0M736.9 110.8h0M750.2 114.6h0M744.6 120.2h0M736.2 115.7h0M738 112.4h0M739.4 114.5h0M737.7 107.9h0M754.8 122.1h0M746.4 124.7h0M743.9 118.3h0M766.6 111.7h0M749.6 114.5h0M740.7 113.5h0M740.3 111.5h0M738.1 118.9h0M745.2 118.6h0M737 112.8h0M742 113h0M741.6 119.7h0M747.1 118.5h0M739.7 118.2h0M757.5 113.2h0M757.2 114.1h0M734.8 113.4h0M736.8 111.9h0M748.9 110.5h0M756.3 120.4h0M756.4 116.6h0M750.4 117h0M734 114h0M752.4 111.4h0M744.7 119.7h0M746.9 115.3h0M746 119.1h0M761.1 113.4h0M743.9 115h0M766.1 119h0M753.6 114h0M744.1 108.6h0M754.3 116.7h0M742.8 115.5h0M733.8 116.6h0M742.6 121.7h0M735 112.9h0M743.3 107h0M733.8 110.4h0M732.4 109.6h0M745.5 116.4h0M750.3 115.4h0M737 115.2h0M743.5 116.5h0M757.4 115.7h0M746.6 111h0"/><path fill="none" stroke="#777" stroke-width="1.5" stroke-linecap="round" d="M702.4 112.1h0M714.4 112.2h0M714.2 118h0M719.5 112.4h0M710.5 116.2h0M715 115.5h0M714.3 115h0M714.9 114.9h0M713.4 116h0M709.4 113.3h0M711.8 112.8h0M718.9 115h0M713.1 114.1h0M708.3 114.7h0M710 118.6h0M714.3 114.7h0M717.6 112.3h0M707.2 112.8h0M717.2 116.9h0M717.6 112.4h0M711.6 111.4h0M713.9 118h0M709.8 120.8h0M705 110.1h0M711.2 113.9h0M695.1 116.7h0M714.4 116.5h0M710.3 112.3h0M705.2 114.7h0M723.3 113.2h0M715.2 114.8h0M711.4 113.3h0M705.6 118.7h0M716.9 114.8h0M715.2 118.2h0M710.3 109.3h0M715.4 119.1h0M707.5 110.5h0M709.9 109.5h0M702.3 115.9h0M707.6 118.9h0M708 112.4h0M710.2 114.2h0M709.5 112.7h0M704.7 114.6h0M703.4 118.2h0M722.9 119.8h0M707.1 114.1h0M711.5 113.2h0M722.9 114.6h0M711.5 120h0M717.7 118.8h0M702.5 110.4h0M712.8 117.8h0M708.5 110.4h0M705.7 117.3h0M718.3 111.1h0M714.6 118.6h0M718.7 120h0M709.3 116.3h0M718 118.9h0M710.3 113.7h0M708.8 115.6h0M710.5 115.7h0M713.3 118.7h0M711.2 109.6h0M718.3 118.2h0M705.4 118.7h0M704 120.6h0M713.8 115.2h0M711.8 115.2h0M713.7 111h0M713.3 115.8h0M714.8 112h0M716.3 113h0M709.9 114.2h0M707.6 112.7h0M701.9 111.4h0M713.2 114h0M714.8 114.6h0M717.1 114.7h0M706.2 120.9h0M709.7 114.8h0M710.1 117.9h0M706.1 116h0M712.1 119.1h0M705.6 120h0M710.2 117.8h0M709.5 117.7h0M711.8 114.2h0M704.2 116.8h0M717 117.6h0M710.2 111.5h0M709.7 111.1h0M702 112.8h0M700.9 115.2h0M713.5 113.7h0M716.4 118.4h0M719.9 110.6h0M713.8 110.3h0M709.4 112.6h0M708.3 114.8h0M710.6 114.9h0M711.4 118.7h0M712.5 110.9h0M712.5 117.7h0M720.7 114.6h0M703.8 110.2h0M707.3 113.4h0M710.6 115h0M718 115h0M704.4 118.2h0M718.3 114.3h0M712.3 116.3h0M713.9 120.9h0M710.7 118.6h0M707.6 113h0M713.5 112.1h0M708 119.2h0M719.1 117.8h0M719.2 110h0M705.1 114.4h0M715.4 117.8h0M706.2 112.8h0M704.9 113.7h0M714.8 113.1h0M714.7 113.1h0M716.4 117.8h0M709.6 117.9h0M712.9 116h0M712.6 116h0M708.4 116.4h0M713.8 112.3h0M703.1 115.9h0M707.4 116.6h0M722 119.3h0M706.8 119.4h0M712.1 115.6h0M715 116.9h0M710.4 119.7h0M713.4 111.8h0M714 117.8h0M721 114.4h0M702.5 115.5h0M698.9 113.9h0M716.5 116.6h0M719.5 112.6h0M717.6 111.1h0M716.5 117.5h0M708.2 113h0M711.2 116.6h0M704 115.2h0M710.3 118.3h0M708.5 114.8h0M711.3 113h0M708.3 116.9h0M709.2 114.4h0M712 117.2h0M707.9 115.5h0M715.4 112.3h0M705.5 112.2h0M713.8 113.4h0M720.3 109.9h0M716 114.2h0M705.3 118.1h0M700.3 112.3h0M713.9 110.1h0M715.6 117.7h0M709.7 118.2h0M710.7 113.7h0M709.4 115.4h0M702.9 116.9h0M716.4 119.7h0M710.3 113.9h0M722.6 118.1h0M702.1 115.3h0M717.6 114.2h0M711.2 117.7h0M710.4 115.9h0M714 117.6h0M716 114.9h0M713.5 118.8h0M709.6 115.8h0M717 110.2h0M716.7 117.7h0M715.9 114.3h0M706.8 116.6h0M709.6 112.2h0M707.7 111h0M713.6 117.4h0M706.1 116.8h0M707.9 112h0M715.2 113.1h0M709.9 116.5h0M713.5 114h0M704.1 113.3h0M701.9 115.1h0M712.3 113.4h0M712.1 115.5h0M708.6 114.6h0M708.5 113.9h0M709.7 118.8h0M703.8 113.4h0M713.6 119.3h0M707.6 111.9h0M716 116.8h0M710.9 112.4h0M711.6 110h0M715.6 111.2h0M710.9 112.1h0M716.9 117.1h0M714.5 119.6h0M712.1 114.7h0M713 116.8h0M706.3 117.5h0M712.9 110.5h0M716.3 119.7h0M704.4 116.6h0M703.7 114.6h0M716 113.6h0M713.2 113.8h0M713.6 116.7h0M716.4 117.4h0M716.7 119.8h0M706.6 113.1h0M709 115.2h0M716.5 113.1h0M703 117.1h0M715.6 118.2h0M706.3 112.1h0M715.5 111h0M712.7 118.4h0M711.5 111.9h0M718.1 116.4h0M721.2 117.6h0M705.3 119.1h0M715.4 120.9h0M713.6 111.8h0M712 120.2h0M711.3 112.1h0M709.1 111.8h0M713.6 112h0M715.3 113.3h0M712.3 114.3h0M705.5 117.9h0M711.1 113.9h0M714 117.7h0M717.6 118.8h0M719 117.2h0M707.3 110.7h0M717.8 117.3h0M710.6 118.1h0M701.8 116.1h0M704.2 111.5h0M713.3 118.5h0M704.8 115.8h0M700.3 117.2h0M712.3 114.2h0M718.9 113.9h0M720.7 114.4h0M710.5 115h0M705.3 110.6h0M708.9 110.2h0M709.4 116.8h0M706.9 119.2h0M717.5 116.9h0M715.9 109.9h0M708.9 116.5h0M709.9 114.7h0M705.5 114h0M711.3 112.4h0M708.2 115.2h0M717.5 113.4h0M704.6 111.5h0M717.6 119.3h0M714.7 118.8h0M711.3 118.8h0M716.3 110.2h0M711.9 111h0M722.5 114.6h0M707.5 119.3h0M705.7 118.3h0M717.7 111h0M719.5 119.2h0M705.3 111.1h0M710.4 109.8h0M718 113.6h0M722 116.6h0M704.3 112.5h0M716.2 111.5h0M722.5 110.4h0M705.6 116.1h0M709.7 118.3h0M711.2 119.2h0M711.2 116.4h0M705.1 116h0M711.1 117.2h0M722.5 118.1h0M710.2 114.4h0M713.1 114.7h0M706.6 116.7h0M712.7 117.9h0M699.2 116.1h0M710.3 113.6h0M710.2 111h0M719.7 118h0M711.5 114.8h0M716.7 109.3h0M710.8 119.9h0M705.9 118.7h0M719.9 118.2h0M707 111.2h0M718.9 114.1h0M706.7 117.8h0M712.7 118.2h0M719.3 114.9h0M701.6 113.1h0M702.4 110.6h0M718.7 113h0M718.7 111.6h0M713.1 109.4h0M712.3 117.9h0M709.5 113.1h0M712.4 109.2h0M706.4 116.2h0M706.4 119.7h0M716.6 120h0M709.9 111.4h0M708.1 113.6h0M705.8 120.2h0M715.4 114.3h0M707.7 119.4h0M712.4 112h0M716.9 119.1h0M708 115.5h0M713.1 116.1h0M712 112.3h0M711.6 114.6h0M709.5 113.3h0M713.1 111.7h0M716.8 118.3h0M718.9 116.3h0M722.6 113.2h0M710 110.4h0M717.2 111.9h0M706.4 114.1h0M709.2 111.6h0M708.8 116.9h0M704.3 116.5h0M711.1 113.8h0M718.5 111.3h0M720 115.7h0M714.5 116h0M716.1 114.8h0M705.3 119.5h0M706.5 117.8h0M708.2 118.4h0M714.5 115h0M709.5 115.2h0M715.8 113.9h0M741.4 115.7h0M743.1 117.7h0M739.9 114.8h0M754.5 117h0M745.6 116.4h0M744.3 115.5h0M737.6 118.3h0M738.7 112.8h0M743.4 111.8h0M746.3 110.7h0M741.3 115.5h0M743.6 111.9h0M748.4 110.6h0M741.7 109.7h0M744.3 117.5h0M743.8 115.4h0M736 113.8h0M742.2 115.8h0M745.3 116.2h0M735.7 112.4h0M741.8 115.2h0M734.1 117.5h0M742.7 119.6h0M739.8 115.6h0M736.6 117.1h0M742.2 111.7h0M738.5 112.4h0M736.9 118.4h0M749.8 114.3h0M747.1 113.6h0M745.5 117.8h0M742.5 114.2h0M744.5 116.6h0M741.7 119.5h0M736.5 120.1h0M739.2 118.8h0M754.2 116.5h0M738.1 120.1h0M745.9 113.2h0M736.8 119.2h0M734.1 117.7h0M740.8 114.2h0M737.1 118.2h0M742 110.1h0M744 113.5h0M733.2 118.1h0M743.1 113h0M742.7 117.7h0M749.3 119h0M743.5 113.6h0M742.3 111.5h0M743.6 118.5h0M739.7 119.9h0M740 113.6h0M742 119.7h0M742.9 116.4h0M741.8 120.3h0M755.1 119.4h0M734 113.8h0M739.3 113h0M747.5 117.4h0M747.8 115.7h0M746.8 119.7h0M751.7 113.9h0M747 115.5h0M743.1 116h0M744 116.1h0M744.9 119.1h0M743.2 110.9h0M742.7 119.8h0M744.7 116.6h0M746.6 110.8h0M745.7 111.5h0M744.8 110.7h0M748.7 117.7h0M745.2 115h0M737.8 113.5h0M739.5 119.1h0M739.4 114.1h0M749.4 115h0M740.1 110.8h0M744.9 113.8h0M743.7 110.1h0M745.9 118.1h0M738.8 114.8h0M735.9 116.8h0M755.1 116.2h0M753.9 117.7h0M734.4 113.4h0M747.1 112.2h0M743.6 113h0M741.4 117.1h0M746.6 113.2h0M740.5 111.3h0M748.2 116.9h0M749 118.5h0M742.6 113.4h0M737.5 116.3h0M750.3 119.4h0M736.7 113.3h0M735.3 111.9h0M733.8 120.4h0M740.8 118.7h0M742.8 117.8h0M734.2 114.5h0M736.8 113.9h0M743.1 118.8h0M748.2 110.8h0M742.8 114.9h0M747.7 117.2h0M738.3 110.7h0M745.8 116h0M746.1 115.7h0M747 111.7h0M748.7 113.4h0M738.3 117.8h0M742.8 113.6h0M738.1 111.6h0M743.5 114.4h0M745.2 112.7h0M742.3 110.8h0M742.5 120.1h0M744.6 115h0M746.1 111h0M750.6 116.2h0M741.6 115.4h0M735.5 116.4h0M739.1 111.6h0M747.7 113.7h0M739.1 109.8h0M745.6 117h0M736.6 111.8h0M745.7 119.2h0M745 116h0M743.2 119h0M741.2 114.2h0M735.1 114.2h0M739.9 117.3h0M743 117.1h0M743.6 114.2h0M740.3 110.4h0M744.5 113.4h0M737.4 115.2h0M740.9 117.8h0M743.4 114.8h0M736.1 117.1h0M745.7 115.2h0M743.4 113.2h0M752 117.5h0M749.1 114.7h0M747.1 111.5h0M743 115.1h0M740.6 119h0M743.9 117.3h0M733.1 114.5h0M747.7 111.9h0M737.9 115.3h0M738.7 110.2h0M736.1 110.2h0M743.2 117.7h0M735.2 111.7h0M745.8 113.4h0M751.8 118.8h0M748.9 113h0M743 120.5h0M745.7 117.4h0M744.9 114.2h0M747.6 114.2h0M735 114.1h0M737.3 112.7h0M734.4 117h0M741.1 112.9h0M737.6 109.5h0M740.6 117h0M746.4 111.9h0M751.4 118.1h0M750.8 115.5h0M740.9 111.5h0M735 120.1h0M743.8 116.3h0M733.2 111.5h0M746 110.6h0M741.7 110.7h0M757.9 114.1h0M740 119.7h0M749.9 117.2h0M737.6 118.9h0M743.3 117.6h0M746.1 117.8h0M744.4 111.5h0M741.5 116h0M747 117.2h0M751.5 115.2h0M754 114.8h0M755.9 115.1h0M734.1 117.6h0M741.2 117h0M743.2 113.7h0M745.5 120.3h0M743.2 115.4h0M737.9 119.7h0M739.7 111.4h0M753.9 119.9h0M741.4 119.3h0M753.3 118.8h0M743.8 115.4h0M750.5 109.7h0M735.9 115.3h0M741.4 119.7h0M751.6 119.3h0M753.8 119.5h0M747.1 116.9h0M747.7 114h0M746.9 116.3h0M740.3 113.1h0M741 112h0M743.6 119h0M755.9 109.7h0M741.2 109.1h0M749.4 115.5h0M738.7 117.3h0M748.6 114.3h0M743.6 116.6h0M745.6 117.6h0M741.1 118.5h0M743.9 112.1h0M757.7 114h0M742.5 114.7h0M738.7 113.6h0M750.2 113.9h0M740.9 114.2h0M747.8 115.5h0M742.3 109.9h0M750 111.3h0M741.3 114.6h0M741.1 112.6h0M751.7 112.3h0M737.6 116.8h0M733.9 112.1h0M744.6 119.3h0M737.2 111.2h0M738.8 110.3h0M750 120.4h0M745 114.6h0M747.8 120.8h0M739.2 116.9h0M741 113.3h0M743.5 115.5h0M735.9 117.5h0M750.9 117.9h0M745.9 118.3h0M740.5 115.5h0M741.1 111.4h0M746.9 113.9h0M742 113.5h0M741.1 114.7h0M740.7 116.5h0M748.9 115.3h0M735 112.6h0M747.2 112.4h0M740.1 114.2h0M748.4 117.9h0M745.6 113.7h0M748.4 112.4h0M755.2 111.1h0M749.7 119.1h0M738.8 118.1h0M740.1 116.6h0M742.5 117.5h0M745.9 116.3h0M744.7 118.9h0M746.5 111h0M749.6 119.9h0M745.5 115.4h0M739.8 115.5h0M737.8 113.2h0M749.2 109.6h0M740.5 115.3h0M749.3 120h0M740.9 114.6h0M744.7 114.2h0M740.7 120.8h0M752.1 113.7h0M738.7 113.8h0M741.9 113.4h0M748.3 115.5h0M741.7 117h0M743.9 116.6h0M741.6 114.4h0M745.8 119h0M738.6 119.9h0M748 115.4h0M747.1 113.4h0M746.3 115h0M741.7 113h0M734.1 116.5h0M737.8 116.3h0M735.2 116.2h0M737.5 112.9h0M747.9 109.5h0M750.4 119h0M739 119.5h0M747.1 111.8h0M736 112.8h0M745.3 114.7h0M749 115h0M749.1 118.1h0M735.7 114.3h0M747.8 117.4h0M747.8 116.9h0M746 114.3h0M746.6 115.4h0M737.4 115.8h0M740.9 118.3h0M739.4 115.4h0M738.3 118.8h0M739.8 113.2h0M741.2 111h0M739.8 115.5h0M742.5 118.4h0M739.3 117.4h0M746.2 118.1h0M744.4 114.8h0M736.8 114h0M753 120.9h0M746.7 111.8h0M743.5 112.6h0M746.3 111.3h0M747.4 109.6h0M735.7 120.2h0M747.6 119.4h0M744.4 116.4h0M737.3 116.5h0M740.5 117.6h0M736.2 118h0M744.3 113.6h0M738.4 117.4h0M745.6 114.6h0M740.7 118h0M743 117.4h0M740.2 117.1h0M740 115h0M742 116.2h0M737.7 115.8h0M741.4 119.8h0M741.8 116.7h0M755.3 113.1h0M743.2 111.8h0M741.2 109.7h0M748.1 112.8h0M746.2 117.8h0M742.4 118.3h0M752.6 120.2h0M738.5 113.6h0M744.1 112.3h0M748.6 111.7h0M738.3 118.4h0M748.7 114.2h0M743.1 113.6h0M752.7 119.2h0M737.9 113.2h0M740 114.3h0M744.2 113.2h0M735.7 109.1h0M742.6 115.2h0M746.4 112.4h0M740.1 114.7h0M754.1 116.8h0M745.6 117.5h0M750 112.3h0M733.7 119.3h0M740.5 119.3h0M738.8 113.8h0M740.7 114.4h0M734.7 120.5h0M744.8 113.9h0M750.5 111.9h0M736.6 113h0M742.3 114.3h0M740.1 116.8h0M736.9 112h0M736.6 114.6h0M749.9 112.5h0M743.1 120.8h0M747.1 118.7h0M743.6 120.6h0M750.1 112.2h0M748.4 115.7h0M738.9 112.3h0M748.4 112.8h0M742.1 115.6h0M740.6 109.5h0M745.7 118.8h0M736.7 109.9h0M741 113.8h0M745.4 118.6h0M743.3 120.9h0M741 112.7h0M749.6 109.6h0M752.8 119h0M738.5 119.8h0M741.1 116.1h0M737 114.8h0M745.9 118.6h0M736.8 119h0M733.2 110.4h0M751.8 115.1h0M741.3 111.4h0M745.3 111.4h0M737.2 114.3h0M744.5 119h0M747 118.5h0M750 114.3h0M739.7 116.2h0M739.4 117h0M744.6 119.2h0M747.9 118.2h0M737.6 110h0M745.5 115.3h0M736.3 117.2h0M742.5 115.2h0M746.7 117.9h0M735.3 115.9h0M738.6 113h0M741.8 113.9h0M748.8 116.1h0M742.9 112.7h0M747.3 120.5h0M745.9 120.9h0M745.9 113h0M738.4 119h0M741.8 116.8h0M735.9 112.9h0M742 111.5h0M741 111.8h0M744.7 114.9h0M750.5 117.6h0M750.8 119.4h0M736.1 111.4h0M737 112.6h0M752.1 117.6h0M738.9 120.4h0M740.2 116.9h0M747.3 111.2h0M743.4 114.1h0M743.6 114.9h0M736.2 114.5h0M737.8 112.5h0M735.6 120.4h0M752.5 116.4h0M736.3 119.6h0M739.6 110.9h0M757.5 117.5h0M743.2 117.7h0M739.2 115.7h0M746.4 115.5h0M742 119.4h0M739.1 114.1h0M748.6 114.5h0M750.7 118.7h0M737 116.4h0M742 114.8h0M733.8 113.1h0M745 115.7h0M746.6 117.5h0M750.8 114.1h0M740.2 115.7h0M753 109.5h0M752.1 116.7h0M742.6 115.2h0M740.6 110.5h0M742.5 116h0M740.4 119.8h0M738.2 113.5h0M743.7 112.3h0M746.5 113.1h0M747.7 113.5h0M741.4 115.7h0M737.9 114.2h0M741.9 116.6h0M751.8 120h0M739.5 113.2h0M746.7 114.6h0M745.9 110.8h0M743.8 110.4h0M736.1 109.2h0M737.1 119.4h0M734.1 117.4h0M745.1 115.3h0M746.3 112.9h0M741.6 117.8h0M745.2 117.8h0M738.1 112.8h0M741.4 113.6h0M748.7 117.6h0M743.6 116.2h0M742 114.7h0M746.1 116.8h0M743.1 113.6h0M749.1 115.4h0M750.5 113.1h0M737.5 111.7h0M739 114.3h0M745.5 114.9h0M741.4 114h0M745.5 110.3h0M743 115.7h0M743.7 115.4h0M735.4 110.5h0M742 114.2h0M739.8 112.4h0M739.6 110.5h0M733.9 116.3h0M735.2 114.2h0M751.4 117h0M744.2 114.5h0M742.7 114.8h0M746 113.3h0M745.7 117.1h0M752.6 114.1h0M737.4 114.8h0M743.2 112.6h0M749.8 112.6h0M741.1 112.1h0M741.5 115.2h0M742.4 115.6h0M741.1 115.2h0M747 119.9h0M739.9 119.8h0M744.1 119.8h0M747.5 117.1h0M743.7 114.5h0M739 118.2h0M741.6 112.8h0M740.9 112.8h0M744.6 114.7h0M738.5 111h0M741.5 114.7h0M743.2 115.6h0M749 117.3h0M743.9 116.6h0M740.2 113.2h0M739.9 116.5h0M741.7 111.2h0M738.5 115h0M745.7 109.9h0M736.4 109.4h0M745 115.5h0M742 118.2h0M745 118.4h0M743.4 112.6h0M746.1 120.2h0M747 118.4h0M736.4 112.8h0M735.1 110h0M748.5 113.4h0M744 116.6h0M745.8 113.9h0M740.3 113.4h0M754.5 114h0M746.9 110h0M746.9 109.7h0M736.3 112.1h0M745.9 115.4h0M749.4 111.9h0M752.8 118.8h0M742.8 116.6h0M737.4 115.8h0M740.5 111.1h0M738.2 115.2h0M743.9 118.8h0M736.3 117.3h0M734.7 111.7h0M742.6 111.5h0M738.5 113.7h0M749.4 116.5h0M745.9 110.9h0M749.8 116.2h0M740 115.2h0M751.8 114.5h0M737.7 115.3h0M741.1 116.9h0M748.3 116.3h0M750.7 115h0M738.8 109.4h0M746.9 111.7h0M743.7 113.9h0M746.8 112.9h0M735.3 116.7h0M735.6 116.1h0M738.2 113.7h0M737.6 110.4h0M746.3 117h0M735.7 115.7h0M745 112.3h0M746.5 110.9h0M737 115.7h0M733.9 119.7h0M745.7 114.1h0M744.8 109.6h0M734.2 113.8h0M742.7 118.3h0M748.5 114.6h0M734.2 116.8h0M739.7 118.6h0M734.4 116.8h0M738.9 116.8h0M736.7 114.6h0M741.4 114.7h0M744.5 117.9h0M742 117.2h0M743.7 112.5h0M735.7 115.2h0M737.2 117.1h0M739.8 112.7h0M739 113.6h0M744.8 111.1h0M744.8 116.2h0M744.5 114.4h0M748.7 120.6h0M739.2 110.4h0M743.5 110.9h0M739.9 120h0M744.2 118.4h0M745.5 111h0M740.8 117h0M746.2 110.6h0M735.5 117.7h0M741.5 120.3h0M747.9 114.4h0M747 113.4h0M737 111.1h0M742.8 110.9h0M748 113.8h0M743.1 116.1h0M742.5 111.3h0M746.9 113.6h0M747.2 112.9h0M738.2 109.1h0M745.6 116.3h0M743 119.4h0M742.4 109.9h0M740.4 114.9h0M743.2 112.9h0M753.1 113.9h0M739.3 111.1h0M744.5 115.2h0M748.1 119.3h0M750.9 113.6h0M737.9 116.1h0M741.6 114.2h0M743.3 114.1h0M751.4 120.4h0M749.8 114.2h0M745.1 116.8h0M746.8 118.4h0M747.4 110.9h0M742.1 113.7h0M741.5 113.7h0M748.2 116.7h0M746.8 114.6h0M736.7 110h0M738.3 112.5h0M734.7 116.8h0M743.6 114.8h0M743.7 112.4h0M751.1 117.2h0M737.4 112.6h0M740.4 118.2h0M737.6 118.7h0M735.6 113.6h0M735.1 112h0M749.9 118.5h0M750.1 110.4h0M734 115.4h0M734.3 119.3h0M747.7 119.2h0M742 112.9h0M754.1 117.4h0M748 113.1h0M744.8 113.3h0M735.9 117.3h0M739.8 115.1h0M746.7 114.9h0M747.4 114.3h0M737.8 117.5h0M742.7 109.3h0M739.8 118.3h0M739.8 114.2h0M736 114.3h0M742.3 116.9h0M737.9 116h0M744.3 117.4h0M738.9 119.9h0M742 115.4h0M744.6 119.1h0M736.6 120.7h0M741.2 117.3h0M746.4 110.7h0M736.8 118.8h0M736.9 111.4h0M744.5 117.4h0M740.9 116.9h0M745.4 109.1h0M742.8 116.2h0M749.7 117.3h0M754.8 113.5h0M746.9 110.4h0M750.4 114.7h0M745.6 110.2h0M741.8 113.9h0M753.3 111h0M743.9 119.2h0M742.2 112.6h0M736.1 113.2h0M733.8 111.2h0M736.5 120.6h0M743.7 113.6h0M741.7 113.6h0M738.1 110.8h0M752.1 113.4h0M749 109.4h0M749.3 118.8h0M751 119.1h0M740.4 114.7h0M744.2 116h0M736.9 118.8h0M747.3 117.8h0M740.5 114.4h0M744.4 110.3h0M738.8 109.4h0M741.9 113.7h0M738.2 110.8h0M736.1 115.9h0M736.8 110h0M743.6 115.5h0M736.8 115.2h0M735.4 115.7h0M741.5 115.9h0M745.4 118.3h0M741.6 113.7h0M740.6 113.8h0M739.6 111.5h0M742 112.4h0M739.9 117.7h0M739.7 117.4h0M742.1 113.7h0M746.6 110.3h0M736.5 119.2h0M744.9 113.8h0M741.3 113.9h0M745.5 112.5h0M745.6 118.2h0M739.4 113.4h0M742.2 112.3h0M737.4 118.1h0M741.6 119.4h0M735.4 115.8h0M741.5 118.9h0M744.6 117h0M740.2 116.4h0M751.1 115.5h0M738.1 120.1h0M738.5 117.1h0M738.9 116.5h0M737.5 117.6h0M744.4 114.8h0M751 115h0M738.8 116h0M750.8 114.4h0M748.9 113.1h0M737.4 115h0M738.1 116.8h0M753.4 110.5h0M741.9 112.6h0M740.9 118h0M752.1 112.1h0M742.8 117h0M749.4 120.9h0M735.8 118.3h0M740.1 119.4h0M753.1 112h0M744.9 116.5h0M738.9 117.3h0M751.1 114.7h0M743.1 119.1h0M741.9 114.8h0M741.1 117.1h0M742.5 109.8h0M740.6 115.6h0M755.8 117.4h0M741.4 117h0M740.3 120h0M734.3 117.4h0M738.2 111.3h0M753 119.3h0M745.3 112.8h0M748.1 117.6h0M745.6 115.7h0M738.2 114.8h0"/><path fill="none" stroke="#f00" stroke-width="2.0" stroke-linecap="round" d="M714.3 105.2h0M715.7 98.7h0M711.7 88.6h0M718.4 105.8h0M711.3 104.4h0M714.2 95.6h0M709.1 102.9h0M705 104.4h0M712.8 103.8h0M706.7 107.5h0M716.2 98.4h0M717 108.3h0M706.1 99.8h0M720.2 104.3h0M708.7 104.5h0M708.5 99.5h0M715.9 106.4h0M708.1 104.5h0M702.1 101.2h0M712.3 106.9h0M709.1 103.4h0M717.8 102.2h0M711.3 107.4h0M715.1 105.9h0M716.2 106.8h0M711.2 104.1h0M702.9 107.5h0M716.2 97.7h0M716.2 108.1h0M721.2 108.2h0M713.2 108.2h0M717.3 106.9h0M710.4 104.9h0M714.2 100.6h0M713.5 108.4h0M716.9 103.1h0M712.5 87h0M701.1 103.5h0M717.3 93.4h0M720.6 108.2h0M711.7 107.3h0M713.7 92.7h0M716 102.9h0M715.5 107.5h0M707.2 82.1h0M708.4 107.8h0M713.1 107.3h0M708.6 108.4h0M707.8 105.3h0M706.7 104.8h0M708.9 98.1h0M720.5 103.2h0M717.9 101.1h0M704.8 103.7h0M708.6 105.3h0M715.8 106h0M698.2 107.4h0M716 99.2h0M712.8 85.4h0M712.9 107.7h0M710 103.2h0M714.7 81h0M706.2 106.2h0M711.8 105.3h0M714.9 88.6h0M714.6 102.4h0M708.4 94.6h0M713.7 93.9h0M717.3 107.5h0M714.7 99.1h0M721.1 93.1h0M721.6 100h0M720.9 106.2h0M715.1 90.6h0M706 107.9h0M713.6 107h0M708.4 99h0M707 104.8h0M721.9 95.6h0M718.1 107.8h0M717.4 93.9h0M722.4 108.2h0M704 101.1h0M713.6 102.6h0M712.2 105.9h0M715.5 107.9h0M714.8 102.6h0M712.2 105.4h0M714.3 104.7h0M708.6 105.3h0M714.7 106.1h0M718.3 107.3h0M715.3 107.1h0M705.7 106.2h0M707 101.8h0M717.6 100.9h0M710.8 103.6h0M712.4 99.3h0M722.4 101.2h0M721 100.9h0M706.3 122.4h0M713.1 129.8h0M720.2 127.2h0M714.2 128.6h0M715.5 124.1h0M712.2 125.1h0M716.3 123.4h0M708.7 122.5h0M716.7 128.3h0M711 121.8h0M705.3 122.4h0M714.6 123.8h0M709.8 129h0M712.7 122.3h0M703.4 123h0M711.7 124.5h0M707.1 121.7h0M701.4 122.1h0M709.6 122.2h0M705.2 127.6h0M705.7 121.8h0M708.1 130.8h0M717.3 126.1h0M718.9 128.4h0M718.5 127.9h0M722.8 122.6h0M716.6 122.4h0M708.1 123.9h0M710.5 124.9h0M710.7 122.8h0M711.6 125.9h0M711 129.8h0M700.7 122.4h0M710.1 127.2h0M707.2 123.6h0M723.3 122.9h0M713.4 126.2h0M713.9 122.3h0M707.9 129.9h0M718 121.7h0M720.9 123.7h0M706 125.4h0M712.2 124.3h0M711 127.9h0M714 130.1h0M710 122h0M714 139.6h0M705.8 122.2h0M705.1 122.1h0M711.5 121.8h0M707.5 127h0M709 122.5h0M714.8 123.4h0M705.4 128.5h0M721.8 123.5h0M712.2 139.7h0M710.3 128.6h0M710.5 122.4h0M707.2 126.6h0M709.8 123.1h0M712.8 125.5h0M711 132.6h0M712.1 123.6h0M710.7 123h0M716.1 122h0M708.6 123.7h0M719.7 122.2h0M713.4 122.7h0M709.7 123.3h0M719.8 121.9h0M747 97.1h0M746.4 108.3h0M736.8 105.6h0M738.4 91.3h0M736 101.1h0M736.9 98.3h0M748 105.4h0M746 99.9h0M747 107.1h0M735.5 107.1h0M750.1 107h0M744 95.2h0M747.9 105.5h0M739.4 108.2h0M751.9 99.9h0M737.9 107.6h0M743.8 102.8h0M747.1 94h0M738.5 104.5h0M741.6 106.3h0M733.5 106h0M745.2 100h0M743.7 95.9h0M744.9 88.2h0M742.9 105.8h0M734.9 106.5h0M751.5 108.4h0M745.5 104.8h0M749.7 107.9h0M734.4 98.9h0M738 99h0M742 99.1h0M733.5 107.6h0M747.6 100.6h0M746.2 99.6h0M742.4 96.9h0M739.3 105.7h0M736.6 107.8h0M746.2 103.3h0M738.2 104.4h0M751.8 95.2h0M742.3 107.2h0M740.2 106.2h0M743.4 101.2h0M734.9 94.9h0M733 104.4h0M744.8 106.7h0M742.6 103h0M734.2 107.4h0M741.1 92h0M744.1 105.6h0M741 97h0M749.8 107.7h0M745.4 95.6h0M737 104.2h0M733.6 106.7h0M742.6 106.3h0M745.7 107.9h0M747 101h0M740.6 96.4h0M756.9 103.1h0M741.2 105.4h0M740.9 94.2h0M749.3 97.5h0M742.2 107.6h0M749.1 108h0M740.5 103.7h0M739.8 107.6h0M746.5 85.5h0M745.3 108h0M744.2 90.6h0M748.3 99.9h0M746.9 99.4h0M737.4 107h0M741.9 86h0M743.2 106.9h0M749.3 108.2h0M744.8 102.1h0M738.1 95.4h0M746 103.4h0M743 105.7h0M750.2 99.3h0M756.8 94.6h0M735 107.8h0M747.1 104.4h0M736.7 101.7h0M735.2 97.1h0M742.9 99.7h0M742.2 104.7h0M746.5 100.5h0M737.9 99.6h0M741 94.2h0M736.6 106.1h0M738.7 104.6h0M739.5 104.2h0M745.1 91.7h0M733.7 107.7h0M754.6 106.5h0M753.9 98h0M743.4 107.4h0M748.8 104.6h0M746.6 103h0M751.1 91.8h0M735.9 105.2h0M744 101.8h0M742.9 104.1h0M742.1 107.9h0M742 91.8h0M737.1 108.1h0M742.4 106.7h0M737 104.4h0M739.1 107.2h0M745.4 90.2h0M749.7 96.6h0M743 79.2h0M741.6 108h0M747.1 103.7h0M748.6 77.1h0M739.8 103.3h0M750.1 106.1h0M739.8 103.5h0M744.4 98.2h0M750.1 99.5h0M741 104.9h0M742.2 88.2h0M744.4 81.8h0M747.4 104.7h0M747.5 92h0M752.9 95.8h0M736.5 105.8h0M746.4 97.6h0M736.8 107h0M748.2 105.4h0M741.9 101.6h0M752.5 101.8h0M739.3 101.6h0M739.5 103.8h0M745.8 81.6h0M735.6 108.2h0M739.7 96.7h0M746.6 91.5h0M744.8 108h0M733.8 98.9h0M734.5 105.7h0M741 103.7h0M744.8 95.2h0M750.1 90.7h0M748.4 94.2h0M745.5 106.4h0M740.5 105.3h0M745.2 90.8h0M741.4 102.5h0M735.5 105.3h0M747.9 87.4h0M745.5 107.8h0M737.7 107.5h0M750.6 101.6h0M749.5 96.3h0M746 102.9h0M736.7 103.1h0M740.3 94.7h0M758.9 102.9h0M746.6 104.3h0M751.5 98.5h0M735.8 101.7h0M747.1 106.2h0M740.8 93.6h0M742.3 107.8h0M752.2 104.4h0M741.4 100.3h0M737.2 89.7h0M750.2 104.4h0M742.4 83.8h0M742.1 104.3h0M735.9 107.4h0M739.4 107.3h0M754.9 107.1h0M736.6 99.7h0M741.5 78.4h0M747.7 101.9h0M740.7 97.3h0M751 89.4h0M749.2 101.6h0M748.6 107.2h0M740.4 79.4h0M743.9 106.2h0M738.2 103.6h0M740.2 97.8h0M747.7 86h0M744 106.5h0M748.2 104.5h0M741.6 100.6h0M744 106.1h0M746.3 93.4h0M752.9 103.8h0M747.9 95.4h0M745 99.9h0M739.5 99.3h0M741.1 97.4h0M743.4 90.9h0M746.7 96.5h0M736.6 103.1h0M758.9 101.5h0M747.1 100.5h0M744 106.1h0M735.8 106.2h0M749 98.3h0M742.9 86.8h0M745 101.1h0M741.3 98.1h0M749.6 107.5h0M736 107.3h0M739.4 85.5h0M747.8 100.9h0M737.3 104.9h0M741.6 103.4h0M739 107.5h0M749.1 106.6h0M738.4 104.2h0M735.7 107.9h0M737.5 100.4h0M747 102.7h0M740.2 101.8h0M744.5 94.9h0M752.2 107.8h0M741.5 77.1h0M741 103.5h0M749.9 97.3h0M741.3 97h0M748 99.6h0M735.3 102.6h0M742.1 107.5h0M744.7 105.8h0M747.3 107h0M739.2 99.2h0M743.8 81.3h0M750.2 98.9h0M746.8 102.5h0M750.8 107.2h0M741.5 93.8h0M745.6 105.5h0M741.4 105.6h0M741.1 108.3h0M735.8 108h0M742.7 106.8h0M747.4 85.8h0M745.6 89.2h0M735.4 106.3h0M744.6 108.1h0M740.5 104.8h0M740.1 93.2h0M734.7 97.8h0M739.2 105.7h0M742 95.8h0M744.8 104.5h0M740.9 105.8h0M747.4 90.3h0M748.1 98.4h0M741.6 85.5h0M746.3 107.7h0M753.2 108.2h0M742.2 107.5h0M741.3 101.7h0M738 108.2h0M738.7 108.2h0M741.1 101.6h0M740.5 85.5h0M734.2 102.3h0M739.4 98.7h0M750.8 103.8h0M739.9 107.7h0M734.6 104.9h0M753.8 107.4h0M744 107h0M739.9 100.9h0M751.1 106.4h0M749.1 106.8h0M742.7 107.5h0M736.2 102.5h0M739.6 103.3h0M745.8 94.2h0M744 87.8h0M745.8 88.4h0M755.6 101.5h0M743.5 96.1h0M747.1 101.4h0M747.7 91.9h0M737.1 92h0M744.4 105.1h0M738 104.2h0M735.5 98.3h0M737.4 107.5h0M739.9 100h0M741.3 102.4h0M741.9 104.1h0M734.6 96.3h0M738.4 100.1h0M746.9 97.1h0M744.3 100.2h0M743.6 106.4h0M736.8 105.2h0M749.4 100.7h0M745 97.1h0M742.9 105.8h0M735.6 100.3h0M737.4 102.6h0M751 106.3h0M744.8 91.3h0M744.7 100h0M740.5 100h0M749.1 106.6h0M741.6 100.8h0M740.1 101.9h0M739.1 93.4h0M745.3 90.7h0M750.7 102.8h0M748.5 106.9h0M733.2 105.1h0M739.9 88.2h0M751 100.7h0M749.5 94h0M744 90.1h0M746.7 107.3h0M735.3 96.5h0M736.2 107.6h0M744.1 107.9h0M745.1 93.6h0M748.6 89.6h0M754 108h0M741.5 107.1h0M743.7 97h0M746.9 95.3h0M737.2 103.2h0M744 100.1h0M744.4 106.4h0M741.1 90.3h0M743 95.1h0M747.8 94h0M741.5 102.9h0M746.9 94.1h0M751.5 107.2h0M739.5 106.5h0M747.5 96h0M745.5 107.1h0M737.1 92.6h0M739.7 91.7h0M744.8 106h0M739.7 102.4h0M748.2 105.9h0M746.9 95.2h0M747.5 128.4h0M740.2 127h0M742.2 130.1h0M742.3 134.7h0M746.3 125.2h0M748.9 129.1h0M743.5 122.8h0M738.3 127h0M741 124h0M741.9 131.2h0M736.7 125.2h0M738.7 135.6h0M749 126.1h0M740.7 124.3h0M741.3 127.4h0M749 131.6h0M745.6 128.5h0M744.3 122h0M740.1 124.2h0M754.3 122.4h0M737.7 128h0M751.6 128.2h0M740.6 121.7h0M736.1 128.3h0M743.6 137.2h0M746.4 123.1h0M740.7 130.3h0M743.9 140.9h0M742.5 133.9h0M742.3 122h0M740.2 122.3h0M742 133h0M744.6 126h0M746.9 125.7h0M744.2 123.5h0M745.1 125.7h0M734.4 128.1h0M740.9 134.3h0M745 125h0M742.6 122.2h0M737.5 126.5h0M741.4 123h0M744.3 130.6h0M739.5 132.4h0M750.4 123.4h0M743.3 133.1h0M749.6 123.4h0M752.6 122.2h0M741.8 124.7h0M746.6 125.4h0M745.9 124.2h0M743.6 131.6h0M746.8 123.3h0M737.7 129h0M745.7 128.8h0M741.2 126.4h0M745 124.6h0M742.7 125.7h0M747 122.1h0M747.9 132.5h0M754.4 135.3h0M746.1 130h0M750.6 127.6h0M736.2 126.3h0M754.1 131h0M747.9 128.8h0M752.4 122.2h0M742.7 124.7h0M742.2 129.1h0M750.8 123.3h0M739.2 127.1h0M745.9 124h0M748.7 127.9h0M747.3 126.2h0M744.1 132.5h0M738.7 130.7h0M750.5 121.9h0M748.6 126.2h0M750.7 125.8h0M746.2 123h0M748.1 126.9h0M746.9 121.7h0M751.5 124.3h0M737 127.9h0M742.7 130.4h0M738.6 125h0M742.7 125.6h0M743.9 139.9h0M741.8 126.1h0M746 137.4h0M738.4 130.6h0M743.1 126.3h0M746 130.4h0M734.8 125.7h0M741 140.5h0M741.9 122.5h0M734.1 131.5h0M752.2 123.3h0M753.9 121.7h0M738.3 123h0M741.3 122.5h0M736.4 134.5h0M738.5 138.9h0M739.9 128.3h0M747.4 128.6h0M739.9 126.9h0M741.4 125.9h0M747.2 133.2h0M741.3 126.7h0M749.9 126.1h0M736.7 125.6h0M741.8 133.6h0M738.2 136.6h0M746.3 142.1h0M743.6 121.7h0M746.9 125.5h0M737.9 127.5h0M739.4 124.4h0M748.4 134.2h0M746 130.5h0M735.1 126.5h0M735.6 128.2h0M743.6 123.3h0M747.4 129.6h0M744.5 123.6h0M737 131.7h0M741.3 130.6h0M746.7 128.1h0M736.7 123.1h0M742.1 137h0M745.4 122.9h0M744.7 123.9h0M741.9 122.5h0M737.6 125.2h0M739.6 122.5h0M743.3 131.5h0M746.2 139.6h0M740.6 129.7h0M739.7 127.8h0M745 127h0M739.9 122.6h0M748.7 126.9h0M755.2 122.3h0M753.3 124.1h0M749.2 127.8h0M744.7 123.8h0M739.7 126.3h0M739.9 125.8h0M753.3 123.7h0M738 121.8h0M738.8 127.9h0M741.1 124.5h0M738.1 135.5h0M744.9 142.1h0M746.9 121.8h0M743.3 127.2h0M749.3 125.6h0M745.7 122.4h0M735.6 129.4h0M741 127.8h0M739.8 123.8h0M741.3 122.5h0M742.4 133.6h0M736.3 128.2h0M741 124.3h0M747.4 122.7h0M744.4 130.1h0M742.2 127.1h0M742.5 129.6h0M747.2 127.1h0M746.2 132h0M737.9 123.8h0M741.3 122.8h0M744.1 122h0M739 135.6h0M734.2 131h0M745.5 135.5h0M744.9 133.5h0M737.8 130.6h0M744 123.7h0M753.9 125.4h0M744.3 122.3h0M735.2 122.1h0M740.6 126h0M750.1 127.6h0M736.2 127h0M747.4 121.6h0M746.3 139.1h0M750.3 132.4h0M741.5 125.2h0M743.5 134.5h0M748.7 124.5h0M736.2 122.6h0M751.1 126.3h0M748 122.4h0M744.4 122.4h0M750.5 125.7h0M742.6 133.4h0M744.8 126h0M734.9 123.5h0M740.6 122.9h0M744.5 123.1h0M743.9 135.1h0M742.7 129.1h0M748.6 121.9h0M756.6 122.2h0M742 133.3h0M735.4 122.1h0M743.2 136.7h0M744.8 133.5h0M742.5 129.6h0M750.1 122.3h0M740.3 139.6h0M744.8 125h0M741.7 125.7h0M739.1 126.7h0M736.9 125.2h0M738.1 121.9h0M741.9 137.1h0M741.3 129h0M737.5 126.9h0M741.8 131.3h0M742.1 132.4h0M748.7 122.2h0M751.9 124.4h0M744.4 122.2h0M737.8 130.3h0M743.9 121.7h0M738.7 130.2h0M742.5 134.3h0M749.3 132.4h0M745.2 133.4h0M747.4 122.1h0M737 124.7h0M744.7 127.3h0M737.8 121.9h0M734.7 124.2h0M743.6 124.6h0M753.5 122.8h0M745.1 122.6h0M741.8 122.3h0M744 127.7h0M736 123.2h0M740.8 128.2h0M748 125.8h0M742.1 135h0M743.8 136.2h0M742.5 125.2h0M741.8 124.1h0M747.7 128h0M747.3 122.6h0M737 134.1h0M745.4 126.4h0M745.6 124.8h0M748.6 122.1h0M744.5 126.3h0M749.9 125h0M749 132.9h0M742.6 124.9h0M746.9 132.8h0M740.6 130.5h0M748 124.8h0M747 124.7h0M739 128.7h0M740.8 130.6h0M749 130.4h0M743.3 132.2h0M746.2 122.7h0M747.1 128h0M744 123.6h0M737.9 128.8h0M744.6 127.2h0M738.6 127.8h0M741.2 122.4h0M734 122.5h0M742.3 138h0M743.5 128.5h0M735.3 128.5h0M746.7 130.1h0M740.8 122.3h0"/><path fill="none" stroke="#8c8c8c" stroke-width="1.2" stroke-linecap="round" d="M715.2 84.3h0M713.7 95.3h0M708.2 90.2h0M716.7 98h0M705.8 95.9h0M707 96.9h0M704.7 128.3h0M708.8 129.4h0M712 135.3h0M719.1 90.9h0M713.9 95.4h0M712 80.7h0M717.6 83.5h0M712.7 88.7h0M712.5 99.3h0M712.8 93.3h0M718.7 84.7h0M710.8 99.4h0M710.1 92.4h0M711.5 88.6h0M713.2 95.5h0M713.9 99.3h0M719 99.7h0M721.3 105.5h0M708.3 90.8h0M707.6 77.8h0M715.2 83.8h0M715.8 139.2h0M718.4 140.7h0M711.7 140.3h0M714.3 127.2h0M721.6 126.8h0M745 85.9h0M746.8 98.6h0M735.6 89.5h0M743 82.8h0M736.1 91.7h0M748.5 76.6h0M742.6 68h0M747.3 90.7h0M737.3 86.1h0M748 94.5h0M746.3 97.5h0M744.4 96.8h0M741.9 99.4h0M740.3 72.6h0M741.1 69h0M742.7 97.9h0M742.2 85.1h0M743.2 93.6h0M742.9 88.1h0M741.2 87.5h0M740.2 92.4h0M740 96.3h0M745.3 136.3h0M747.6 131h0M745.4 135.6h0M744.4 133.8h0M742.6 140.2h0M740.2 137.8h0M745.8 133.5h0M738.2 135.4h0M746 131.3h0M742.5 138.1h0M733.5 97.3h0M742 71.6h0M746.5 97.7h0M744.2 103.2h0M741.7 65.1h0M749.2 67.1h0M744.4 73.2h0M740.2 96.6h0M744.3 74.3h0M740.3 98.2h0M743 65.7h0M743 68.6h0M739.7 92.4h0M735.5 72.7h0M744.6 87h0M744 89.9h0M752.1 66.7h0M734.6 91.1h0M741.4 103.4h0M739.7 98.1h0M742.2 79.6h0M739.2 83.2h0M739.4 105h0M746.5 71.5h0M740.1 101.3h0M737.7 99.6h0M744.3 72.6h0M745 102.2h0M733 85.5h0M734.1 93.7h0M739.4 106.2h0M737 68.3h0M738.6 76.8h0M743.5 94.2h0M734.6 70h0M743.5 99.8h0M741.1 83.4h0M742.2 95.1h0M743.5 89.9h0M738.4 92.4h0M744.3 102.5h0M743.3 96.1h0M743.6 102.8h0M743.5 79.3h0M736.8 88.2h0M739.7 128.8h0M743.1 142.5h0M737.6 135.1h0M747.9 135.1h0M746.5 129.3h0M741 136h0M744 124.7h0M751.9 146.2h0M747.2 130.1h0M738.9 125.3h0"/><rect x="671.3" y="47.6" width="116.6" height="135.2" fill="none" stroke="#6e6e6e" stroke-width="1.1"/><line x1="696.4" y1="182.8" x2="696.4" y2="185" stroke="#333" stroke-width="0.8"/><text x="696.4" y="193" font-size="7.9" fill="#4d4d4d" text-anchor="middle">−50</text><line x1="729.6" y1="182.8" x2="729.6" y2="185" stroke="#333" stroke-width="0.8"/><text x="729.6" y="193" font-size="7.9" fill="#4d4d4d" text-anchor="middle">0</text><line x1="762.8" y1="182.8" x2="762.8" y2="185" stroke="#333" stroke-width="0.8"/><text x="762.8" y="193" font-size="7.9" fill="#4d4d4d" text-anchor="middle">50</text><text x="676.3" y="60.3" font-size="9.2" fill="#000" stroke="#000" stroke-width="0.18" textLength="80.7" lengthAdjust="spacingAndGlyphs"><tspan font-style="italic">cor</tspan> = -0.02, <tspan font-style="italic">P</tspan> = 0.025</text><line x1="305.6" y1="54" x2="307.8" y2="54" stroke="#333" stroke-width="0.8"/><text x="304" y="56.8" font-size="7.9" fill="#4d4d4d" text-anchor="end">10</text><line x1="305.6" y1="84.7" x2="307.8" y2="84.7" stroke="#333" stroke-width="0.8"/><text x="304" y="87.5" font-size="7.9" fill="#4d4d4d" text-anchor="end">5</text><line x1="305.6" y1="115.4" x2="307.8" y2="115.4" stroke="#333" stroke-width="0.8"/><text x="304" y="118.2" font-size="7.9" fill="#4d4d4d" text-anchor="end">0</text><line x1="305.6" y1="146.1" x2="307.8" y2="146.1" stroke="#333" stroke-width="0.8"/><text x="304" y="148.9" font-size="7.9" fill="#4d4d4d" text-anchor="end">−5</text><line x1="305.6" y1="176.8" x2="307.8" y2="176.8" stroke="#333" stroke-width="0.8"/><text x="304" y="179.6" font-size="7.9" fill="#4d4d4d" text-anchor="end">−10</text><text x="547.7" y="203.2" font-size="8.8" fill="#000" text-anchor="middle">Methyaltion level change (%)</text><g transform="translate(280.3,115.6) rotate(-90)"><text x="0" y="0" font-size="9.1" fill="#000" text-anchor="middle">Gene expression change</text></g><g transform="translate(289.1,114.8) rotate(-90)"><text x="0" y="0" font-size="9.2" fill="#000" text-anchor="middle">(log2 Fold change)</text></g><text x="783.8" y="176.2" font-size="12.1" fill="#000" stroke="#000" stroke-width="0.25" text-anchor="end">Testis</text></svg></body></html>
